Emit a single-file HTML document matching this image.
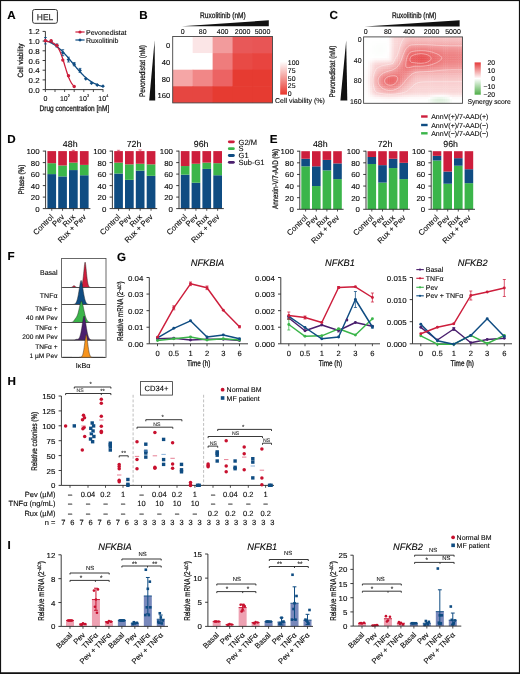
<!DOCTYPE html>
<html><head><meta charset="utf-8"><style>
html,body{margin:0;padding:0;background:#fff;}
svg{display:block;will-change:transform;}
text{font-family:"Liberation Sans", sans-serif;text-rendering:geometricPrecision;}
</style></head><body>
<svg width="520" height="674" viewBox="0 0 520 674" font-family='"Liberation Sans", sans-serif'>
<rect width="520" height="674" fill="#fff"/>
<rect x="0.5" y="0.5" width="519" height="672.6" fill="none" stroke="#111" stroke-width="1.2"/>
<rect x="0" y="672.5" width="520" height="1.5" fill="#111"/>
<text font-size="11.6" font-weight="bold" fill="#000" stroke="#000" stroke-width="0.15" x="7.20" y="19.20">A</text>
<rect x="32.6" y="9.5" width="24.8" height="13.8" rx="2" fill="none" stroke="#333" stroke-width="1.0"/>
<text font-size="8.4" text-anchor="middle" fill="#333" stroke="#333" stroke-width="0.25" x="45.00" y="19.50">HEL</text>
<line x1="45.40" y1="31.40" x2="45.40" y2="89.60" stroke="#262626" stroke-width="0.9"/>
<line x1="42.60" y1="89.60" x2="45.40" y2="89.60" stroke="#262626" stroke-width="0.9"/>
<text font-size="7.2" text-anchor="end" stroke="#262626" stroke-width="0.12" transform="translate(39.60 92.62) scale(1.100 1)">0.0</text>
<line x1="42.60" y1="79.90" x2="45.40" y2="79.90" stroke="#262626" stroke-width="0.9"/>
<text font-size="7.2" text-anchor="end" stroke="#262626" stroke-width="0.12" transform="translate(39.60 82.92) scale(1.100 1)">0.2</text>
<line x1="42.60" y1="70.20" x2="45.40" y2="70.20" stroke="#262626" stroke-width="0.9"/>
<text font-size="7.2" text-anchor="end" stroke="#262626" stroke-width="0.12" transform="translate(39.60 73.22) scale(1.100 1)">0.4</text>
<line x1="42.60" y1="60.50" x2="45.40" y2="60.50" stroke="#262626" stroke-width="0.9"/>
<text font-size="7.2" text-anchor="end" stroke="#262626" stroke-width="0.12" transform="translate(39.60 63.52) scale(1.100 1)">0.6</text>
<line x1="42.60" y1="50.80" x2="45.40" y2="50.80" stroke="#262626" stroke-width="0.9"/>
<text font-size="7.2" text-anchor="end" stroke="#262626" stroke-width="0.12" transform="translate(39.60 53.82) scale(1.100 1)">0.8</text>
<line x1="42.60" y1="41.10" x2="45.40" y2="41.10" stroke="#262626" stroke-width="0.9"/>
<text font-size="7.2" text-anchor="end" stroke="#262626" stroke-width="0.12" transform="translate(39.60 44.12) scale(1.100 1)">1.0</text>
<line x1="42.60" y1="31.40" x2="45.40" y2="31.40" stroke="#262626" stroke-width="0.9"/>
<text font-size="7.2" text-anchor="end" stroke="#262626" stroke-width="0.12" transform="translate(39.60 34.42) scale(1.100 1)">1.2</text>
<line x1="45.40" y1="89.60" x2="103.30" y2="89.60" stroke="#262626" stroke-width="0.9"/>
<line x1="45.40" y1="89.60" x2="45.40" y2="92.00" stroke="#262626" stroke-width="0.8"/>
<line x1="55.00" y1="89.60" x2="55.00" y2="92.00" stroke="#262626" stroke-width="0.8"/>
<line x1="64.60" y1="89.60" x2="64.60" y2="92.00" stroke="#262626" stroke-width="0.8"/>
<line x1="74.20" y1="89.60" x2="74.20" y2="92.00" stroke="#262626" stroke-width="0.8"/>
<line x1="83.80" y1="89.60" x2="83.80" y2="92.00" stroke="#262626" stroke-width="0.8"/>
<line x1="93.40" y1="89.60" x2="93.40" y2="92.00" stroke="#262626" stroke-width="0.8"/>
<line x1="103.00" y1="89.60" x2="103.00" y2="92.00" stroke="#262626" stroke-width="0.8"/>
<text font-size="7" text-anchor="middle" stroke="#262626" stroke-width="0.12" x="45.40" y="100.60">0</text>
<text font-size="7" text-anchor="middle" stroke="#262626" stroke-width="0.12" x="63.80" y="100.60">10</text>
<text font-size="3.8" stroke="#262626" stroke-width="0.12" x="67.80" y="97.00">2</text>
<text font-size="7" text-anchor="middle" stroke="#262626" stroke-width="0.12" x="83.00" y="100.60">10</text>
<text font-size="3.8" stroke="#262626" stroke-width="0.12" x="87.00" y="97.00">3</text>
<text font-size="7" text-anchor="middle" stroke="#262626" stroke-width="0.12" x="102.20" y="100.60">10</text>
<text font-size="3.8" stroke="#262626" stroke-width="0.12" x="106.20" y="97.00">4</text>
<text font-size="8.1" stroke="#262626" stroke-width="0.26" transform="translate(39.50 110.60) scale(0.807 1)">Drug concentration [nM]</text>
<text font-size="7.6" text-anchor="middle" stroke="#262626" stroke-width="0.26" transform="translate(23.00 60.40) rotate(-90) scale(0.847 1)">Cell viability</text>
<polyline points="45.40,40.40 45.98,40.61 46.55,40.82 47.13,41.04 47.70,41.27 48.28,41.51 48.86,41.76 49.43,42.02 50.01,42.30 50.58,42.58 51.16,42.88 51.74,43.19 52.31,43.51 52.89,43.84 53.46,44.19 54.04,44.55 54.62,44.93 55.19,45.32 55.77,45.72 56.34,46.14 56.92,46.57 57.50,47.01 58.07,47.47 58.65,47.95 59.22,48.44 59.80,48.94 60.38,49.46 60.95,49.99 61.53,50.53 62.10,51.09 62.68,51.67 63.26,52.25 63.83,52.85 64.41,53.46 64.98,54.09 65.56,54.72 66.14,55.37 66.71,56.02 67.29,56.69 67.86,57.36 68.44,58.04 69.02,58.73 69.59,59.42 70.17,60.12 70.74,60.82 71.32,61.52 71.90,62.23 72.47,62.94 73.05,63.65 73.62,64.35 74.20,65.06 74.78,65.76 75.35,66.46 75.93,67.15 76.50,67.84 77.08,68.52 77.66,69.20 78.23,69.86 78.81,70.52 79.38,71.17 79.96,71.80 80.54,72.43 81.11,73.04 81.69,73.64 82.26,74.23 82.84,74.81 83.42,75.37 83.99,75.92 84.57,76.45 85.14,76.97 85.72,77.48 86.30,77.97 86.87,78.45 87.45,78.91 88.02,79.36 88.60,79.79 89.18,80.21 89.75,80.61 90.33,81.00 90.90,81.38 91.48,81.74 92.06,82.09 92.63,82.43 93.21,82.75 93.78,83.07 94.36,83.37 94.94,83.65 95.51,83.93 96.09,84.19 96.66,84.45 97.24,84.69 97.82,84.92 98.39,85.14 98.97,85.36 99.54,85.56 100.12,85.75 100.70,85.94 101.27,86.12 101.85,86.29 102.42,86.45 103.00,86.60" fill="none" stroke="#0f4c82" stroke-width="1.3" stroke-linejoin="round"/>
<polyline points="45.40,41.34 45.78,41.36 46.17,41.39 46.55,41.43 46.94,41.46 47.32,41.50 47.70,41.54 48.09,41.59 48.47,41.65 48.86,41.71 49.24,41.78 49.62,41.85 50.01,41.93 50.39,42.02 50.78,42.12 51.16,42.23 51.54,42.36 51.93,42.49 52.31,42.64 52.70,42.81 53.08,42.99 53.46,43.19 53.85,43.41 54.23,43.65 54.62,43.92 55.00,44.22 55.38,44.54 55.77,44.89 56.15,45.28 56.54,45.70 56.92,46.15 57.30,46.65 57.69,47.19 58.07,47.78 58.46,48.41 58.84,49.09 59.22,49.81 59.61,50.59 59.99,51.42 60.38,52.31 60.76,53.24 61.14,54.23 61.53,55.26 61.91,56.34 62.30,57.46 62.68,58.63 63.06,59.82 63.45,61.05 63.83,62.30 64.22,63.56 64.60,64.84 64.98,66.12 65.37,67.39 65.75,68.65 66.14,69.90 66.52,71.12 66.90,72.31 67.29,73.46 67.67,74.58 68.06,75.65 68.44,76.67 68.82,77.65 69.21,78.57 69.59,79.45 69.98,80.27 70.36,81.04 70.74,81.75 71.13,82.42 71.51,83.04 71.90,83.62 72.28,84.15 72.66,84.64 73.05,85.09 73.43,85.50 73.82,85.88 74.20,86.23" fill="none" stroke="#cd1e3c" stroke-width="1.3" stroke-linejoin="round"/>
<line x1="45.40" y1="37.50" x2="45.40" y2="43.90" stroke="#0f4c82" stroke-width="0.8"/>
<line x1="44.00" y1="37.50" x2="46.80" y2="37.50" stroke="#0f4c82" stroke-width="0.8"/>
<line x1="44.00" y1="43.90" x2="46.80" y2="43.90" stroke="#0f4c82" stroke-width="0.8"/>
<polygon points="45.40,38.80 47.30,40.70 45.40,42.60 43.50,40.70" fill="#0f4c82"/>
<polygon points="51.10,39.30 53.00,41.20 51.10,43.10 49.20,41.20" fill="#0f4c82"/>
<line x1="56.90" y1="44.00" x2="56.90" y2="47.00" stroke="#0f4c82" stroke-width="0.8"/>
<line x1="55.50" y1="44.00" x2="58.30" y2="44.00" stroke="#0f4c82" stroke-width="0.8"/>
<line x1="55.50" y1="47.00" x2="58.30" y2="47.00" stroke="#0f4c82" stroke-width="0.8"/>
<polygon points="56.90,43.60 58.80,45.50 56.90,47.40 55.00,45.50" fill="#0f4c82"/>
<line x1="62.80" y1="49.70" x2="62.80" y2="55.70" stroke="#0f4c82" stroke-width="0.8"/>
<line x1="61.40" y1="49.70" x2="64.20" y2="49.70" stroke="#0f4c82" stroke-width="0.8"/>
<line x1="61.40" y1="55.70" x2="64.20" y2="55.70" stroke="#0f4c82" stroke-width="0.8"/>
<polygon points="62.80,50.80 64.70,52.70 62.80,54.60 60.90,52.70" fill="#0f4c82"/>
<line x1="68.50" y1="57.20" x2="68.50" y2="62.00" stroke="#0f4c82" stroke-width="0.8"/>
<line x1="67.10" y1="57.20" x2="69.90" y2="57.20" stroke="#0f4c82" stroke-width="0.8"/>
<line x1="67.10" y1="62.00" x2="69.90" y2="62.00" stroke="#0f4c82" stroke-width="0.8"/>
<polygon points="68.50,57.70 70.40,59.60 68.50,61.50 66.60,59.60" fill="#0f4c82"/>
<line x1="74.20" y1="62.60" x2="74.20" y2="65.80" stroke="#0f4c82" stroke-width="0.8"/>
<line x1="72.80" y1="62.60" x2="75.60" y2="62.60" stroke="#0f4c82" stroke-width="0.8"/>
<line x1="72.80" y1="65.80" x2="75.60" y2="65.80" stroke="#0f4c82" stroke-width="0.8"/>
<polygon points="74.20,62.30 76.10,64.20 74.20,66.10 72.30,64.20" fill="#0f4c82"/>
<line x1="80.00" y1="68.40" x2="80.00" y2="72.40" stroke="#0f4c82" stroke-width="0.8"/>
<line x1="78.60" y1="68.40" x2="81.40" y2="68.40" stroke="#0f4c82" stroke-width="0.8"/>
<line x1="78.60" y1="72.40" x2="81.40" y2="72.40" stroke="#0f4c82" stroke-width="0.8"/>
<polygon points="80.00,68.50 81.90,70.40 80.00,72.30 78.10,70.40" fill="#0f4c82"/>
<polygon points="85.80,76.90 87.70,78.80 85.80,80.70 83.90,78.80" fill="#0f4c82"/>
<polygon points="91.50,81.30 93.40,83.20 91.50,85.10 89.60,83.20" fill="#0f4c82"/>
<polygon points="97.20,83.10 99.10,85.00 97.20,86.90 95.30,85.00" fill="#0f4c82"/>
<polygon points="103.00,84.30 104.90,86.20 103.00,88.10 101.10,86.20" fill="#0f4c82"/>
<circle cx="45.40" cy="40.70" r="1.7" fill="#cd1e3c"/>
<circle cx="51.10" cy="40.80" r="1.7" fill="#cd1e3c"/>
<circle cx="56.90" cy="45.50" r="1.7" fill="#cd1e3c"/>
<circle cx="62.80" cy="60.10" r="1.7" fill="#cd1e3c"/>
<circle cx="68.50" cy="75.80" r="1.7" fill="#cd1e3c"/>
<circle cx="74.20" cy="86.50" r="1.7" fill="#cd1e3c"/>
<line x1="75.40" y1="32.00" x2="84.60" y2="32.00" stroke="#cd1e3c" stroke-width="1.2"/>
<circle cx="80.00" cy="32.00" r="1.6" fill="#cd1e3c"/>
<text font-size="7" stroke="#262626" stroke-width="0.12" x="86.00" y="34.50">Pevonedistat</text>
<line x1="75.40" y1="40.00" x2="84.60" y2="40.00" stroke="#0f4c82" stroke-width="1.2"/>
<polygon points="80.00,38.20 81.80,40.00 80.00,41.80 78.20,40.00" fill="#0f4c82"/>
<text font-size="7" stroke="#262626" stroke-width="0.12" x="86.00" y="42.50">Ruxolitinib</text>
<text font-size="11.6" font-weight="bold" fill="#000" stroke="#000" stroke-width="0.15" x="139.30" y="18.90">B</text>
<rect x="172.70" y="36.50" width="20.56" height="17.20" fill="#ffffff"/>
<rect x="192.66" y="36.50" width="20.56" height="17.20" fill="#fbe5e6"/>
<rect x="212.62" y="36.50" width="20.56" height="17.20" fill="#f29b9c"/>
<rect x="232.58" y="36.50" width="20.56" height="17.20" fill="#e85858"/>
<rect x="252.54" y="36.50" width="19.96" height="17.20" fill="#e85555"/>
<rect x="172.70" y="53.10" width="20.56" height="17.20" fill="#ffffff"/>
<rect x="192.66" y="53.10" width="20.56" height="17.20" fill="#ffffff"/>
<rect x="212.62" y="53.10" width="20.56" height="17.20" fill="#ef7c7c"/>
<rect x="232.58" y="53.10" width="20.56" height="17.20" fill="#e84a45"/>
<rect x="252.54" y="53.10" width="19.96" height="17.20" fill="#e8443f"/>
<rect x="172.70" y="69.70" width="20.56" height="17.20" fill="#f5a6a6"/>
<rect x="192.66" y="69.70" width="20.56" height="17.20" fill="#f18787"/>
<rect x="212.62" y="69.70" width="20.56" height="17.20" fill="#ec6363"/>
<rect x="232.58" y="69.70" width="20.56" height="17.20" fill="#e63b31"/>
<rect x="252.54" y="69.70" width="19.96" height="17.20" fill="#e63b31"/>
<rect x="172.70" y="86.30" width="20.56" height="16.60" fill="#e64641"/>
<rect x="192.66" y="86.30" width="20.56" height="16.60" fill="#e64641"/>
<rect x="212.62" y="86.30" width="20.56" height="16.60" fill="#e63b31"/>
<rect x="232.58" y="86.30" width="20.56" height="16.60" fill="#e63b31"/>
<rect x="252.54" y="86.30" width="19.96" height="16.60" fill="#e63b31"/>
<rect x="172.70" y="36.50" width="99.80" height="66.40" fill="none" stroke="#444" stroke-width="0.9"/>
<text font-size="7" text-anchor="middle" stroke="#262626" stroke-width="0.12" x="182.68" y="34.40">0</text>
<text font-size="7" text-anchor="middle" stroke="#262626" stroke-width="0.12" x="202.64" y="34.40">80</text>
<text font-size="7" text-anchor="middle" stroke="#262626" stroke-width="0.12" x="222.60" y="34.40">400</text>
<text font-size="7" text-anchor="middle" stroke="#262626" stroke-width="0.12" x="242.56" y="34.40">2000</text>
<text font-size="7" text-anchor="middle" stroke="#262626" stroke-width="0.12" x="262.52" y="34.40">5000</text>
<text font-size="7.2" text-anchor="end" stroke="#262626" stroke-width="0.12" transform="translate(170.20 48.30) scale(1.060 1)">0</text>
<text font-size="7.2" text-anchor="end" stroke="#262626" stroke-width="0.12" transform="translate(170.20 64.90) scale(1.060 1)">40</text>
<text font-size="7.2" text-anchor="end" stroke="#262626" stroke-width="0.12" transform="translate(170.20 81.50) scale(1.060 1)">80</text>
<text font-size="7.2" text-anchor="end" stroke="#262626" stroke-width="0.12" transform="translate(170.20 98.10) scale(1.060 1)">160</text>
<polygon points="182.00,26.20 268.80,20.30 268.80,26.20" fill="#111"/>
<text font-size="8.1" text-anchor="middle" stroke="#262626" stroke-width="0.26" transform="translate(222.90 17.60) scale(0.814 1)">Ruxolitinib (nM)</text>
<polygon points="154.60,40.40 155.20,100.40 149.20,100.40" fill="#111"/>
<text font-size="8.1" text-anchor="middle" stroke="#262626" stroke-width="0.26" transform="translate(144.90 71.00) rotate(-90) scale(0.791 1)">Pevonedistat (nM)</text>
<defs><linearGradient id="gB" x1="0" y1="0" x2="0" y2="1"><stop offset="0" stop-color="#ffffff"/><stop offset="1" stop-color="#e8372d"/></linearGradient><linearGradient id="gC" x1="0" y1="0" x2="0" y2="1"><stop offset="0" stop-color="#e53a3a"/><stop offset="0.5" stop-color="#ffffff"/><stop offset="1" stop-color="#4fae48"/></linearGradient></defs>
<rect x="280.20" y="61.50" width="6.80" height="33.10" fill="url(#gB)"/>
<text font-size="6.9" stroke="#262626" stroke-width="0.12" x="287.80" y="65.40">100</text>
<text font-size="6.9" stroke="#262626" stroke-width="0.12" x="287.80" y="73.05">75</text>
<text font-size="6.9" stroke="#262626" stroke-width="0.12" x="287.80" y="80.70">50</text>
<text font-size="6.9" stroke="#262626" stroke-width="0.12" x="287.80" y="88.35">25</text>
<text font-size="6.9" stroke="#262626" stroke-width="0.12" x="287.80" y="96.00">0</text>
<text font-size="7" stroke="#262626" stroke-width="0.12" x="275.00" y="103.30">Cell viability (%)</text>
<text font-size="11.6" font-weight="bold" fill="#000" stroke="#000" stroke-width="0.15" x="329.60" y="19.00">C</text>
<defs><clipPath id="clipC"><rect x="363.60" y="36.90" width="98.90" height="66.40"/></clipPath><filter id="blC" x="-50%" y="-50%" width="200%" height="200%"><feGaussianBlur stdDeviation="3.2"/></filter><filter id="blC2" x="-50%" y="-50%" width="200%" height="200%"><feGaussianBlur stdDeviation="2.2"/></filter></defs>
<g clip-path="url(#clipC)">
<rect x="363.60" y="36.90" width="98.90" height="66.40" fill="#ffffff"/>
<rect x="387.25" y="36.90" width="2.55" height="2.54" fill="#fffdfd"/>
<rect x="389.40" y="36.90" width="2.55" height="2.54" fill="#fdf2f2"/>
<rect x="391.55" y="36.90" width="2.55" height="2.54" fill="#fbe4e4"/>
<rect x="393.70" y="36.90" width="2.55" height="2.54" fill="#fad9da"/>
<rect x="395.85" y="36.90" width="2.55" height="2.54" fill="#fad7d7"/>
<rect x="398.00" y="36.90" width="2.55" height="2.54" fill="#f9d5d6"/>
<rect x="400.15" y="36.90" width="2.55" height="2.54" fill="#f9d2d3"/>
<rect x="402.30" y="36.90" width="2.55" height="2.54" fill="#f8cfcf"/>
<rect x="404.45" y="36.90" width="2.55" height="2.54" fill="#f8cbcb"/>
<rect x="406.60" y="36.90" width="2.55" height="2.54" fill="#f7c7c8"/>
<rect x="408.75" y="36.90" width="2.55" height="2.54" fill="#f7c5c5"/>
<rect x="410.90" y="36.90" width="2.55" height="2.54" fill="#f7c3c4"/>
<rect x="413.05" y="36.90" width="2.55" height="2.54" fill="#f7c3c4"/>
<rect x="415.20" y="36.90" width="2.55" height="2.54" fill="#f7c3c4"/>
<rect x="417.35" y="36.90" width="2.55" height="2.54" fill="#f7c3c4"/>
<rect x="419.50" y="36.90" width="2.55" height="2.54" fill="#f7c3c4"/>
<rect x="421.65" y="36.90" width="2.55" height="2.54" fill="#f7c3c4"/>
<rect x="423.80" y="36.90" width="2.55" height="2.54" fill="#f7c3c4"/>
<rect x="425.95" y="36.90" width="2.55" height="2.54" fill="#f7c3c4"/>
<rect x="428.10" y="36.90" width="2.55" height="2.54" fill="#f7c3c4"/>
<rect x="430.25" y="36.90" width="2.55" height="2.54" fill="#f7c4c4"/>
<rect x="432.40" y="36.90" width="2.55" height="2.54" fill="#f7c4c4"/>
<rect x="434.55" y="36.90" width="2.55" height="2.54" fill="#f7c4c4"/>
<rect x="436.70" y="36.90" width="2.55" height="2.54" fill="#f7c4c4"/>
<rect x="438.85" y="36.90" width="2.55" height="2.54" fill="#f7c4c4"/>
<rect x="441.00" y="36.90" width="2.55" height="2.54" fill="#f7c4c4"/>
<rect x="443.15" y="36.90" width="2.55" height="2.54" fill="#f7c4c4"/>
<rect x="445.30" y="36.90" width="2.55" height="2.54" fill="#f7c4c4"/>
<rect x="447.45" y="36.90" width="2.55" height="2.54" fill="#f7c4c4"/>
<rect x="449.60" y="36.90" width="2.55" height="2.54" fill="#f7c4c4"/>
<rect x="451.75" y="36.90" width="2.55" height="2.54" fill="#f7c4c4"/>
<rect x="453.90" y="36.90" width="2.55" height="2.54" fill="#f7c4c4"/>
<rect x="456.05" y="36.90" width="2.55" height="2.54" fill="#f7c4c4"/>
<rect x="458.20" y="36.90" width="2.55" height="2.54" fill="#f7c4c4"/>
<rect x="460.35" y="36.90" width="2.55" height="2.54" fill="#f7c4c4"/>
<rect x="378.65" y="39.04" width="2.55" height="2.54" fill="#fefffe"/>
<rect x="387.25" y="39.04" width="2.55" height="2.54" fill="#fffdfd"/>
<rect x="389.40" y="39.04" width="2.55" height="2.54" fill="#fdf2f2"/>
<rect x="391.55" y="39.04" width="2.55" height="2.54" fill="#fbe4e4"/>
<rect x="393.70" y="39.04" width="2.55" height="2.54" fill="#fad9da"/>
<rect x="395.85" y="39.04" width="2.55" height="2.54" fill="#fad7d7"/>
<rect x="398.00" y="39.04" width="2.55" height="2.54" fill="#f9d4d5"/>
<rect x="400.15" y="39.04" width="2.55" height="2.54" fill="#f9d0d1"/>
<rect x="402.30" y="39.04" width="2.55" height="2.54" fill="#f8cbcc"/>
<rect x="404.45" y="39.04" width="2.55" height="2.54" fill="#f7c6c6"/>
<rect x="406.60" y="39.04" width="2.55" height="2.54" fill="#f7c1c2"/>
<rect x="408.75" y="39.04" width="2.55" height="2.54" fill="#f6bebe"/>
<rect x="410.90" y="39.04" width="2.55" height="2.54" fill="#f6bcbd"/>
<rect x="413.05" y="39.04" width="2.55" height="2.54" fill="#f6bcbd"/>
<rect x="415.20" y="39.04" width="2.55" height="2.54" fill="#f6bcbd"/>
<rect x="417.35" y="39.04" width="2.55" height="2.54" fill="#f6bcbc"/>
<rect x="419.50" y="39.04" width="2.55" height="2.54" fill="#f6bcbc"/>
<rect x="421.65" y="39.04" width="2.55" height="2.54" fill="#f6bcbc"/>
<rect x="423.80" y="39.04" width="2.55" height="2.54" fill="#f6bcbc"/>
<rect x="425.95" y="39.04" width="2.55" height="2.54" fill="#f6bcbd"/>
<rect x="428.10" y="39.04" width="2.55" height="2.54" fill="#f6bcbd"/>
<rect x="430.25" y="39.04" width="2.55" height="2.54" fill="#f6bcbd"/>
<rect x="432.40" y="39.04" width="2.55" height="2.54" fill="#f6bcbd"/>
<rect x="434.55" y="39.04" width="2.55" height="2.54" fill="#f6bcbd"/>
<rect x="436.70" y="39.04" width="2.55" height="2.54" fill="#f6bdbd"/>
<rect x="438.85" y="39.04" width="2.55" height="2.54" fill="#f6bdbd"/>
<rect x="441.00" y="39.04" width="2.55" height="2.54" fill="#f6bdbd"/>
<rect x="443.15" y="39.04" width="2.55" height="2.54" fill="#f6bdbe"/>
<rect x="445.30" y="39.04" width="2.55" height="2.54" fill="#f6bdbe"/>
<rect x="447.45" y="39.04" width="2.55" height="2.54" fill="#f6bdbe"/>
<rect x="449.60" y="39.04" width="2.55" height="2.54" fill="#f6bdbe"/>
<rect x="451.75" y="39.04" width="2.55" height="2.54" fill="#f6bdbe"/>
<rect x="453.90" y="39.04" width="2.55" height="2.54" fill="#f6bdbe"/>
<rect x="456.05" y="39.04" width="2.55" height="2.54" fill="#f6bdbe"/>
<rect x="458.20" y="39.04" width="2.55" height="2.54" fill="#f6bdbe"/>
<rect x="460.35" y="39.04" width="2.55" height="2.54" fill="#f6bdbe"/>
<rect x="372.20" y="41.18" width="2.55" height="2.54" fill="#fefffe"/>
<rect x="374.35" y="41.18" width="2.55" height="2.54" fill="#fefffe"/>
<rect x="376.50" y="41.18" width="2.55" height="2.54" fill="#fefffe"/>
<rect x="378.65" y="41.18" width="2.55" height="2.54" fill="#fefffe"/>
<rect x="380.80" y="41.18" width="2.55" height="2.54" fill="#fefffe"/>
<rect x="382.95" y="41.18" width="2.55" height="2.54" fill="#fefffe"/>
<rect x="385.10" y="41.18" width="2.55" height="2.54" fill="#fefffe"/>
<rect x="387.25" y="41.18" width="2.55" height="2.54" fill="#fffdfd"/>
<rect x="389.40" y="41.18" width="2.55" height="2.54" fill="#fdf2f2"/>
<rect x="391.55" y="41.18" width="2.55" height="2.54" fill="#fbe4e4"/>
<rect x="393.70" y="41.18" width="2.55" height="2.54" fill="#fad9d9"/>
<rect x="395.85" y="41.18" width="2.55" height="2.54" fill="#fad7d7"/>
<rect x="398.00" y="41.18" width="2.55" height="2.54" fill="#f9d3d4"/>
<rect x="400.15" y="41.18" width="2.55" height="2.54" fill="#f8cecf"/>
<rect x="402.30" y="41.18" width="2.55" height="2.54" fill="#f7c7c8"/>
<rect x="404.45" y="41.18" width="2.55" height="2.54" fill="#f6c0c1"/>
<rect x="406.60" y="41.18" width="2.55" height="2.54" fill="#f6baba"/>
<rect x="408.75" y="41.18" width="2.55" height="2.54" fill="#f5b5b6"/>
<rect x="410.90" y="41.18" width="2.55" height="2.54" fill="#f5b3b4"/>
<rect x="413.05" y="41.18" width="2.55" height="2.54" fill="#f5b3b3"/>
<rect x="415.20" y="41.18" width="2.55" height="2.54" fill="#f5b2b3"/>
<rect x="417.35" y="41.18" width="2.55" height="2.54" fill="#f5b2b3"/>
<rect x="419.50" y="41.18" width="2.55" height="2.54" fill="#f5b2b3"/>
<rect x="421.65" y="41.18" width="2.55" height="2.54" fill="#f5b2b3"/>
<rect x="423.80" y="41.18" width="2.55" height="2.54" fill="#f5b2b3"/>
<rect x="425.95" y="41.18" width="2.55" height="2.54" fill="#f5b3b3"/>
<rect x="428.10" y="41.18" width="2.55" height="2.54" fill="#f5b3b4"/>
<rect x="430.25" y="41.18" width="2.55" height="2.54" fill="#f5b3b4"/>
<rect x="432.40" y="41.18" width="2.55" height="2.54" fill="#f5b3b4"/>
<rect x="434.55" y="41.18" width="2.55" height="2.54" fill="#f5b4b5"/>
<rect x="436.70" y="41.18" width="2.55" height="2.54" fill="#f5b4b5"/>
<rect x="438.85" y="41.18" width="2.55" height="2.54" fill="#f5b4b5"/>
<rect x="441.00" y="41.18" width="2.55" height="2.54" fill="#f5b4b5"/>
<rect x="443.15" y="41.18" width="2.55" height="2.54" fill="#f5b5b5"/>
<rect x="445.30" y="41.18" width="2.55" height="2.54" fill="#f5b5b5"/>
<rect x="447.45" y="41.18" width="2.55" height="2.54" fill="#f5b5b6"/>
<rect x="449.60" y="41.18" width="2.55" height="2.54" fill="#f5b5b6"/>
<rect x="451.75" y="41.18" width="2.55" height="2.54" fill="#f5b5b6"/>
<rect x="453.90" y="41.18" width="2.55" height="2.54" fill="#f5b5b6"/>
<rect x="456.05" y="41.18" width="2.55" height="2.54" fill="#f5b5b6"/>
<rect x="458.20" y="41.18" width="2.55" height="2.54" fill="#f5b5b6"/>
<rect x="460.35" y="41.18" width="2.55" height="2.54" fill="#f5b5b6"/>
<rect x="370.05" y="43.33" width="2.55" height="2.54" fill="#fefffe"/>
<rect x="372.20" y="43.33" width="2.55" height="2.54" fill="#fefffe"/>
<rect x="374.35" y="43.33" width="2.55" height="2.54" fill="#fefefe"/>
<rect x="376.50" y="43.33" width="2.55" height="2.54" fill="#fdfefd"/>
<rect x="378.65" y="43.33" width="2.55" height="2.54" fill="#fdfefd"/>
<rect x="380.80" y="43.33" width="2.55" height="2.54" fill="#fdfefd"/>
<rect x="382.95" y="43.33" width="2.55" height="2.54" fill="#fdfefd"/>
<rect x="385.10" y="43.33" width="2.55" height="2.54" fill="#fefefe"/>
<rect x="387.25" y="43.33" width="2.55" height="2.54" fill="#fffdfd"/>
<rect x="389.40" y="43.33" width="2.55" height="2.54" fill="#fdf2f2"/>
<rect x="391.55" y="43.33" width="2.55" height="2.54" fill="#fbe4e4"/>
<rect x="393.70" y="43.33" width="2.55" height="2.54" fill="#fad9d9"/>
<rect x="395.85" y="43.33" width="2.55" height="2.54" fill="#f9d6d7"/>
<rect x="398.00" y="43.33" width="2.55" height="2.54" fill="#f9d2d3"/>
<rect x="400.15" y="43.33" width="2.55" height="2.54" fill="#f8cbcc"/>
<rect x="402.30" y="43.33" width="2.55" height="2.54" fill="#f7c2c3"/>
<rect x="404.45" y="43.33" width="2.55" height="2.54" fill="#f6b9ba"/>
<rect x="406.60" y="43.33" width="2.55" height="2.54" fill="#f4b1b2"/>
<rect x="408.75" y="43.33" width="2.55" height="2.54" fill="#f4abac"/>
<rect x="410.90" y="43.33" width="2.55" height="2.54" fill="#f3a8a9"/>
<rect x="413.05" y="43.33" width="2.55" height="2.54" fill="#f3a7a8"/>
<rect x="415.20" y="43.33" width="2.55" height="2.54" fill="#f3a7a8"/>
<rect x="417.35" y="43.33" width="2.55" height="2.54" fill="#f3a7a7"/>
<rect x="419.50" y="43.33" width="2.55" height="2.54" fill="#f3a6a7"/>
<rect x="421.65" y="43.33" width="2.55" height="2.54" fill="#f3a6a7"/>
<rect x="423.80" y="43.33" width="2.55" height="2.54" fill="#f3a7a8"/>
<rect x="425.95" y="43.33" width="2.55" height="2.54" fill="#f3a7a8"/>
<rect x="428.10" y="43.33" width="2.55" height="2.54" fill="#f3a8a9"/>
<rect x="430.25" y="43.33" width="2.55" height="2.54" fill="#f3a8a9"/>
<rect x="432.40" y="43.33" width="2.55" height="2.54" fill="#f3a9aa"/>
<rect x="434.55" y="43.33" width="2.55" height="2.54" fill="#f3aaaa"/>
<rect x="436.70" y="43.33" width="2.55" height="2.54" fill="#f3aaab"/>
<rect x="438.85" y="43.33" width="2.55" height="2.54" fill="#f4abab"/>
<rect x="441.00" y="43.33" width="2.55" height="2.54" fill="#f4abac"/>
<rect x="443.15" y="43.33" width="2.55" height="2.54" fill="#f4abac"/>
<rect x="445.30" y="43.33" width="2.55" height="2.54" fill="#f4abac"/>
<rect x="447.45" y="43.33" width="2.55" height="2.54" fill="#f4acac"/>
<rect x="449.60" y="43.33" width="2.55" height="2.54" fill="#f4acad"/>
<rect x="451.75" y="43.33" width="2.55" height="2.54" fill="#f4acad"/>
<rect x="453.90" y="43.33" width="2.55" height="2.54" fill="#f4acad"/>
<rect x="456.05" y="43.33" width="2.55" height="2.54" fill="#f4acad"/>
<rect x="458.20" y="43.33" width="2.55" height="2.54" fill="#f4acad"/>
<rect x="460.35" y="43.33" width="2.55" height="2.54" fill="#f4acad"/>
<rect x="367.90" y="45.47" width="2.55" height="2.54" fill="#fefffe"/>
<rect x="370.05" y="45.47" width="2.55" height="2.54" fill="#fefffe"/>
<rect x="372.20" y="45.47" width="2.55" height="2.54" fill="#fdfefd"/>
<rect x="374.35" y="45.47" width="2.55" height="2.54" fill="#fdfefd"/>
<rect x="376.50" y="45.47" width="2.55" height="2.54" fill="#fcfefc"/>
<rect x="378.65" y="45.47" width="2.55" height="2.54" fill="#fcfefc"/>
<rect x="380.80" y="45.47" width="2.55" height="2.54" fill="#fcfefc"/>
<rect x="382.95" y="45.47" width="2.55" height="2.54" fill="#fdfefd"/>
<rect x="385.10" y="45.47" width="2.55" height="2.54" fill="#fdfefd"/>
<rect x="387.25" y="45.47" width="2.55" height="2.54" fill="#fffefe"/>
<rect x="389.40" y="45.47" width="2.55" height="2.54" fill="#fdf2f2"/>
<rect x="391.55" y="45.47" width="2.55" height="2.54" fill="#fbe4e4"/>
<rect x="393.70" y="45.47" width="2.55" height="2.54" fill="#fad9d9"/>
<rect x="395.85" y="45.47" width="2.55" height="2.54" fill="#f9d6d6"/>
<rect x="398.00" y="45.47" width="2.55" height="2.54" fill="#f9d1d1"/>
<rect x="400.15" y="45.47" width="2.55" height="2.54" fill="#f8c8c8"/>
<rect x="402.30" y="45.47" width="2.55" height="2.54" fill="#f6bdbe"/>
<rect x="404.45" y="45.47" width="2.55" height="2.54" fill="#f4b1b2"/>
<rect x="406.60" y="45.47" width="2.55" height="2.54" fill="#f3a7a8"/>
<rect x="408.75" y="45.47" width="2.55" height="2.54" fill="#f29fa0"/>
<rect x="410.90" y="45.47" width="2.55" height="2.54" fill="#f19b9c"/>
<rect x="413.05" y="45.47" width="2.55" height="2.54" fill="#f19a9b"/>
<rect x="415.20" y="45.47" width="2.55" height="2.54" fill="#f1999a"/>
<rect x="417.35" y="45.47" width="2.55" height="2.54" fill="#f1999a"/>
<rect x="419.50" y="45.47" width="2.55" height="2.54" fill="#f19899"/>
<rect x="421.65" y="45.47" width="2.55" height="2.54" fill="#f1999a"/>
<rect x="423.80" y="45.47" width="2.55" height="2.54" fill="#f1999a"/>
<rect x="425.95" y="45.47" width="2.55" height="2.54" fill="#f19a9b"/>
<rect x="428.10" y="45.47" width="2.55" height="2.54" fill="#f19b9c"/>
<rect x="430.25" y="45.47" width="2.55" height="2.54" fill="#f29c9d"/>
<rect x="432.40" y="45.47" width="2.55" height="2.54" fill="#f29d9e"/>
<rect x="434.55" y="45.47" width="2.55" height="2.54" fill="#f29e9f"/>
<rect x="436.70" y="45.47" width="2.55" height="2.54" fill="#f29fa0"/>
<rect x="438.85" y="45.47" width="2.55" height="2.54" fill="#f2a0a1"/>
<rect x="441.00" y="45.47" width="2.55" height="2.54" fill="#f2a1a2"/>
<rect x="443.15" y="45.47" width="2.55" height="2.54" fill="#f2a1a2"/>
<rect x="445.30" y="45.47" width="2.55" height="2.54" fill="#f2a2a2"/>
<rect x="447.45" y="45.47" width="2.55" height="2.54" fill="#f2a2a3"/>
<rect x="449.60" y="45.47" width="2.55" height="2.54" fill="#f2a2a3"/>
<rect x="451.75" y="45.47" width="2.55" height="2.54" fill="#f2a2a3"/>
<rect x="453.90" y="45.47" width="2.55" height="2.54" fill="#f2a2a3"/>
<rect x="456.05" y="45.47" width="2.55" height="2.54" fill="#f2a2a3"/>
<rect x="458.20" y="45.47" width="2.55" height="2.54" fill="#f2a2a3"/>
<rect x="460.35" y="45.47" width="2.55" height="2.54" fill="#f2a2a3"/>
<rect x="367.90" y="47.61" width="2.55" height="2.54" fill="#fefffe"/>
<rect x="370.05" y="47.61" width="2.55" height="2.54" fill="#fefefe"/>
<rect x="372.20" y="47.61" width="2.55" height="2.54" fill="#fdfefd"/>
<rect x="374.35" y="47.61" width="2.55" height="2.54" fill="#fcfefc"/>
<rect x="376.50" y="47.61" width="2.55" height="2.54" fill="#fcfefc"/>
<rect x="378.65" y="47.61" width="2.55" height="2.54" fill="#fcfdfb"/>
<rect x="380.80" y="47.61" width="2.55" height="2.54" fill="#fcfdfc"/>
<rect x="382.95" y="47.61" width="2.55" height="2.54" fill="#fcfefc"/>
<rect x="385.10" y="47.61" width="2.55" height="2.54" fill="#fdfefd"/>
<rect x="387.25" y="47.61" width="2.55" height="2.54" fill="#fffefe"/>
<rect x="389.40" y="47.61" width="2.55" height="2.54" fill="#fdf2f2"/>
<rect x="391.55" y="47.61" width="2.55" height="2.54" fill="#fbe3e4"/>
<rect x="393.70" y="47.61" width="2.55" height="2.54" fill="#fad8d9"/>
<rect x="395.85" y="47.61" width="2.55" height="2.54" fill="#f9d5d5"/>
<rect x="398.00" y="47.61" width="2.55" height="2.54" fill="#f8cfcf"/>
<rect x="400.15" y="47.61" width="2.55" height="2.54" fill="#f7c4c4"/>
<rect x="402.30" y="47.61" width="2.55" height="2.54" fill="#f5b7b7"/>
<rect x="404.45" y="47.61" width="2.55" height="2.54" fill="#f3a9aa"/>
<rect x="406.60" y="47.61" width="2.55" height="2.54" fill="#f29c9d"/>
<rect x="408.75" y="47.61" width="2.55" height="2.54" fill="#f09293"/>
<rect x="410.90" y="47.61" width="2.55" height="2.54" fill="#f08d8e"/>
<rect x="413.05" y="47.61" width="2.55" height="2.54" fill="#ef8b8d"/>
<rect x="415.20" y="47.61" width="2.55" height="2.54" fill="#ef8a8b"/>
<rect x="417.35" y="47.61" width="2.55" height="2.54" fill="#ef898a"/>
<rect x="419.50" y="47.61" width="2.55" height="2.54" fill="#ef898a"/>
<rect x="421.65" y="47.61" width="2.55" height="2.54" fill="#ef898a"/>
<rect x="423.80" y="47.61" width="2.55" height="2.54" fill="#ef8a8b"/>
<rect x="425.95" y="47.61" width="2.55" height="2.54" fill="#ef8b8c"/>
<rect x="428.10" y="47.61" width="2.55" height="2.54" fill="#ef8c8e"/>
<rect x="430.25" y="47.61" width="2.55" height="2.54" fill="#f08e8f"/>
<rect x="432.40" y="47.61" width="2.55" height="2.54" fill="#f09091"/>
<rect x="434.55" y="47.61" width="2.55" height="2.54" fill="#f09293"/>
<rect x="436.70" y="47.61" width="2.55" height="2.54" fill="#f09495"/>
<rect x="438.85" y="47.61" width="2.55" height="2.54" fill="#f19596"/>
<rect x="441.00" y="47.61" width="2.55" height="2.54" fill="#f19697"/>
<rect x="443.15" y="47.61" width="2.55" height="2.54" fill="#f19798"/>
<rect x="445.30" y="47.61" width="2.55" height="2.54" fill="#f19899"/>
<rect x="447.45" y="47.61" width="2.55" height="2.54" fill="#f19899"/>
<rect x="449.60" y="47.61" width="2.55" height="2.54" fill="#f19899"/>
<rect x="451.75" y="47.61" width="2.55" height="2.54" fill="#f1989a"/>
<rect x="453.90" y="47.61" width="2.55" height="2.54" fill="#f1999a"/>
<rect x="456.05" y="47.61" width="2.55" height="2.54" fill="#f1999a"/>
<rect x="458.20" y="47.61" width="2.55" height="2.54" fill="#f1999a"/>
<rect x="460.35" y="47.61" width="2.55" height="2.54" fill="#f1999a"/>
<rect x="367.90" y="49.75" width="2.55" height="2.54" fill="#fefffe"/>
<rect x="370.05" y="49.75" width="2.55" height="2.54" fill="#fefefe"/>
<rect x="372.20" y="49.75" width="2.55" height="2.54" fill="#fdfefd"/>
<rect x="374.35" y="49.75" width="2.55" height="2.54" fill="#fcfefc"/>
<rect x="376.50" y="49.75" width="2.55" height="2.54" fill="#fcfefc"/>
<rect x="378.65" y="49.75" width="2.55" height="2.54" fill="#fcfdfb"/>
<rect x="380.80" y="49.75" width="2.55" height="2.54" fill="#fcfdfc"/>
<rect x="382.95" y="49.75" width="2.55" height="2.54" fill="#fcfefc"/>
<rect x="385.10" y="49.75" width="2.55" height="2.54" fill="#fdfefd"/>
<rect x="387.25" y="49.75" width="2.55" height="2.54" fill="#fffefe"/>
<rect x="389.40" y="49.75" width="2.55" height="2.54" fill="#fdf2f2"/>
<rect x="391.55" y="49.75" width="2.55" height="2.54" fill="#fbe3e3"/>
<rect x="393.70" y="49.75" width="2.55" height="2.54" fill="#fad7d8"/>
<rect x="395.85" y="49.75" width="2.55" height="2.54" fill="#f9d4d4"/>
<rect x="398.00" y="49.75" width="2.55" height="2.54" fill="#f8cccc"/>
<rect x="400.15" y="49.75" width="2.55" height="2.54" fill="#f6bfc0"/>
<rect x="402.30" y="49.75" width="2.55" height="2.54" fill="#f4b0b1"/>
<rect x="404.45" y="49.75" width="2.55" height="2.54" fill="#f2a0a1"/>
<rect x="406.60" y="49.75" width="2.55" height="2.54" fill="#f09092"/>
<rect x="408.75" y="49.75" width="2.55" height="2.54" fill="#ee8586"/>
<rect x="410.90" y="49.75" width="2.55" height="2.54" fill="#ee7e80"/>
<rect x="413.05" y="49.75" width="2.55" height="2.54" fill="#ed7c7d"/>
<rect x="415.20" y="49.75" width="2.55" height="2.54" fill="#ed7a7b"/>
<rect x="417.35" y="49.75" width="2.55" height="2.54" fill="#ed797a"/>
<rect x="419.50" y="49.75" width="2.55" height="2.54" fill="#ed7879"/>
<rect x="421.65" y="49.75" width="2.55" height="2.54" fill="#ed787a"/>
<rect x="423.80" y="49.75" width="2.55" height="2.54" fill="#ed797b"/>
<rect x="425.95" y="49.75" width="2.55" height="2.54" fill="#ed7b7d"/>
<rect x="428.10" y="49.75" width="2.55" height="2.54" fill="#ed7e7f"/>
<rect x="430.25" y="49.75" width="2.55" height="2.54" fill="#ee8082"/>
<rect x="432.40" y="49.75" width="2.55" height="2.54" fill="#ee8385"/>
<rect x="434.55" y="49.75" width="2.55" height="2.54" fill="#ef8687"/>
<rect x="436.70" y="49.75" width="2.55" height="2.54" fill="#ef888a"/>
<rect x="438.85" y="49.75" width="2.55" height="2.54" fill="#ef8b8c"/>
<rect x="441.00" y="49.75" width="2.55" height="2.54" fill="#ef8c8d"/>
<rect x="443.15" y="49.75" width="2.55" height="2.54" fill="#f08d8f"/>
<rect x="445.30" y="49.75" width="2.55" height="2.54" fill="#f08e8f"/>
<rect x="447.45" y="49.75" width="2.55" height="2.54" fill="#f08f90"/>
<rect x="449.60" y="49.75" width="2.55" height="2.54" fill="#f08f91"/>
<rect x="451.75" y="49.75" width="2.55" height="2.54" fill="#f09091"/>
<rect x="453.90" y="49.75" width="2.55" height="2.54" fill="#f09091"/>
<rect x="456.05" y="49.75" width="2.55" height="2.54" fill="#f09091"/>
<rect x="458.20" y="49.75" width="2.55" height="2.54" fill="#f09091"/>
<rect x="460.35" y="49.75" width="2.55" height="2.54" fill="#f09091"/>
<rect x="367.90" y="51.89" width="2.55" height="2.54" fill="#fefffe"/>
<rect x="370.05" y="51.89" width="2.55" height="2.54" fill="#fefffe"/>
<rect x="372.20" y="51.89" width="2.55" height="2.54" fill="#fdfefd"/>
<rect x="374.35" y="51.89" width="2.55" height="2.54" fill="#fdfefd"/>
<rect x="376.50" y="51.89" width="2.55" height="2.54" fill="#fcfefc"/>
<rect x="378.65" y="51.89" width="2.55" height="2.54" fill="#fcfefc"/>
<rect x="380.80" y="51.89" width="2.55" height="2.54" fill="#fcfefc"/>
<rect x="382.95" y="51.89" width="2.55" height="2.54" fill="#fdfefd"/>
<rect x="385.10" y="51.89" width="2.55" height="2.54" fill="#fefefe"/>
<rect x="387.25" y="51.89" width="2.55" height="2.54" fill="#fffdfd"/>
<rect x="389.40" y="51.89" width="2.55" height="2.54" fill="#fdf1f1"/>
<rect x="391.55" y="51.89" width="2.55" height="2.54" fill="#fbe2e2"/>
<rect x="393.70" y="51.89" width="2.55" height="2.54" fill="#f9d6d7"/>
<rect x="395.85" y="51.89" width="2.55" height="2.54" fill="#f9d2d2"/>
<rect x="398.00" y="51.89" width="2.55" height="2.54" fill="#f8c9c9"/>
<rect x="400.15" y="51.89" width="2.55" height="2.54" fill="#f6babb"/>
<rect x="402.30" y="51.89" width="2.55" height="2.54" fill="#f3a9aa"/>
<rect x="404.45" y="51.89" width="2.55" height="2.54" fill="#f19798"/>
<rect x="406.60" y="51.89" width="2.55" height="2.54" fill="#ef8587"/>
<rect x="408.75" y="51.89" width="2.55" height="2.54" fill="#ed7879"/>
<rect x="410.90" y="51.89" width="2.55" height="2.54" fill="#ec7172"/>
<rect x="413.05" y="51.89" width="2.55" height="2.54" fill="#eb6d6f"/>
<rect x="415.20" y="51.89" width="2.55" height="2.54" fill="#eb6b6c"/>
<rect x="417.35" y="51.89" width="2.55" height="2.54" fill="#eb696a"/>
<rect x="419.50" y="51.89" width="2.55" height="2.54" fill="#eb6869"/>
<rect x="421.65" y="51.89" width="2.55" height="2.54" fill="#eb686a"/>
<rect x="423.80" y="51.89" width="2.55" height="2.54" fill="#eb6a6b"/>
<rect x="425.95" y="51.89" width="2.55" height="2.54" fill="#eb6d6e"/>
<rect x="428.10" y="51.89" width="2.55" height="2.54" fill="#ec7071"/>
<rect x="430.25" y="51.89" width="2.55" height="2.54" fill="#ec7475"/>
<rect x="432.40" y="51.89" width="2.55" height="2.54" fill="#ed7879"/>
<rect x="434.55" y="51.89" width="2.55" height="2.54" fill="#ed7b7d"/>
<rect x="436.70" y="51.89" width="2.55" height="2.54" fill="#ee7f80"/>
<rect x="438.85" y="51.89" width="2.55" height="2.54" fill="#ee8183"/>
<rect x="441.00" y="51.89" width="2.55" height="2.54" fill="#ee8485"/>
<rect x="443.15" y="51.89" width="2.55" height="2.54" fill="#ee8587"/>
<rect x="445.30" y="51.89" width="2.55" height="2.54" fill="#ef8788"/>
<rect x="447.45" y="51.89" width="2.55" height="2.54" fill="#ef8789"/>
<rect x="449.60" y="51.89" width="2.55" height="2.54" fill="#ef8889"/>
<rect x="451.75" y="51.89" width="2.55" height="2.54" fill="#ef888a"/>
<rect x="453.90" y="51.89" width="2.55" height="2.54" fill="#ef898a"/>
<rect x="456.05" y="51.89" width="2.55" height="2.54" fill="#ef898a"/>
<rect x="458.20" y="51.89" width="2.55" height="2.54" fill="#ef898a"/>
<rect x="460.35" y="51.89" width="2.55" height="2.54" fill="#ef898a"/>
<rect x="370.05" y="54.04" width="2.55" height="2.54" fill="#fefffe"/>
<rect x="372.20" y="54.04" width="2.55" height="2.54" fill="#fefffe"/>
<rect x="374.35" y="54.04" width="2.55" height="2.54" fill="#fdfefd"/>
<rect x="376.50" y="54.04" width="2.55" height="2.54" fill="#fdfefd"/>
<rect x="378.65" y="54.04" width="2.55" height="2.54" fill="#fdfefd"/>
<rect x="380.80" y="54.04" width="2.55" height="2.54" fill="#fdfefd"/>
<rect x="382.95" y="54.04" width="2.55" height="2.54" fill="#fefefe"/>
<rect x="385.10" y="54.04" width="2.55" height="2.54" fill="#fefffe"/>
<rect x="387.25" y="54.04" width="2.55" height="2.54" fill="#fffcfc"/>
<rect x="389.40" y="54.04" width="2.55" height="2.54" fill="#fdf0f0"/>
<rect x="391.55" y="54.04" width="2.55" height="2.54" fill="#fbe1e1"/>
<rect x="393.70" y="54.04" width="2.55" height="2.54" fill="#f9d4d5"/>
<rect x="395.85" y="54.04" width="2.55" height="2.54" fill="#f8cfcf"/>
<rect x="398.00" y="54.04" width="2.55" height="2.54" fill="#f7c5c5"/>
<rect x="400.15" y="54.04" width="2.55" height="2.54" fill="#f5b5b6"/>
<rect x="402.30" y="54.04" width="2.55" height="2.54" fill="#f2a2a3"/>
<rect x="404.45" y="54.04" width="2.55" height="2.54" fill="#f08e8f"/>
<rect x="406.60" y="54.04" width="2.55" height="2.54" fill="#ed7c7d"/>
<rect x="408.75" y="54.04" width="2.55" height="2.54" fill="#eb6d6f"/>
<rect x="410.90" y="54.04" width="2.55" height="2.54" fill="#ea6567"/>
<rect x="413.05" y="54.04" width="2.55" height="2.54" fill="#ea6263"/>
<rect x="415.20" y="54.04" width="2.55" height="2.54" fill="#e95e60"/>
<rect x="417.35" y="54.04" width="2.55" height="2.54" fill="#e95c5e"/>
<rect x="419.50" y="54.04" width="2.55" height="2.54" fill="#e95b5d"/>
<rect x="421.65" y="54.04" width="2.55" height="2.54" fill="#e95c5d"/>
<rect x="423.80" y="54.04" width="2.55" height="2.54" fill="#e95d5f"/>
<rect x="425.95" y="54.04" width="2.55" height="2.54" fill="#ea6162"/>
<rect x="428.10" y="54.04" width="2.55" height="2.54" fill="#ea6566"/>
<rect x="430.25" y="54.04" width="2.55" height="2.54" fill="#eb6a6b"/>
<rect x="432.40" y="54.04" width="2.55" height="2.54" fill="#eb6e70"/>
<rect x="434.55" y="54.04" width="2.55" height="2.54" fill="#ec7374"/>
<rect x="436.70" y="54.04" width="2.55" height="2.54" fill="#ed7779"/>
<rect x="438.85" y="54.04" width="2.55" height="2.54" fill="#ed7b7c"/>
<rect x="441.00" y="54.04" width="2.55" height="2.54" fill="#ed7d7f"/>
<rect x="443.15" y="54.04" width="2.55" height="2.54" fill="#ee8081"/>
<rect x="445.30" y="54.04" width="2.55" height="2.54" fill="#ee8182"/>
<rect x="447.45" y="54.04" width="2.55" height="2.54" fill="#ee8283"/>
<rect x="449.60" y="54.04" width="2.55" height="2.54" fill="#ee8384"/>
<rect x="451.75" y="54.04" width="2.55" height="2.54" fill="#ee8385"/>
<rect x="453.90" y="54.04" width="2.55" height="2.54" fill="#ee8485"/>
<rect x="456.05" y="54.04" width="2.55" height="2.54" fill="#ee8485"/>
<rect x="458.20" y="54.04" width="2.55" height="2.54" fill="#ee8485"/>
<rect x="460.35" y="54.04" width="2.55" height="2.54" fill="#ee8485"/>
<rect x="374.35" y="56.18" width="2.55" height="2.54" fill="#fefffe"/>
<rect x="376.50" y="56.18" width="2.55" height="2.54" fill="#fefffe"/>
<rect x="378.65" y="56.18" width="2.55" height="2.54" fill="#fefffe"/>
<rect x="380.80" y="56.18" width="2.55" height="2.54" fill="#fefffe"/>
<rect x="385.10" y="56.18" width="2.55" height="2.54" fill="#fffefe"/>
<rect x="387.25" y="56.18" width="2.55" height="2.54" fill="#fefbfb"/>
<rect x="389.40" y="56.18" width="2.55" height="2.54" fill="#fdefef"/>
<rect x="391.55" y="56.18" width="2.55" height="2.54" fill="#fbdfdf"/>
<rect x="393.70" y="56.18" width="2.55" height="2.54" fill="#f9d1d2"/>
<rect x="395.85" y="56.18" width="2.55" height="2.54" fill="#f8cbcc"/>
<rect x="398.00" y="56.18" width="2.55" height="2.54" fill="#f6c0c0"/>
<rect x="400.15" y="56.18" width="2.55" height="2.54" fill="#f4afb0"/>
<rect x="402.30" y="56.18" width="2.55" height="2.54" fill="#f19b9c"/>
<rect x="404.45" y="56.18" width="2.55" height="2.54" fill="#ef8788"/>
<rect x="406.60" y="56.18" width="2.55" height="2.54" fill="#ec7576"/>
<rect x="408.75" y="56.18" width="2.55" height="2.54" fill="#ea6668"/>
<rect x="410.90" y="56.18" width="2.55" height="2.54" fill="#e95e60"/>
<rect x="413.05" y="56.18" width="2.55" height="2.54" fill="#e95a5c"/>
<rect x="415.20" y="56.18" width="2.55" height="2.54" fill="#e85759"/>
<rect x="417.35" y="56.18" width="2.55" height="2.54" fill="#e85456"/>
<rect x="419.50" y="56.18" width="2.55" height="2.54" fill="#e85355"/>
<rect x="421.65" y="56.18" width="2.55" height="2.54" fill="#e85456"/>
<rect x="423.80" y="56.18" width="2.55" height="2.54" fill="#e85658"/>
<rect x="425.95" y="56.18" width="2.55" height="2.54" fill="#e95a5c"/>
<rect x="428.10" y="56.18" width="2.55" height="2.54" fill="#e95f60"/>
<rect x="430.25" y="56.18" width="2.55" height="2.54" fill="#ea6465"/>
<rect x="432.40" y="56.18" width="2.55" height="2.54" fill="#eb696b"/>
<rect x="434.55" y="56.18" width="2.55" height="2.54" fill="#eb6f70"/>
<rect x="436.70" y="56.18" width="2.55" height="2.54" fill="#ec7375"/>
<rect x="438.85" y="56.18" width="2.55" height="2.54" fill="#ed7779"/>
<rect x="441.00" y="56.18" width="2.55" height="2.54" fill="#ed7a7c"/>
<rect x="443.15" y="56.18" width="2.55" height="2.54" fill="#ed7d7e"/>
<rect x="445.30" y="56.18" width="2.55" height="2.54" fill="#ee7e80"/>
<rect x="447.45" y="56.18" width="2.55" height="2.54" fill="#ee8081"/>
<rect x="449.60" y="56.18" width="2.55" height="2.54" fill="#ee8182"/>
<rect x="451.75" y="56.18" width="2.55" height="2.54" fill="#ee8182"/>
<rect x="453.90" y="56.18" width="2.55" height="2.54" fill="#ee8183"/>
<rect x="456.05" y="56.18" width="2.55" height="2.54" fill="#ee8283"/>
<rect x="458.20" y="56.18" width="2.55" height="2.54" fill="#ee8283"/>
<rect x="460.35" y="56.18" width="2.55" height="2.54" fill="#ee8283"/>
<rect x="367.90" y="58.32" width="2.55" height="2.54" fill="#fffefe"/>
<rect x="370.05" y="58.32" width="2.55" height="2.54" fill="#fffcfc"/>
<rect x="372.20" y="58.32" width="2.55" height="2.54" fill="#fefafa"/>
<rect x="374.35" y="58.32" width="2.55" height="2.54" fill="#fef8f8"/>
<rect x="376.50" y="58.32" width="2.55" height="2.54" fill="#fef8f8"/>
<rect x="378.65" y="58.32" width="2.55" height="2.54" fill="#fef8f8"/>
<rect x="380.80" y="58.32" width="2.55" height="2.54" fill="#fef7f7"/>
<rect x="382.95" y="58.32" width="2.55" height="2.54" fill="#fef7f7"/>
<rect x="385.10" y="58.32" width="2.55" height="2.54" fill="#fef6f6"/>
<rect x="387.25" y="58.32" width="2.55" height="2.54" fill="#fef5f5"/>
<rect x="389.40" y="58.32" width="2.55" height="2.54" fill="#fdeded"/>
<rect x="391.55" y="58.32" width="2.55" height="2.54" fill="#fadcdc"/>
<rect x="393.70" y="58.32" width="2.55" height="2.54" fill="#f8cdce"/>
<rect x="395.85" y="58.32" width="2.55" height="2.54" fill="#f7c6c6"/>
<rect x="398.00" y="58.32" width="2.55" height="2.54" fill="#f6b9ba"/>
<rect x="400.15" y="58.32" width="2.55" height="2.54" fill="#f3a8a9"/>
<rect x="402.30" y="58.32" width="2.55" height="2.54" fill="#f19596"/>
<rect x="404.45" y="58.32" width="2.55" height="2.54" fill="#ee8183"/>
<rect x="406.60" y="58.32" width="2.55" height="2.54" fill="#ec7072"/>
<rect x="408.75" y="58.32" width="2.55" height="2.54" fill="#ea6365"/>
<rect x="410.90" y="58.32" width="2.55" height="2.54" fill="#e95c5e"/>
<rect x="413.05" y="58.32" width="2.55" height="2.54" fill="#e8595b"/>
<rect x="415.20" y="58.32" width="2.55" height="2.54" fill="#e85658"/>
<rect x="417.35" y="58.32" width="2.55" height="2.54" fill="#e85455"/>
<rect x="419.50" y="58.32" width="2.55" height="2.54" fill="#e85354"/>
<rect x="421.65" y="58.32" width="2.55" height="2.54" fill="#e85355"/>
<rect x="423.80" y="58.32" width="2.55" height="2.54" fill="#e85657"/>
<rect x="425.95" y="58.32" width="2.55" height="2.54" fill="#e9595b"/>
<rect x="428.10" y="58.32" width="2.55" height="2.54" fill="#e95e60"/>
<rect x="430.25" y="58.32" width="2.55" height="2.54" fill="#ea6465"/>
<rect x="432.40" y="58.32" width="2.55" height="2.54" fill="#eb696b"/>
<rect x="434.55" y="58.32" width="2.55" height="2.54" fill="#eb6f70"/>
<rect x="436.70" y="58.32" width="2.55" height="2.54" fill="#ec7475"/>
<rect x="438.85" y="58.32" width="2.55" height="2.54" fill="#ed7879"/>
<rect x="441.00" y="58.32" width="2.55" height="2.54" fill="#ed7b7c"/>
<rect x="443.15" y="58.32" width="2.55" height="2.54" fill="#ed7d7f"/>
<rect x="445.30" y="58.32" width="2.55" height="2.54" fill="#ee7f80"/>
<rect x="447.45" y="58.32" width="2.55" height="2.54" fill="#ee8082"/>
<rect x="449.60" y="58.32" width="2.55" height="2.54" fill="#ee8182"/>
<rect x="451.75" y="58.32" width="2.55" height="2.54" fill="#ee8283"/>
<rect x="453.90" y="58.32" width="2.55" height="2.54" fill="#ee8283"/>
<rect x="456.05" y="58.32" width="2.55" height="2.54" fill="#ee8283"/>
<rect x="458.20" y="58.32" width="2.55" height="2.54" fill="#ee8284"/>
<rect x="460.35" y="58.32" width="2.55" height="2.54" fill="#ee8284"/>
<rect x="367.90" y="60.46" width="2.55" height="2.54" fill="#fefbfb"/>
<rect x="370.05" y="60.46" width="2.55" height="2.54" fill="#fef6f6"/>
<rect x="372.20" y="60.46" width="2.55" height="2.54" fill="#fdf0f0"/>
<rect x="374.35" y="60.46" width="2.55" height="2.54" fill="#fcebeb"/>
<rect x="376.50" y="60.46" width="2.55" height="2.54" fill="#fceaea"/>
<rect x="378.65" y="60.46" width="2.55" height="2.54" fill="#fce9e9"/>
<rect x="380.80" y="60.46" width="2.55" height="2.54" fill="#fce8e9"/>
<rect x="382.95" y="60.46" width="2.55" height="2.54" fill="#fce8e8"/>
<rect x="385.10" y="60.46" width="2.55" height="2.54" fill="#fce7e7"/>
<rect x="387.25" y="60.46" width="2.55" height="2.54" fill="#fbe5e5"/>
<rect x="389.40" y="60.46" width="2.55" height="2.54" fill="#fbe2e3"/>
<rect x="391.55" y="60.46" width="2.55" height="2.54" fill="#fad8d8"/>
<rect x="393.70" y="60.46" width="2.55" height="2.54" fill="#f7c8c8"/>
<rect x="395.85" y="60.46" width="2.55" height="2.54" fill="#f6bfbf"/>
<rect x="398.00" y="60.46" width="2.55" height="2.54" fill="#f4b2b2"/>
<rect x="400.15" y="60.46" width="2.55" height="2.54" fill="#f2a0a1"/>
<rect x="402.30" y="60.46" width="2.55" height="2.54" fill="#f08e8f"/>
<rect x="404.45" y="60.46" width="2.55" height="2.54" fill="#ed7d7f"/>
<rect x="406.60" y="60.46" width="2.55" height="2.54" fill="#eb6f71"/>
<rect x="408.75" y="60.46" width="2.55" height="2.54" fill="#ea6566"/>
<rect x="410.90" y="60.46" width="2.55" height="2.54" fill="#e96061"/>
<rect x="413.05" y="60.46" width="2.55" height="2.54" fill="#e95e60"/>
<rect x="415.20" y="60.46" width="2.55" height="2.54" fill="#e95c5d"/>
<rect x="417.35" y="60.46" width="2.55" height="2.54" fill="#e95a5c"/>
<rect x="419.50" y="60.46" width="2.55" height="2.54" fill="#e8595b"/>
<rect x="421.65" y="60.46" width="2.55" height="2.54" fill="#e95a5b"/>
<rect x="423.80" y="60.46" width="2.55" height="2.54" fill="#e95c5e"/>
<rect x="425.95" y="60.46" width="2.55" height="2.54" fill="#e96061"/>
<rect x="428.10" y="60.46" width="2.55" height="2.54" fill="#ea6466"/>
<rect x="430.25" y="60.46" width="2.55" height="2.54" fill="#eb696b"/>
<rect x="432.40" y="60.46" width="2.55" height="2.54" fill="#eb6f70"/>
<rect x="434.55" y="60.46" width="2.55" height="2.54" fill="#ec7475"/>
<rect x="436.70" y="60.46" width="2.55" height="2.54" fill="#ed7879"/>
<rect x="438.85" y="60.46" width="2.55" height="2.54" fill="#ed7c7d"/>
<rect x="441.00" y="60.46" width="2.55" height="2.54" fill="#ee7f80"/>
<rect x="443.15" y="60.46" width="2.55" height="2.54" fill="#ee8182"/>
<rect x="445.30" y="60.46" width="2.55" height="2.54" fill="#ee8384"/>
<rect x="447.45" y="60.46" width="2.55" height="2.54" fill="#ee8485"/>
<rect x="449.60" y="60.46" width="2.55" height="2.54" fill="#ee8586"/>
<rect x="451.75" y="60.46" width="2.55" height="2.54" fill="#ee8587"/>
<rect x="453.90" y="60.46" width="2.55" height="2.54" fill="#ef8687"/>
<rect x="456.05" y="60.46" width="2.55" height="2.54" fill="#ef8687"/>
<rect x="458.20" y="60.46" width="2.55" height="2.54" fill="#ef8687"/>
<rect x="460.35" y="60.46" width="2.55" height="2.54" fill="#ef8687"/>
<rect x="365.75" y="62.60" width="2.55" height="2.54" fill="#fffefe"/>
<rect x="367.90" y="62.60" width="2.55" height="2.54" fill="#fef8f8"/>
<rect x="370.05" y="62.60" width="2.55" height="2.54" fill="#fdefef"/>
<rect x="372.20" y="62.60" width="2.55" height="2.54" fill="#fbe5e5"/>
<rect x="374.35" y="62.60" width="2.55" height="2.54" fill="#faddde"/>
<rect x="376.50" y="62.60" width="2.55" height="2.54" fill="#fadbdb"/>
<rect x="378.65" y="62.60" width="2.55" height="2.54" fill="#fadada"/>
<rect x="380.80" y="62.60" width="2.55" height="2.54" fill="#fad8d9"/>
<rect x="382.95" y="62.60" width="2.55" height="2.54" fill="#fad7d8"/>
<rect x="385.10" y="62.60" width="2.55" height="2.54" fill="#f9d6d6"/>
<rect x="387.25" y="62.60" width="2.55" height="2.54" fill="#f9d3d4"/>
<rect x="389.40" y="62.60" width="2.55" height="2.54" fill="#f9d0d1"/>
<rect x="391.55" y="62.60" width="2.55" height="2.54" fill="#f8cbcc"/>
<rect x="393.70" y="62.60" width="2.55" height="2.54" fill="#f6c0c1"/>
<rect x="395.85" y="62.60" width="2.55" height="2.54" fill="#f5b6b7"/>
<rect x="398.00" y="62.60" width="2.55" height="2.54" fill="#f3a9a9"/>
<rect x="400.15" y="62.60" width="2.55" height="2.54" fill="#f19899"/>
<rect x="402.30" y="62.60" width="2.55" height="2.54" fill="#ef888a"/>
<rect x="404.45" y="62.60" width="2.55" height="2.54" fill="#ed7b7c"/>
<rect x="406.60" y="62.60" width="2.55" height="2.54" fill="#ec7172"/>
<rect x="408.75" y="62.60" width="2.55" height="2.54" fill="#eb6a6c"/>
<rect x="410.90" y="62.60" width="2.55" height="2.54" fill="#eb6869"/>
<rect x="413.05" y="62.60" width="2.55" height="2.54" fill="#eb686a"/>
<rect x="415.20" y="62.60" width="2.55" height="2.54" fill="#ea6769"/>
<rect x="417.35" y="62.60" width="2.55" height="2.54" fill="#ea6668"/>
<rect x="419.50" y="62.60" width="2.55" height="2.54" fill="#ea6667"/>
<rect x="421.65" y="62.60" width="2.55" height="2.54" fill="#ea6668"/>
<rect x="423.80" y="62.60" width="2.55" height="2.54" fill="#eb686a"/>
<rect x="425.95" y="62.60" width="2.55" height="2.54" fill="#eb6b6d"/>
<rect x="428.10" y="62.60" width="2.55" height="2.54" fill="#eb6f71"/>
<rect x="430.25" y="62.60" width="2.55" height="2.54" fill="#ec7375"/>
<rect x="432.40" y="62.60" width="2.55" height="2.54" fill="#ed7879"/>
<rect x="434.55" y="62.60" width="2.55" height="2.54" fill="#ed7c7e"/>
<rect x="436.70" y="62.60" width="2.55" height="2.54" fill="#ee8081"/>
<rect x="438.85" y="62.60" width="2.55" height="2.54" fill="#ee8385"/>
<rect x="441.00" y="62.60" width="2.55" height="2.54" fill="#ef8687"/>
<rect x="443.15" y="62.60" width="2.55" height="2.54" fill="#ef8889"/>
<rect x="445.30" y="62.60" width="2.55" height="2.54" fill="#ef898b"/>
<rect x="447.45" y="62.60" width="2.55" height="2.54" fill="#ef8a8c"/>
<rect x="449.60" y="62.60" width="2.55" height="2.54" fill="#ef8b8c"/>
<rect x="451.75" y="62.60" width="2.55" height="2.54" fill="#ef8c8d"/>
<rect x="453.90" y="62.60" width="2.55" height="2.54" fill="#ef8c8d"/>
<rect x="456.05" y="62.60" width="2.55" height="2.54" fill="#ef8c8d"/>
<rect x="458.20" y="62.60" width="2.55" height="2.54" fill="#ef8c8d"/>
<rect x="460.35" y="62.60" width="2.55" height="2.54" fill="#ef8c8d"/>
<rect x="365.75" y="64.75" width="2.55" height="2.54" fill="#fffefe"/>
<rect x="367.90" y="64.75" width="2.55" height="2.54" fill="#fef7f7"/>
<rect x="370.05" y="64.75" width="2.55" height="2.54" fill="#fcebeb"/>
<rect x="372.20" y="64.75" width="2.55" height="2.54" fill="#fbdfdf"/>
<rect x="374.35" y="64.75" width="2.55" height="2.54" fill="#f9d5d6"/>
<rect x="376.50" y="64.75" width="2.55" height="2.54" fill="#f9d1d2"/>
<rect x="378.65" y="64.75" width="2.55" height="2.54" fill="#f9cfd0"/>
<rect x="380.80" y="64.75" width="2.55" height="2.54" fill="#f8cdce"/>
<rect x="382.95" y="64.75" width="2.55" height="2.54" fill="#f8cbcc"/>
<rect x="385.10" y="64.75" width="2.55" height="2.54" fill="#f8c9c9"/>
<rect x="387.25" y="64.75" width="2.55" height="2.54" fill="#f7c6c6"/>
<rect x="389.40" y="64.75" width="2.55" height="2.54" fill="#f7c2c3"/>
<rect x="391.55" y="64.75" width="2.55" height="2.54" fill="#f6bcbd"/>
<rect x="393.70" y="64.75" width="2.55" height="2.54" fill="#f5b5b6"/>
<rect x="395.85" y="64.75" width="2.55" height="2.54" fill="#f4acad"/>
<rect x="398.00" y="64.75" width="2.55" height="2.54" fill="#f29fa0"/>
<rect x="400.15" y="64.75" width="2.55" height="2.54" fill="#f09091"/>
<rect x="402.30" y="64.75" width="2.55" height="2.54" fill="#ee8485"/>
<rect x="404.45" y="64.75" width="2.55" height="2.54" fill="#ed7a7c"/>
<rect x="406.60" y="64.75" width="2.55" height="2.54" fill="#ec7576"/>
<rect x="408.75" y="64.75" width="2.55" height="2.54" fill="#ec7274"/>
<rect x="410.90" y="64.75" width="2.55" height="2.54" fill="#ec7375"/>
<rect x="413.05" y="64.75" width="2.55" height="2.54" fill="#ec7677"/>
<rect x="415.20" y="64.75" width="2.55" height="2.54" fill="#ec7678"/>
<rect x="417.35" y="64.75" width="2.55" height="2.54" fill="#ec7677"/>
<rect x="419.50" y="64.75" width="2.55" height="2.54" fill="#ec7677"/>
<rect x="421.65" y="64.75" width="2.55" height="2.54" fill="#ec7778"/>
<rect x="423.80" y="64.75" width="2.55" height="2.54" fill="#ed7879"/>
<rect x="425.95" y="64.75" width="2.55" height="2.54" fill="#ed7a7c"/>
<rect x="428.10" y="64.75" width="2.55" height="2.54" fill="#ed7e7f"/>
<rect x="430.25" y="64.75" width="2.55" height="2.54" fill="#ee8182"/>
<rect x="432.40" y="64.75" width="2.55" height="2.54" fill="#ee8486"/>
<rect x="434.55" y="64.75" width="2.55" height="2.54" fill="#ef8889"/>
<rect x="436.70" y="64.75" width="2.55" height="2.54" fill="#ef8b8c"/>
<rect x="438.85" y="64.75" width="2.55" height="2.54" fill="#f08d8e"/>
<rect x="441.00" y="64.75" width="2.55" height="2.54" fill="#f08f90"/>
<rect x="443.15" y="64.75" width="2.55" height="2.54" fill="#f09192"/>
<rect x="445.30" y="64.75" width="2.55" height="2.54" fill="#f09293"/>
<rect x="447.45" y="64.75" width="2.55" height="2.54" fill="#f09394"/>
<rect x="449.60" y="64.75" width="2.55" height="2.54" fill="#f09394"/>
<rect x="451.75" y="64.75" width="2.55" height="2.54" fill="#f09495"/>
<rect x="453.90" y="64.75" width="2.55" height="2.54" fill="#f09495"/>
<rect x="456.05" y="64.75" width="2.55" height="2.54" fill="#f09495"/>
<rect x="458.20" y="64.75" width="2.55" height="2.54" fill="#f09495"/>
<rect x="460.35" y="64.75" width="2.55" height="2.54" fill="#f09495"/>
<rect x="363.60" y="66.89" width="2.55" height="2.54" fill="#fffefe"/>
<rect x="365.75" y="66.89" width="2.55" height="2.54" fill="#fffdfd"/>
<rect x="367.90" y="66.89" width="2.55" height="2.54" fill="#fef6f6"/>
<rect x="370.05" y="66.89" width="2.55" height="2.54" fill="#fceaea"/>
<rect x="372.20" y="66.89" width="2.55" height="2.54" fill="#fadddd"/>
<rect x="374.35" y="66.89" width="2.55" height="2.54" fill="#f9d2d2"/>
<rect x="376.50" y="66.89" width="2.55" height="2.54" fill="#f8cdcd"/>
<rect x="378.65" y="66.89" width="2.55" height="2.54" fill="#f8caca"/>
<rect x="380.80" y="66.89" width="2.55" height="2.54" fill="#f7c6c7"/>
<rect x="382.95" y="66.89" width="2.55" height="2.54" fill="#f7c3c3"/>
<rect x="385.10" y="66.89" width="2.55" height="2.54" fill="#f6bfc0"/>
<rect x="387.25" y="66.89" width="2.55" height="2.54" fill="#f6bcbc"/>
<rect x="389.40" y="66.89" width="2.55" height="2.54" fill="#f5b7b8"/>
<rect x="391.55" y="66.89" width="2.55" height="2.54" fill="#f4b1b2"/>
<rect x="393.70" y="66.89" width="2.55" height="2.54" fill="#f3aaaa"/>
<rect x="395.85" y="66.89" width="2.55" height="2.54" fill="#f2a1a2"/>
<rect x="398.00" y="66.89" width="2.55" height="2.54" fill="#f19596"/>
<rect x="400.15" y="66.89" width="2.55" height="2.54" fill="#ef898a"/>
<rect x="402.30" y="66.89" width="2.55" height="2.54" fill="#ee8082"/>
<rect x="404.45" y="66.89" width="2.55" height="2.54" fill="#ed7c7d"/>
<rect x="406.60" y="66.89" width="2.55" height="2.54" fill="#ed7b7c"/>
<rect x="408.75" y="66.89" width="2.55" height="2.54" fill="#ed7d7e"/>
<rect x="410.90" y="66.89" width="2.55" height="2.54" fill="#ee8182"/>
<rect x="413.05" y="66.89" width="2.55" height="2.54" fill="#ee8586"/>
<rect x="415.20" y="66.89" width="2.55" height="2.54" fill="#ef8788"/>
<rect x="417.35" y="66.89" width="2.55" height="2.54" fill="#ef8789"/>
<rect x="419.50" y="66.89" width="2.55" height="2.54" fill="#ef8889"/>
<rect x="421.65" y="66.89" width="2.55" height="2.54" fill="#ef8889"/>
<rect x="423.80" y="66.89" width="2.55" height="2.54" fill="#ef898b"/>
<rect x="425.95" y="66.89" width="2.55" height="2.54" fill="#ef8b8c"/>
<rect x="428.10" y="66.89" width="2.55" height="2.54" fill="#f08d8e"/>
<rect x="430.25" y="66.89" width="2.55" height="2.54" fill="#f09091"/>
<rect x="432.40" y="66.89" width="2.55" height="2.54" fill="#f09293"/>
<rect x="434.55" y="66.89" width="2.55" height="2.54" fill="#f19596"/>
<rect x="436.70" y="66.89" width="2.55" height="2.54" fill="#f19798"/>
<rect x="438.85" y="66.89" width="2.55" height="2.54" fill="#f1989a"/>
<rect x="441.00" y="66.89" width="2.55" height="2.54" fill="#f19a9b"/>
<rect x="443.15" y="66.89" width="2.55" height="2.54" fill="#f19b9c"/>
<rect x="445.30" y="66.89" width="2.55" height="2.54" fill="#f29c9d"/>
<rect x="447.45" y="66.89" width="2.55" height="2.54" fill="#f29c9d"/>
<rect x="449.60" y="66.89" width="2.55" height="2.54" fill="#f29d9e"/>
<rect x="451.75" y="66.89" width="2.55" height="2.54" fill="#f29d9e"/>
<rect x="453.90" y="66.89" width="2.55" height="2.54" fill="#f29d9e"/>
<rect x="456.05" y="66.89" width="2.55" height="2.54" fill="#f29d9e"/>
<rect x="458.20" y="66.89" width="2.55" height="2.54" fill="#f29d9e"/>
<rect x="460.35" y="66.89" width="2.55" height="2.54" fill="#f29d9e"/>
<rect x="363.60" y="69.03" width="2.55" height="2.54" fill="#fffefe"/>
<rect x="365.75" y="69.03" width="2.55" height="2.54" fill="#fffcfc"/>
<rect x="367.90" y="69.03" width="2.55" height="2.54" fill="#fef5f5"/>
<rect x="370.05" y="69.03" width="2.55" height="2.54" fill="#fce8e8"/>
<rect x="372.20" y="69.03" width="2.55" height="2.54" fill="#fadada"/>
<rect x="374.35" y="69.03" width="2.55" height="2.54" fill="#f8cece"/>
<rect x="376.50" y="69.03" width="2.55" height="2.54" fill="#f7c7c8"/>
<rect x="378.65" y="69.03" width="2.55" height="2.54" fill="#f7c2c3"/>
<rect x="380.80" y="69.03" width="2.55" height="2.54" fill="#f6bdbd"/>
<rect x="382.95" y="69.03" width="2.55" height="2.54" fill="#f5b7b8"/>
<rect x="385.10" y="69.03" width="2.55" height="2.54" fill="#f5b2b3"/>
<rect x="387.25" y="69.03" width="2.55" height="2.54" fill="#f4aeaf"/>
<rect x="389.40" y="69.03" width="2.55" height="2.54" fill="#f3a9aa"/>
<rect x="391.55" y="69.03" width="2.55" height="2.54" fill="#f3a3a4"/>
<rect x="393.70" y="69.03" width="2.55" height="2.54" fill="#f29d9e"/>
<rect x="395.85" y="69.03" width="2.55" height="2.54" fill="#f19697"/>
<rect x="398.00" y="69.03" width="2.55" height="2.54" fill="#ef8c8e"/>
<rect x="400.15" y="69.03" width="2.55" height="2.54" fill="#ee8485"/>
<rect x="402.30" y="69.03" width="2.55" height="2.54" fill="#ee8081"/>
<rect x="404.45" y="69.03" width="2.55" height="2.54" fill="#ee7f81"/>
<rect x="406.60" y="69.03" width="2.55" height="2.54" fill="#ee8384"/>
<rect x="408.75" y="69.03" width="2.55" height="2.54" fill="#ef8889"/>
<rect x="410.90" y="69.03" width="2.55" height="2.54" fill="#f08e8f"/>
<rect x="413.05" y="69.03" width="2.55" height="2.54" fill="#f09495"/>
<rect x="415.20" y="69.03" width="2.55" height="2.54" fill="#f19798"/>
<rect x="417.35" y="69.03" width="2.55" height="2.54" fill="#f19899"/>
<rect x="419.50" y="69.03" width="2.55" height="2.54" fill="#f1999a"/>
<rect x="421.65" y="69.03" width="2.55" height="2.54" fill="#f1999a"/>
<rect x="423.80" y="69.03" width="2.55" height="2.54" fill="#f19a9b"/>
<rect x="425.95" y="69.03" width="2.55" height="2.54" fill="#f19b9c"/>
<rect x="428.10" y="69.03" width="2.55" height="2.54" fill="#f29d9e"/>
<rect x="430.25" y="69.03" width="2.55" height="2.54" fill="#f29e9f"/>
<rect x="432.40" y="69.03" width="2.55" height="2.54" fill="#f2a0a1"/>
<rect x="434.55" y="69.03" width="2.55" height="2.54" fill="#f2a1a2"/>
<rect x="436.70" y="69.03" width="2.55" height="2.54" fill="#f2a3a4"/>
<rect x="438.85" y="69.03" width="2.55" height="2.54" fill="#f3a4a5"/>
<rect x="441.00" y="69.03" width="2.55" height="2.54" fill="#f3a5a6"/>
<rect x="443.15" y="69.03" width="2.55" height="2.54" fill="#f3a5a6"/>
<rect x="445.30" y="69.03" width="2.55" height="2.54" fill="#f3a6a7"/>
<rect x="447.45" y="69.03" width="2.55" height="2.54" fill="#f3a6a7"/>
<rect x="449.60" y="69.03" width="2.55" height="2.54" fill="#f3a7a7"/>
<rect x="451.75" y="69.03" width="2.55" height="2.54" fill="#f3a7a8"/>
<rect x="453.90" y="69.03" width="2.55" height="2.54" fill="#f3a7a8"/>
<rect x="456.05" y="69.03" width="2.55" height="2.54" fill="#f3a7a8"/>
<rect x="458.20" y="69.03" width="2.55" height="2.54" fill="#f3a7a8"/>
<rect x="460.35" y="69.03" width="2.55" height="2.54" fill="#f3a7a8"/>
<rect x="363.60" y="71.17" width="2.55" height="2.54" fill="#fffdfd"/>
<rect x="365.75" y="71.17" width="2.55" height="2.54" fill="#fffcfc"/>
<rect x="367.90" y="71.17" width="2.55" height="2.54" fill="#fdf3f3"/>
<rect x="370.05" y="71.17" width="2.55" height="2.54" fill="#fce5e6"/>
<rect x="372.20" y="71.17" width="2.55" height="2.54" fill="#f9d6d6"/>
<rect x="374.35" y="71.17" width="2.55" height="2.54" fill="#f8c8c9"/>
<rect x="376.50" y="71.17" width="2.55" height="2.54" fill="#f6c0c0"/>
<rect x="378.65" y="71.17" width="2.55" height="2.54" fill="#f5b8b9"/>
<rect x="380.80" y="71.17" width="2.55" height="2.54" fill="#f4b1b1"/>
<rect x="382.95" y="71.17" width="2.55" height="2.54" fill="#f3a9aa"/>
<rect x="385.10" y="71.17" width="2.55" height="2.54" fill="#f2a3a4"/>
<rect x="387.25" y="71.17" width="2.55" height="2.54" fill="#f29d9e"/>
<rect x="389.40" y="71.17" width="2.55" height="2.54" fill="#f19899"/>
<rect x="391.55" y="71.17" width="2.55" height="2.54" fill="#f09495"/>
<rect x="393.70" y="71.17" width="2.55" height="2.54" fill="#f08f90"/>
<rect x="395.85" y="71.17" width="2.55" height="2.54" fill="#ef8b8c"/>
<rect x="398.00" y="71.17" width="2.55" height="2.54" fill="#ee8587"/>
<rect x="400.15" y="71.17" width="2.55" height="2.54" fill="#ee8183"/>
<rect x="402.30" y="71.17" width="2.55" height="2.54" fill="#ee8182"/>
<rect x="404.45" y="71.17" width="2.55" height="2.54" fill="#ee8586"/>
<rect x="406.60" y="71.17" width="2.55" height="2.54" fill="#ef8b8d"/>
<rect x="408.75" y="71.17" width="2.55" height="2.54" fill="#f09394"/>
<rect x="410.90" y="71.17" width="2.55" height="2.54" fill="#f19b9c"/>
<rect x="413.05" y="71.17" width="2.55" height="2.54" fill="#f2a1a2"/>
<rect x="415.20" y="71.17" width="2.55" height="2.54" fill="#f3a5a6"/>
<rect x="417.35" y="71.17" width="2.55" height="2.54" fill="#f3a7a8"/>
<rect x="419.50" y="71.17" width="2.55" height="2.54" fill="#f3a8a9"/>
<rect x="421.65" y="71.17" width="2.55" height="2.54" fill="#f3a8a9"/>
<rect x="423.80" y="71.17" width="2.55" height="2.54" fill="#f3a9aa"/>
<rect x="425.95" y="71.17" width="2.55" height="2.54" fill="#f3a9aa"/>
<rect x="428.10" y="71.17" width="2.55" height="2.54" fill="#f4aaab"/>
<rect x="430.25" y="71.17" width="2.55" height="2.54" fill="#f4abac"/>
<rect x="432.40" y="71.17" width="2.55" height="2.54" fill="#f4acad"/>
<rect x="434.55" y="71.17" width="2.55" height="2.54" fill="#f4adae"/>
<rect x="436.70" y="71.17" width="2.55" height="2.54" fill="#f4aeaf"/>
<rect x="438.85" y="71.17" width="2.55" height="2.54" fill="#f4aeaf"/>
<rect x="441.00" y="71.17" width="2.55" height="2.54" fill="#f4afb0"/>
<rect x="443.15" y="71.17" width="2.55" height="2.54" fill="#f4afb0"/>
<rect x="445.30" y="71.17" width="2.55" height="2.54" fill="#f4b0b1"/>
<rect x="447.45" y="71.17" width="2.55" height="2.54" fill="#f4b0b1"/>
<rect x="449.60" y="71.17" width="2.55" height="2.54" fill="#f4b0b1"/>
<rect x="451.75" y="71.17" width="2.55" height="2.54" fill="#f4b0b1"/>
<rect x="453.90" y="71.17" width="2.55" height="2.54" fill="#f4b0b1"/>
<rect x="456.05" y="71.17" width="2.55" height="2.54" fill="#f4b0b1"/>
<rect x="458.20" y="71.17" width="2.55" height="2.54" fill="#f4b0b1"/>
<rect x="460.35" y="71.17" width="2.55" height="2.54" fill="#f4b0b1"/>
<rect x="363.60" y="73.31" width="2.55" height="2.54" fill="#fffdfd"/>
<rect x="365.75" y="73.31" width="2.55" height="2.54" fill="#fefbfb"/>
<rect x="367.90" y="73.31" width="2.55" height="2.54" fill="#fdf1f2"/>
<rect x="370.05" y="73.31" width="2.55" height="2.54" fill="#fbe3e3"/>
<rect x="372.20" y="73.31" width="2.55" height="2.54" fill="#f9d2d3"/>
<rect x="374.35" y="73.31" width="2.55" height="2.54" fill="#f7c3c3"/>
<rect x="376.50" y="73.31" width="2.55" height="2.54" fill="#f5b8b8"/>
<rect x="378.65" y="73.31" width="2.55" height="2.54" fill="#f4aeaf"/>
<rect x="380.80" y="73.31" width="2.55" height="2.54" fill="#f3a4a5"/>
<rect x="382.95" y="73.31" width="2.55" height="2.54" fill="#f19a9b"/>
<rect x="385.10" y="73.31" width="2.55" height="2.54" fill="#f09293"/>
<rect x="387.25" y="73.31" width="2.55" height="2.54" fill="#ef8b8c"/>
<rect x="389.40" y="73.31" width="2.55" height="2.54" fill="#ef8788"/>
<rect x="391.55" y="73.31" width="2.55" height="2.54" fill="#ee8485"/>
<rect x="393.70" y="73.31" width="2.55" height="2.54" fill="#ee8283"/>
<rect x="395.85" y="73.31" width="2.55" height="2.54" fill="#ee8182"/>
<rect x="398.00" y="73.31" width="2.55" height="2.54" fill="#ee8082"/>
<rect x="400.15" y="73.31" width="2.55" height="2.54" fill="#ee8183"/>
<rect x="402.30" y="73.31" width="2.55" height="2.54" fill="#ee8587"/>
<rect x="404.45" y="73.31" width="2.55" height="2.54" fill="#ef8c8d"/>
<rect x="406.60" y="73.31" width="2.55" height="2.54" fill="#f19596"/>
<rect x="408.75" y="73.31" width="2.55" height="2.54" fill="#f29e9f"/>
<rect x="410.90" y="73.31" width="2.55" height="2.54" fill="#f3a7a7"/>
<rect x="413.05" y="73.31" width="2.55" height="2.54" fill="#f4adae"/>
<rect x="415.20" y="73.31" width="2.55" height="2.54" fill="#f4b1b2"/>
<rect x="417.35" y="73.31" width="2.55" height="2.54" fill="#f5b3b4"/>
<rect x="419.50" y="73.31" width="2.55" height="2.54" fill="#f5b4b5"/>
<rect x="421.65" y="73.31" width="2.55" height="2.54" fill="#f5b4b5"/>
<rect x="423.80" y="73.31" width="2.55" height="2.54" fill="#f5b5b6"/>
<rect x="425.95" y="73.31" width="2.55" height="2.54" fill="#f5b5b6"/>
<rect x="428.10" y="73.31" width="2.55" height="2.54" fill="#f5b6b6"/>
<rect x="430.25" y="73.31" width="2.55" height="2.54" fill="#f5b6b7"/>
<rect x="432.40" y="73.31" width="2.55" height="2.54" fill="#f5b7b7"/>
<rect x="434.55" y="73.31" width="2.55" height="2.54" fill="#f5b7b8"/>
<rect x="436.70" y="73.31" width="2.55" height="2.54" fill="#f5b8b8"/>
<rect x="438.85" y="73.31" width="2.55" height="2.54" fill="#f5b8b9"/>
<rect x="441.00" y="73.31" width="2.55" height="2.54" fill="#f5b8b9"/>
<rect x="443.15" y="73.31" width="2.55" height="2.54" fill="#f5b8b9"/>
<rect x="445.30" y="73.31" width="2.55" height="2.54" fill="#f5b9b9"/>
<rect x="447.45" y="73.31" width="2.55" height="2.54" fill="#f5b9b9"/>
<rect x="449.60" y="73.31" width="2.55" height="2.54" fill="#f5b9ba"/>
<rect x="451.75" y="73.31" width="2.55" height="2.54" fill="#f5b9ba"/>
<rect x="453.90" y="73.31" width="2.55" height="2.54" fill="#f5b9ba"/>
<rect x="456.05" y="73.31" width="2.55" height="2.54" fill="#f5b9ba"/>
<rect x="458.20" y="73.31" width="2.55" height="2.54" fill="#f5b9ba"/>
<rect x="460.35" y="73.31" width="2.55" height="2.54" fill="#f5b9ba"/>
<rect x="363.60" y="75.45" width="2.55" height="2.54" fill="#fffcfc"/>
<rect x="365.75" y="75.45" width="2.55" height="2.54" fill="#fefafa"/>
<rect x="367.90" y="75.45" width="2.55" height="2.54" fill="#fdf0f0"/>
<rect x="370.05" y="75.45" width="2.55" height="2.54" fill="#fbe0e1"/>
<rect x="372.20" y="75.45" width="2.55" height="2.54" fill="#f8cecf"/>
<rect x="374.35" y="75.45" width="2.55" height="2.54" fill="#f6bdbe"/>
<rect x="376.50" y="75.45" width="2.55" height="2.54" fill="#f4b0b1"/>
<rect x="378.65" y="75.45" width="2.55" height="2.54" fill="#f3a4a5"/>
<rect x="380.80" y="75.45" width="2.55" height="2.54" fill="#f19899"/>
<rect x="382.95" y="75.45" width="2.55" height="2.54" fill="#ef8c8d"/>
<rect x="385.10" y="75.45" width="2.55" height="2.54" fill="#ee8283"/>
<rect x="387.25" y="75.45" width="2.55" height="2.54" fill="#ed7b7c"/>
<rect x="389.40" y="75.45" width="2.55" height="2.54" fill="#ec7778"/>
<rect x="391.55" y="75.45" width="2.55" height="2.54" fill="#ec7577"/>
<rect x="393.70" y="75.45" width="2.55" height="2.54" fill="#ed7778"/>
<rect x="395.85" y="75.45" width="2.55" height="2.54" fill="#ed7a7b"/>
<rect x="398.00" y="75.45" width="2.55" height="2.54" fill="#ee7e7f"/>
<rect x="400.15" y="75.45" width="2.55" height="2.54" fill="#ee8485"/>
<rect x="402.30" y="75.45" width="2.55" height="2.54" fill="#ef8b8c"/>
<rect x="404.45" y="75.45" width="2.55" height="2.54" fill="#f19596"/>
<rect x="406.60" y="75.45" width="2.55" height="2.54" fill="#f29fa0"/>
<rect x="408.75" y="75.45" width="2.55" height="2.54" fill="#f3a8a9"/>
<rect x="410.90" y="75.45" width="2.55" height="2.54" fill="#f4b1b1"/>
<rect x="413.05" y="75.45" width="2.55" height="2.54" fill="#f5b7b8"/>
<rect x="415.20" y="75.45" width="2.55" height="2.54" fill="#f6bbbb"/>
<rect x="417.35" y="75.45" width="2.55" height="2.54" fill="#f6bdbd"/>
<rect x="419.50" y="75.45" width="2.55" height="2.54" fill="#f6bebe"/>
<rect x="421.65" y="75.45" width="2.55" height="2.54" fill="#f6bebf"/>
<rect x="423.80" y="75.45" width="2.55" height="2.54" fill="#f6bebf"/>
<rect x="425.95" y="75.45" width="2.55" height="2.54" fill="#f6bfbf"/>
<rect x="428.10" y="75.45" width="2.55" height="2.54" fill="#f6bfc0"/>
<rect x="430.25" y="75.45" width="2.55" height="2.54" fill="#f6bfc0"/>
<rect x="432.40" y="75.45" width="2.55" height="2.54" fill="#f6bfc0"/>
<rect x="434.55" y="75.45" width="2.55" height="2.54" fill="#f6c0c0"/>
<rect x="436.70" y="75.45" width="2.55" height="2.54" fill="#f6c0c0"/>
<rect x="438.85" y="75.45" width="2.55" height="2.54" fill="#f6c0c1"/>
<rect x="441.00" y="75.45" width="2.55" height="2.54" fill="#f6c0c1"/>
<rect x="443.15" y="75.45" width="2.55" height="2.54" fill="#f6c0c1"/>
<rect x="445.30" y="75.45" width="2.55" height="2.54" fill="#f6c0c1"/>
<rect x="447.45" y="75.45" width="2.55" height="2.54" fill="#f7c0c1"/>
<rect x="449.60" y="75.45" width="2.55" height="2.54" fill="#f7c0c1"/>
<rect x="451.75" y="75.45" width="2.55" height="2.54" fill="#f7c0c1"/>
<rect x="453.90" y="75.45" width="2.55" height="2.54" fill="#f7c0c1"/>
<rect x="456.05" y="75.45" width="2.55" height="2.54" fill="#f7c0c1"/>
<rect x="458.20" y="75.45" width="2.55" height="2.54" fill="#f7c0c1"/>
<rect x="460.35" y="75.45" width="2.55" height="2.54" fill="#f7c0c1"/>
<rect x="363.60" y="77.60" width="2.55" height="2.54" fill="#fffcfc"/>
<rect x="365.75" y="77.60" width="2.55" height="2.54" fill="#fef9f9"/>
<rect x="367.90" y="77.60" width="2.55" height="2.54" fill="#fdefef"/>
<rect x="370.05" y="77.60" width="2.55" height="2.54" fill="#fbdfdf"/>
<rect x="372.20" y="77.60" width="2.55" height="2.54" fill="#f8cccc"/>
<rect x="374.35" y="77.60" width="2.55" height="2.54" fill="#f6b9ba"/>
<rect x="376.50" y="77.60" width="2.55" height="2.54" fill="#f4abac"/>
<rect x="378.65" y="77.60" width="2.55" height="2.54" fill="#f29d9e"/>
<rect x="380.80" y="77.60" width="2.55" height="2.54" fill="#f08f90"/>
<rect x="382.95" y="77.60" width="2.55" height="2.54" fill="#ee8183"/>
<rect x="385.10" y="77.60" width="2.55" height="2.54" fill="#ec7678"/>
<rect x="387.25" y="77.60" width="2.55" height="2.54" fill="#eb6f70"/>
<rect x="389.40" y="77.60" width="2.55" height="2.54" fill="#eb6b6d"/>
<rect x="391.55" y="77.60" width="2.55" height="2.54" fill="#eb6c6d"/>
<rect x="393.70" y="77.60" width="2.55" height="2.54" fill="#ec7071"/>
<rect x="395.85" y="77.60" width="2.55" height="2.54" fill="#ed7778"/>
<rect x="398.00" y="77.60" width="2.55" height="2.54" fill="#ee7f80"/>
<rect x="400.15" y="77.60" width="2.55" height="2.54" fill="#ef8889"/>
<rect x="402.30" y="77.60" width="2.55" height="2.54" fill="#f09294"/>
<rect x="404.45" y="77.60" width="2.55" height="2.54" fill="#f29d9e"/>
<rect x="406.60" y="77.60" width="2.55" height="2.54" fill="#f3a8a9"/>
<rect x="408.75" y="77.60" width="2.55" height="2.54" fill="#f4b1b2"/>
<rect x="410.90" y="77.60" width="2.55" height="2.54" fill="#f6b9ba"/>
<rect x="413.05" y="77.60" width="2.55" height="2.54" fill="#f6bfbf"/>
<rect x="415.20" y="77.60" width="2.55" height="2.54" fill="#f7c2c3"/>
<rect x="417.35" y="77.60" width="2.55" height="2.54" fill="#f7c4c5"/>
<rect x="419.50" y="77.60" width="2.55" height="2.54" fill="#f7c5c6"/>
<rect x="421.65" y="77.60" width="2.55" height="2.54" fill="#f7c5c6"/>
<rect x="423.80" y="77.60" width="2.55" height="2.54" fill="#f7c6c6"/>
<rect x="425.95" y="77.60" width="2.55" height="2.54" fill="#f7c6c6"/>
<rect x="428.10" y="77.60" width="2.55" height="2.54" fill="#f7c6c7"/>
<rect x="430.25" y="77.60" width="2.55" height="2.54" fill="#f7c6c7"/>
<rect x="432.40" y="77.60" width="2.55" height="2.54" fill="#f7c6c7"/>
<rect x="434.55" y="77.60" width="2.55" height="2.54" fill="#f7c6c7"/>
<rect x="436.70" y="77.60" width="2.55" height="2.54" fill="#f7c6c7"/>
<rect x="438.85" y="77.60" width="2.55" height="2.54" fill="#f7c6c7"/>
<rect x="441.00" y="77.60" width="2.55" height="2.54" fill="#f7c7c7"/>
<rect x="443.15" y="77.60" width="2.55" height="2.54" fill="#f7c7c7"/>
<rect x="445.30" y="77.60" width="2.55" height="2.54" fill="#f7c7c7"/>
<rect x="447.45" y="77.60" width="2.55" height="2.54" fill="#f7c7c7"/>
<rect x="449.60" y="77.60" width="2.55" height="2.54" fill="#f7c7c7"/>
<rect x="451.75" y="77.60" width="2.55" height="2.54" fill="#f7c7c7"/>
<rect x="453.90" y="77.60" width="2.55" height="2.54" fill="#f7c7c7"/>
<rect x="456.05" y="77.60" width="2.55" height="2.54" fill="#f7c7c7"/>
<rect x="458.20" y="77.60" width="2.55" height="2.54" fill="#f7c7c7"/>
<rect x="460.35" y="77.60" width="2.55" height="2.54" fill="#f7c7c7"/>
<rect x="363.60" y="79.74" width="2.55" height="2.54" fill="#fffcfc"/>
<rect x="365.75" y="79.74" width="2.55" height="2.54" fill="#fef9f9"/>
<rect x="367.90" y="79.74" width="2.55" height="2.54" fill="#fdeeef"/>
<rect x="370.05" y="79.74" width="2.55" height="2.54" fill="#fbdede"/>
<rect x="372.20" y="79.74" width="2.55" height="2.54" fill="#f8cbcb"/>
<rect x="374.35" y="79.74" width="2.55" height="2.54" fill="#f5b8b8"/>
<rect x="376.50" y="79.74" width="2.55" height="2.54" fill="#f3a9aa"/>
<rect x="378.65" y="79.74" width="2.55" height="2.54" fill="#f19a9b"/>
<rect x="380.80" y="79.74" width="2.55" height="2.54" fill="#ef8b8c"/>
<rect x="382.95" y="79.74" width="2.55" height="2.54" fill="#ed7d7f"/>
<rect x="385.10" y="79.74" width="2.55" height="2.54" fill="#ec7273"/>
<rect x="387.25" y="79.74" width="2.55" height="2.54" fill="#eb6a6c"/>
<rect x="389.40" y="79.74" width="2.55" height="2.54" fill="#ea6869"/>
<rect x="391.55" y="79.74" width="2.55" height="2.54" fill="#eb696b"/>
<rect x="393.70" y="79.74" width="2.55" height="2.54" fill="#ec6f71"/>
<rect x="395.85" y="79.74" width="2.55" height="2.54" fill="#ed797a"/>
<rect x="398.00" y="79.74" width="2.55" height="2.54" fill="#ee8385"/>
<rect x="400.15" y="79.74" width="2.55" height="2.54" fill="#f08f90"/>
<rect x="402.30" y="79.74" width="2.55" height="2.54" fill="#f19b9c"/>
<rect x="404.45" y="79.74" width="2.55" height="2.54" fill="#f3a6a7"/>
<rect x="406.60" y="79.74" width="2.55" height="2.54" fill="#f4b1b1"/>
<rect x="408.75" y="79.74" width="2.55" height="2.54" fill="#f6b9ba"/>
<rect x="410.90" y="79.74" width="2.55" height="2.54" fill="#f6c0c1"/>
<rect x="413.05" y="79.74" width="2.55" height="2.54" fill="#f7c5c6"/>
<rect x="415.20" y="79.74" width="2.55" height="2.54" fill="#f8c8c9"/>
<rect x="417.35" y="79.74" width="2.55" height="2.54" fill="#f8caca"/>
<rect x="419.50" y="79.74" width="2.55" height="2.54" fill="#f8cbcb"/>
<rect x="421.65" y="79.74" width="2.55" height="2.54" fill="#f8cbcb"/>
<rect x="423.80" y="79.74" width="2.55" height="2.54" fill="#f8cbcc"/>
<rect x="425.95" y="79.74" width="2.55" height="2.54" fill="#f8cbcc"/>
<rect x="428.10" y="79.74" width="2.55" height="2.54" fill="#f8cbcc"/>
<rect x="430.25" y="79.74" width="2.55" height="2.54" fill="#f8cbcc"/>
<rect x="432.40" y="79.74" width="2.55" height="2.54" fill="#f8cbcc"/>
<rect x="434.55" y="79.74" width="2.55" height="2.54" fill="#f8cbcc"/>
<rect x="436.70" y="79.74" width="2.55" height="2.54" fill="#f8cccc"/>
<rect x="438.85" y="79.74" width="2.55" height="2.54" fill="#f8cccc"/>
<rect x="441.00" y="79.74" width="2.55" height="2.54" fill="#f8cccc"/>
<rect x="443.15" y="79.74" width="2.55" height="2.54" fill="#f8cccc"/>
<rect x="445.30" y="79.74" width="2.55" height="2.54" fill="#f8cccc"/>
<rect x="447.45" y="79.74" width="2.55" height="2.54" fill="#f8cccc"/>
<rect x="449.60" y="79.74" width="2.55" height="2.54" fill="#f8cccc"/>
<rect x="451.75" y="79.74" width="2.55" height="2.54" fill="#f8cccc"/>
<rect x="453.90" y="79.74" width="2.55" height="2.54" fill="#f8cccc"/>
<rect x="456.05" y="79.74" width="2.55" height="2.54" fill="#f8cccc"/>
<rect x="458.20" y="79.74" width="2.55" height="2.54" fill="#f8cccc"/>
<rect x="460.35" y="79.74" width="2.55" height="2.54" fill="#f8cccc"/>
<rect x="363.60" y="81.88" width="2.55" height="2.54" fill="#fffcfc"/>
<rect x="365.75" y="81.88" width="2.55" height="2.54" fill="#fef9f9"/>
<rect x="367.90" y="81.88" width="2.55" height="2.54" fill="#fdefef"/>
<rect x="370.05" y="81.88" width="2.55" height="2.54" fill="#fbdedf"/>
<rect x="372.20" y="81.88" width="2.55" height="2.54" fill="#f8cbcc"/>
<rect x="374.35" y="81.88" width="2.55" height="2.54" fill="#f5b9ba"/>
<rect x="376.50" y="81.88" width="2.55" height="2.54" fill="#f3aaab"/>
<rect x="378.65" y="81.88" width="2.55" height="2.54" fill="#f29c9d"/>
<rect x="380.80" y="81.88" width="2.55" height="2.54" fill="#f08e8f"/>
<rect x="382.95" y="81.88" width="2.55" height="2.54" fill="#ee8082"/>
<rect x="385.10" y="81.88" width="2.55" height="2.54" fill="#ec7577"/>
<rect x="387.25" y="81.88" width="2.55" height="2.54" fill="#eb6e70"/>
<rect x="389.40" y="81.88" width="2.55" height="2.54" fill="#eb6c6e"/>
<rect x="391.55" y="81.88" width="2.55" height="2.54" fill="#eb6f70"/>
<rect x="393.70" y="81.88" width="2.55" height="2.54" fill="#ec7677"/>
<rect x="395.85" y="81.88" width="2.55" height="2.54" fill="#ee8081"/>
<rect x="398.00" y="81.88" width="2.55" height="2.54" fill="#ef8b8d"/>
<rect x="400.15" y="81.88" width="2.55" height="2.54" fill="#f19899"/>
<rect x="402.30" y="81.88" width="2.55" height="2.54" fill="#f3a4a5"/>
<rect x="404.45" y="81.88" width="2.55" height="2.54" fill="#f4afb0"/>
<rect x="406.60" y="81.88" width="2.55" height="2.54" fill="#f5b8b9"/>
<rect x="408.75" y="81.88" width="2.55" height="2.54" fill="#f6c0c0"/>
<rect x="410.90" y="81.88" width="2.55" height="2.54" fill="#f7c6c6"/>
<rect x="413.05" y="81.88" width="2.55" height="2.54" fill="#f8caca"/>
<rect x="415.20" y="81.88" width="2.55" height="2.54" fill="#f8cccd"/>
<rect x="417.35" y="81.88" width="2.55" height="2.54" fill="#f8cece"/>
<rect x="419.50" y="81.88" width="2.55" height="2.54" fill="#f8cfcf"/>
<rect x="421.65" y="81.88" width="2.55" height="2.54" fill="#f8cfcf"/>
<rect x="423.80" y="81.88" width="2.55" height="2.54" fill="#f9cfd0"/>
<rect x="425.95" y="81.88" width="2.55" height="2.54" fill="#f9cfd0"/>
<rect x="428.10" y="81.88" width="2.55" height="2.54" fill="#f9cfd0"/>
<rect x="430.25" y="81.88" width="2.55" height="2.54" fill="#f9cfd0"/>
<rect x="432.40" y="81.88" width="2.55" height="2.54" fill="#f9cfd0"/>
<rect x="434.55" y="81.88" width="2.55" height="2.54" fill="#f9cfd0"/>
<rect x="436.70" y="81.88" width="2.55" height="2.54" fill="#f9cfd0"/>
<rect x="438.85" y="81.88" width="2.55" height="2.54" fill="#f9cfd0"/>
<rect x="441.00" y="81.88" width="2.55" height="2.54" fill="#f9cfd0"/>
<rect x="443.15" y="81.88" width="2.55" height="2.54" fill="#f9cfd0"/>
<rect x="445.30" y="81.88" width="2.55" height="2.54" fill="#f9cfd0"/>
<rect x="447.45" y="81.88" width="2.55" height="2.54" fill="#f9cfd0"/>
<rect x="449.60" y="81.88" width="2.55" height="2.54" fill="#f9cfd0"/>
<rect x="451.75" y="81.88" width="2.55" height="2.54" fill="#f9cfd0"/>
<rect x="453.90" y="81.88" width="2.55" height="2.54" fill="#f9cfd0"/>
<rect x="456.05" y="81.88" width="2.55" height="2.54" fill="#f9cfd0"/>
<rect x="458.20" y="81.88" width="2.55" height="2.54" fill="#f9cfd0"/>
<rect x="460.35" y="81.88" width="2.55" height="2.54" fill="#f9cfd0"/>
<rect x="363.60" y="84.02" width="2.55" height="2.54" fill="#fffcfc"/>
<rect x="365.75" y="84.02" width="2.55" height="2.54" fill="#fefafa"/>
<rect x="367.90" y="84.02" width="2.55" height="2.54" fill="#fdf0f0"/>
<rect x="370.05" y="84.02" width="2.55" height="2.54" fill="#fbe0e0"/>
<rect x="372.20" y="84.02" width="2.55" height="2.54" fill="#f8cece"/>
<rect x="374.35" y="84.02" width="2.55" height="2.54" fill="#f6bcbd"/>
<rect x="376.50" y="84.02" width="2.55" height="2.54" fill="#f4afb0"/>
<rect x="378.65" y="84.02" width="2.55" height="2.54" fill="#f2a3a4"/>
<rect x="380.80" y="84.02" width="2.55" height="2.54" fill="#f19697"/>
<rect x="382.95" y="84.02" width="2.55" height="2.54" fill="#ef8a8b"/>
<rect x="385.10" y="84.02" width="2.55" height="2.54" fill="#ee8081"/>
<rect x="387.25" y="84.02" width="2.55" height="2.54" fill="#ed7a7b"/>
<rect x="389.40" y="84.02" width="2.55" height="2.54" fill="#ed787a"/>
<rect x="391.55" y="84.02" width="2.55" height="2.54" fill="#ed7b7c"/>
<rect x="393.70" y="84.02" width="2.55" height="2.54" fill="#ee8283"/>
<rect x="395.85" y="84.02" width="2.55" height="2.54" fill="#ef8b8d"/>
<rect x="398.00" y="84.02" width="2.55" height="2.54" fill="#f19798"/>
<rect x="400.15" y="84.02" width="2.55" height="2.54" fill="#f2a2a3"/>
<rect x="402.30" y="84.02" width="2.55" height="2.54" fill="#f4adae"/>
<rect x="404.45" y="84.02" width="2.55" height="2.54" fill="#f5b7b8"/>
<rect x="406.60" y="84.02" width="2.55" height="2.54" fill="#f6bfc0"/>
<rect x="408.75" y="84.02" width="2.55" height="2.54" fill="#f7c6c6"/>
<rect x="410.90" y="84.02" width="2.55" height="2.54" fill="#f8cacb"/>
<rect x="413.05" y="84.02" width="2.55" height="2.54" fill="#f8cece"/>
<rect x="415.20" y="84.02" width="2.55" height="2.54" fill="#f9d0d0"/>
<rect x="417.35" y="84.02" width="2.55" height="2.54" fill="#f9d1d1"/>
<rect x="419.50" y="84.02" width="2.55" height="2.54" fill="#f9d1d2"/>
<rect x="421.65" y="84.02" width="2.55" height="2.54" fill="#f9d2d2"/>
<rect x="423.80" y="84.02" width="2.55" height="2.54" fill="#f9d2d2"/>
<rect x="425.95" y="84.02" width="2.55" height="2.54" fill="#f9d2d2"/>
<rect x="428.10" y="84.02" width="2.55" height="2.54" fill="#f9d2d2"/>
<rect x="430.25" y="84.02" width="2.55" height="2.54" fill="#f9d2d2"/>
<rect x="432.40" y="84.02" width="2.55" height="2.54" fill="#f9d2d3"/>
<rect x="434.55" y="84.02" width="2.55" height="2.54" fill="#f9d2d3"/>
<rect x="436.70" y="84.02" width="2.55" height="2.54" fill="#f9d2d3"/>
<rect x="438.85" y="84.02" width="2.55" height="2.54" fill="#f9d2d3"/>
<rect x="441.00" y="84.02" width="2.55" height="2.54" fill="#f9d2d3"/>
<rect x="443.15" y="84.02" width="2.55" height="2.54" fill="#f9d2d3"/>
<rect x="445.30" y="84.02" width="2.55" height="2.54" fill="#f9d2d3"/>
<rect x="447.45" y="84.02" width="2.55" height="2.54" fill="#f9d2d3"/>
<rect x="449.60" y="84.02" width="2.55" height="2.54" fill="#f9d2d3"/>
<rect x="451.75" y="84.02" width="2.55" height="2.54" fill="#f9d2d3"/>
<rect x="453.90" y="84.02" width="2.55" height="2.54" fill="#f9d2d3"/>
<rect x="456.05" y="84.02" width="2.55" height="2.54" fill="#f9d2d3"/>
<rect x="458.20" y="84.02" width="2.55" height="2.54" fill="#f9d2d3"/>
<rect x="460.35" y="84.02" width="2.55" height="2.54" fill="#f9d2d3"/>
<rect x="363.60" y="86.16" width="2.55" height="2.54" fill="#fffdfd"/>
<rect x="365.75" y="86.16" width="2.55" height="2.54" fill="#fefafa"/>
<rect x="367.90" y="86.16" width="2.55" height="2.54" fill="#fdf1f1"/>
<rect x="370.05" y="86.16" width="2.55" height="2.54" fill="#fbe2e3"/>
<rect x="372.20" y="86.16" width="2.55" height="2.54" fill="#f9d1d2"/>
<rect x="374.35" y="86.16" width="2.55" height="2.54" fill="#f7c2c2"/>
<rect x="376.50" y="86.16" width="2.55" height="2.54" fill="#f5b6b7"/>
<rect x="378.65" y="86.16" width="2.55" height="2.54" fill="#f4acad"/>
<rect x="380.80" y="86.16" width="2.55" height="2.54" fill="#f2a1a2"/>
<rect x="382.95" y="86.16" width="2.55" height="2.54" fill="#f19899"/>
<rect x="385.10" y="86.16" width="2.55" height="2.54" fill="#f09091"/>
<rect x="387.25" y="86.16" width="2.55" height="2.54" fill="#ef8b8c"/>
<rect x="389.40" y="86.16" width="2.55" height="2.54" fill="#ef898b"/>
<rect x="391.55" y="86.16" width="2.55" height="2.54" fill="#ef8c8d"/>
<rect x="393.70" y="86.16" width="2.55" height="2.54" fill="#f09293"/>
<rect x="395.85" y="86.16" width="2.55" height="2.54" fill="#f19a9b"/>
<rect x="398.00" y="86.16" width="2.55" height="2.54" fill="#f3a4a5"/>
<rect x="400.15" y="86.16" width="2.55" height="2.54" fill="#f4adae"/>
<rect x="402.30" y="86.16" width="2.55" height="2.54" fill="#f5b7b7"/>
<rect x="404.45" y="86.16" width="2.55" height="2.54" fill="#f6bfbf"/>
<rect x="406.60" y="86.16" width="2.55" height="2.54" fill="#f7c5c6"/>
<rect x="408.75" y="86.16" width="2.55" height="2.54" fill="#f8cacb"/>
<rect x="410.90" y="86.16" width="2.55" height="2.54" fill="#f8cecf"/>
<rect x="413.05" y="86.16" width="2.55" height="2.54" fill="#f9d1d1"/>
<rect x="415.20" y="86.16" width="2.55" height="2.54" fill="#f9d2d3"/>
<rect x="417.35" y="86.16" width="2.55" height="2.54" fill="#f9d3d3"/>
<rect x="419.50" y="86.16" width="2.55" height="2.54" fill="#f9d3d4"/>
<rect x="421.65" y="86.16" width="2.55" height="2.54" fill="#f9d4d4"/>
<rect x="423.80" y="86.16" width="2.55" height="2.54" fill="#f9d4d4"/>
<rect x="425.95" y="86.16" width="2.55" height="2.54" fill="#f9d4d4"/>
<rect x="428.10" y="86.16" width="2.55" height="2.54" fill="#f9d4d4"/>
<rect x="430.25" y="86.16" width="2.55" height="2.54" fill="#f9d4d4"/>
<rect x="432.40" y="86.16" width="2.55" height="2.54" fill="#f9d4d4"/>
<rect x="434.55" y="86.16" width="2.55" height="2.54" fill="#f9d4d4"/>
<rect x="436.70" y="86.16" width="2.55" height="2.54" fill="#f9d4d4"/>
<rect x="438.85" y="86.16" width="2.55" height="2.54" fill="#f9d4d4"/>
<rect x="441.00" y="86.16" width="2.55" height="2.54" fill="#f9d4d4"/>
<rect x="443.15" y="86.16" width="2.55" height="2.54" fill="#f9d4d4"/>
<rect x="445.30" y="86.16" width="2.55" height="2.54" fill="#f9d4d4"/>
<rect x="447.45" y="86.16" width="2.55" height="2.54" fill="#f9d4d4"/>
<rect x="449.60" y="86.16" width="2.55" height="2.54" fill="#f9d4d4"/>
<rect x="451.75" y="86.16" width="2.55" height="2.54" fill="#f9d4d4"/>
<rect x="453.90" y="86.16" width="2.55" height="2.54" fill="#f9d4d4"/>
<rect x="456.05" y="86.16" width="2.55" height="2.54" fill="#f9d4d4"/>
<rect x="458.20" y="86.16" width="2.55" height="2.54" fill="#f9d4d4"/>
<rect x="460.35" y="86.16" width="2.55" height="2.54" fill="#f9d4d4"/>
<rect x="363.60" y="88.31" width="2.55" height="2.54" fill="#fffdfd"/>
<rect x="365.75" y="88.31" width="2.55" height="2.54" fill="#fffbfb"/>
<rect x="367.90" y="88.31" width="2.55" height="2.54" fill="#fdf3f3"/>
<rect x="370.05" y="88.31" width="2.55" height="2.54" fill="#fbe5e5"/>
<rect x="372.20" y="88.31" width="2.55" height="2.54" fill="#f9d5d6"/>
<rect x="374.35" y="88.31" width="2.55" height="2.54" fill="#f7c7c8"/>
<rect x="376.50" y="88.31" width="2.55" height="2.54" fill="#f6bebf"/>
<rect x="378.65" y="88.31" width="2.55" height="2.54" fill="#f5b7b7"/>
<rect x="380.80" y="88.31" width="2.55" height="2.54" fill="#f4afaf"/>
<rect x="382.95" y="88.31" width="2.55" height="2.54" fill="#f3a7a8"/>
<rect x="385.10" y="88.31" width="2.55" height="2.54" fill="#f2a1a2"/>
<rect x="387.25" y="88.31" width="2.55" height="2.54" fill="#f29d9e"/>
<rect x="389.40" y="88.31" width="2.55" height="2.54" fill="#f29c9d"/>
<rect x="391.55" y="88.31" width="2.55" height="2.54" fill="#f29e9f"/>
<rect x="393.70" y="88.31" width="2.55" height="2.54" fill="#f3a3a4"/>
<rect x="395.85" y="88.31" width="2.55" height="2.54" fill="#f3a9aa"/>
<rect x="398.00" y="88.31" width="2.55" height="2.54" fill="#f4b1b2"/>
<rect x="400.15" y="88.31" width="2.55" height="2.54" fill="#f5b8b9"/>
<rect x="402.30" y="88.31" width="2.55" height="2.54" fill="#f6c0c0"/>
<rect x="404.45" y="88.31" width="2.55" height="2.54" fill="#f7c6c6"/>
<rect x="406.60" y="88.31" width="2.55" height="2.54" fill="#f8cbcb"/>
<rect x="408.75" y="88.31" width="2.55" height="2.54" fill="#f8cecf"/>
<rect x="410.90" y="88.31" width="2.55" height="2.54" fill="#f9d1d1"/>
<rect x="413.05" y="88.31" width="2.55" height="2.54" fill="#f9d3d3"/>
<rect x="415.20" y="88.31" width="2.55" height="2.54" fill="#f9d4d4"/>
<rect x="417.35" y="88.31" width="2.55" height="2.54" fill="#f9d5d5"/>
<rect x="419.50" y="88.31" width="2.55" height="2.54" fill="#f9d5d5"/>
<rect x="421.65" y="88.31" width="2.55" height="2.54" fill="#f9d5d5"/>
<rect x="423.80" y="88.31" width="2.55" height="2.54" fill="#f9d5d6"/>
<rect x="425.95" y="88.31" width="2.55" height="2.54" fill="#f9d5d6"/>
<rect x="428.10" y="88.31" width="2.55" height="2.54" fill="#f9d5d6"/>
<rect x="430.25" y="88.31" width="2.55" height="2.54" fill="#f9d5d6"/>
<rect x="432.40" y="88.31" width="2.55" height="2.54" fill="#f9d5d6"/>
<rect x="434.55" y="88.31" width="2.55" height="2.54" fill="#f9d5d6"/>
<rect x="436.70" y="88.31" width="2.55" height="2.54" fill="#f9d5d6"/>
<rect x="438.85" y="88.31" width="2.55" height="2.54" fill="#f9d5d6"/>
<rect x="441.00" y="88.31" width="2.55" height="2.54" fill="#f9d5d6"/>
<rect x="443.15" y="88.31" width="2.55" height="2.54" fill="#f9d5d6"/>
<rect x="445.30" y="88.31" width="2.55" height="2.54" fill="#f9d5d6"/>
<rect x="447.45" y="88.31" width="2.55" height="2.54" fill="#f9d5d6"/>
<rect x="449.60" y="88.31" width="2.55" height="2.54" fill="#f9d5d6"/>
<rect x="451.75" y="88.31" width="2.55" height="2.54" fill="#f9d5d6"/>
<rect x="453.90" y="88.31" width="2.55" height="2.54" fill="#f9d5d6"/>
<rect x="456.05" y="88.31" width="2.55" height="2.54" fill="#f9d5d6"/>
<rect x="458.20" y="88.31" width="2.55" height="2.54" fill="#f9d5d6"/>
<rect x="460.35" y="88.31" width="2.55" height="2.54" fill="#f9d5d6"/>
<rect x="363.60" y="90.45" width="2.55" height="2.54" fill="#fffefe"/>
<rect x="365.75" y="90.45" width="2.55" height="2.54" fill="#fffcfc"/>
<rect x="367.90" y="90.45" width="2.55" height="2.54" fill="#fef4f4"/>
<rect x="370.05" y="90.45" width="2.55" height="2.54" fill="#fce8e8"/>
<rect x="372.20" y="90.45" width="2.55" height="2.54" fill="#fad9da"/>
<rect x="374.35" y="90.45" width="2.55" height="2.54" fill="#f8cdce"/>
<rect x="376.50" y="90.45" width="2.55" height="2.54" fill="#f7c6c7"/>
<rect x="378.65" y="90.45" width="2.55" height="2.54" fill="#f7c1c1"/>
<rect x="380.80" y="90.45" width="2.55" height="2.54" fill="#f6bbbc"/>
<rect x="382.95" y="90.45" width="2.55" height="2.54" fill="#f5b6b7"/>
<rect x="385.10" y="90.45" width="2.55" height="2.54" fill="#f5b2b3"/>
<rect x="387.25" y="90.45" width="2.55" height="2.54" fill="#f4afb0"/>
<rect x="389.40" y="90.45" width="2.55" height="2.54" fill="#f4afaf"/>
<rect x="391.55" y="90.45" width="2.55" height="2.54" fill="#f4b0b1"/>
<rect x="393.70" y="90.45" width="2.55" height="2.54" fill="#f5b3b4"/>
<rect x="395.85" y="90.45" width="2.55" height="2.54" fill="#f5b8b9"/>
<rect x="398.00" y="90.45" width="2.55" height="2.54" fill="#f6bdbe"/>
<rect x="400.15" y="90.45" width="2.55" height="2.54" fill="#f7c2c3"/>
<rect x="402.30" y="90.45" width="2.55" height="2.54" fill="#f7c7c8"/>
<rect x="404.45" y="90.45" width="2.55" height="2.54" fill="#f8cccc"/>
<rect x="406.60" y="90.45" width="2.55" height="2.54" fill="#f9cfd0"/>
<rect x="408.75" y="90.45" width="2.55" height="2.54" fill="#f9d2d2"/>
<rect x="410.90" y="90.45" width="2.55" height="2.54" fill="#f9d3d4"/>
<rect x="413.05" y="90.45" width="2.55" height="2.54" fill="#f9d5d5"/>
<rect x="415.20" y="90.45" width="2.55" height="2.54" fill="#f9d5d6"/>
<rect x="417.35" y="90.45" width="2.55" height="2.54" fill="#f9d6d6"/>
<rect x="419.50" y="90.45" width="2.55" height="2.54" fill="#f9d6d7"/>
<rect x="421.65" y="90.45" width="2.55" height="2.54" fill="#f9d6d7"/>
<rect x="423.80" y="90.45" width="2.55" height="2.54" fill="#f9d6d7"/>
<rect x="425.95" y="90.45" width="2.55" height="2.54" fill="#f9d6d7"/>
<rect x="428.10" y="90.45" width="2.55" height="2.54" fill="#fad7d7"/>
<rect x="430.25" y="90.45" width="2.55" height="2.54" fill="#fad7d8"/>
<rect x="432.40" y="90.45" width="2.55" height="2.54" fill="#fad7d8"/>
<rect x="434.55" y="90.45" width="2.55" height="2.54" fill="#fad8d8"/>
<rect x="436.70" y="90.45" width="2.55" height="2.54" fill="#fad8d8"/>
<rect x="438.85" y="90.45" width="2.55" height="2.54" fill="#fad8d8"/>
<rect x="441.00" y="90.45" width="2.55" height="2.54" fill="#fad8d8"/>
<rect x="443.15" y="90.45" width="2.55" height="2.54" fill="#fad8d8"/>
<rect x="445.30" y="90.45" width="2.55" height="2.54" fill="#fad7d8"/>
<rect x="447.45" y="90.45" width="2.55" height="2.54" fill="#fad7d8"/>
<rect x="449.60" y="90.45" width="2.55" height="2.54" fill="#fad7d7"/>
<rect x="451.75" y="90.45" width="2.55" height="2.54" fill="#f9d6d7"/>
<rect x="453.90" y="90.45" width="2.55" height="2.54" fill="#f9d6d7"/>
<rect x="456.05" y="90.45" width="2.55" height="2.54" fill="#f9d6d7"/>
<rect x="458.20" y="90.45" width="2.55" height="2.54" fill="#f9d6d7"/>
<rect x="460.35" y="90.45" width="2.55" height="2.54" fill="#f9d6d7"/>
<rect x="363.60" y="92.59" width="2.55" height="2.54" fill="#fffefe"/>
<rect x="365.75" y="92.59" width="2.55" height="2.54" fill="#fffdfd"/>
<rect x="367.90" y="92.59" width="2.55" height="2.54" fill="#fef7f7"/>
<rect x="370.05" y="92.59" width="2.55" height="2.54" fill="#fdeded"/>
<rect x="372.20" y="92.59" width="2.55" height="2.54" fill="#fbe2e3"/>
<rect x="374.35" y="92.59" width="2.55" height="2.54" fill="#fad9da"/>
<rect x="376.50" y="92.59" width="2.55" height="2.54" fill="#f9d4d5"/>
<rect x="378.65" y="92.59" width="2.55" height="2.54" fill="#f9d1d1"/>
<rect x="380.80" y="92.59" width="2.55" height="2.54" fill="#f8cdce"/>
<rect x="382.95" y="92.59" width="2.55" height="2.54" fill="#f8cacb"/>
<rect x="385.10" y="92.59" width="2.55" height="2.54" fill="#f7c7c8"/>
<rect x="387.25" y="92.59" width="2.55" height="2.54" fill="#f7c6c6"/>
<rect x="389.40" y="92.59" width="2.55" height="2.54" fill="#f7c5c6"/>
<rect x="391.55" y="92.59" width="2.55" height="2.54" fill="#f7c6c7"/>
<rect x="393.70" y="92.59" width="2.55" height="2.54" fill="#f8c8c9"/>
<rect x="395.85" y="92.59" width="2.55" height="2.54" fill="#f8cbcc"/>
<rect x="398.00" y="92.59" width="2.55" height="2.54" fill="#f8cfcf"/>
<rect x="400.15" y="92.59" width="2.55" height="2.54" fill="#f9d2d3"/>
<rect x="402.30" y="92.59" width="2.55" height="2.54" fill="#f9d5d6"/>
<rect x="404.45" y="92.59" width="2.55" height="2.54" fill="#fad8d8"/>
<rect x="406.60" y="92.59" width="2.55" height="2.54" fill="#fadadb"/>
<rect x="408.75" y="92.59" width="2.55" height="2.54" fill="#fadcdc"/>
<rect x="410.90" y="92.59" width="2.55" height="2.54" fill="#fadddd"/>
<rect x="413.05" y="92.59" width="2.55" height="2.54" fill="#fbdede"/>
<rect x="415.20" y="92.59" width="2.55" height="2.54" fill="#fbdedf"/>
<rect x="417.35" y="92.59" width="2.55" height="2.54" fill="#fbdfdf"/>
<rect x="419.50" y="92.59" width="2.55" height="2.54" fill="#fbdfdf"/>
<rect x="421.65" y="92.59" width="2.55" height="2.54" fill="#fbdfdf"/>
<rect x="423.80" y="92.59" width="2.55" height="2.54" fill="#fbdfdf"/>
<rect x="425.95" y="92.59" width="2.55" height="2.54" fill="#fbdfdf"/>
<rect x="428.10" y="92.59" width="2.55" height="2.54" fill="#fbe0e0"/>
<rect x="430.25" y="92.59" width="2.55" height="2.54" fill="#fbe2e2"/>
<rect x="432.40" y="92.59" width="2.55" height="2.54" fill="#fbe3e3"/>
<rect x="434.55" y="92.59" width="2.55" height="2.54" fill="#fbe3e4"/>
<rect x="436.70" y="92.59" width="2.55" height="2.54" fill="#fbe4e4"/>
<rect x="438.85" y="92.59" width="2.55" height="2.54" fill="#fbe4e4"/>
<rect x="441.00" y="92.59" width="2.55" height="2.54" fill="#fbe4e4"/>
<rect x="443.15" y="92.59" width="2.55" height="2.54" fill="#fbe3e4"/>
<rect x="445.30" y="92.59" width="2.55" height="2.54" fill="#fbe3e3"/>
<rect x="447.45" y="92.59" width="2.55" height="2.54" fill="#fbe2e2"/>
<rect x="449.60" y="92.59" width="2.55" height="2.54" fill="#fbe0e0"/>
<rect x="451.75" y="92.59" width="2.55" height="2.54" fill="#fbdfdf"/>
<rect x="453.90" y="92.59" width="2.55" height="2.54" fill="#fbdfdf"/>
<rect x="456.05" y="92.59" width="2.55" height="2.54" fill="#fbdfdf"/>
<rect x="458.20" y="92.59" width="2.55" height="2.54" fill="#fbdfdf"/>
<rect x="460.35" y="92.59" width="2.55" height="2.54" fill="#fbdfdf"/>
<rect x="365.75" y="94.73" width="2.55" height="2.54" fill="#fffefe"/>
<rect x="367.90" y="94.73" width="2.55" height="2.54" fill="#fefafa"/>
<rect x="370.05" y="94.73" width="2.55" height="2.54" fill="#fef5f5"/>
<rect x="372.20" y="94.73" width="2.55" height="2.54" fill="#fdefef"/>
<rect x="374.35" y="94.73" width="2.55" height="2.54" fill="#fce9ea"/>
<rect x="376.50" y="94.73" width="2.55" height="2.54" fill="#fce6e7"/>
<rect x="378.65" y="94.73" width="2.55" height="2.54" fill="#fbe4e5"/>
<rect x="380.80" y="94.73" width="2.55" height="2.54" fill="#fbe2e3"/>
<rect x="382.95" y="94.73" width="2.55" height="2.54" fill="#fbe0e1"/>
<rect x="385.10" y="94.73" width="2.55" height="2.54" fill="#fbdfdf"/>
<rect x="387.25" y="94.73" width="2.55" height="2.54" fill="#fadede"/>
<rect x="389.40" y="94.73" width="2.55" height="2.54" fill="#fadede"/>
<rect x="391.55" y="94.73" width="2.55" height="2.54" fill="#fbdede"/>
<rect x="393.70" y="94.73" width="2.55" height="2.54" fill="#fbdfe0"/>
<rect x="395.85" y="94.73" width="2.55" height="2.54" fill="#fbe1e1"/>
<rect x="398.00" y="94.73" width="2.55" height="2.54" fill="#fbe3e3"/>
<rect x="400.15" y="94.73" width="2.55" height="2.54" fill="#fbe5e5"/>
<rect x="402.30" y="94.73" width="2.55" height="2.54" fill="#fce7e7"/>
<rect x="404.45" y="94.73" width="2.55" height="2.54" fill="#fce9e9"/>
<rect x="406.60" y="94.73" width="2.55" height="2.54" fill="#fceaea"/>
<rect x="408.75" y="94.73" width="2.55" height="2.54" fill="#fcebeb"/>
<rect x="410.90" y="94.73" width="2.55" height="2.54" fill="#fcecec"/>
<rect x="413.05" y="94.73" width="2.55" height="2.54" fill="#fcecec"/>
<rect x="415.20" y="94.73" width="2.55" height="2.54" fill="#fceced"/>
<rect x="417.35" y="94.73" width="2.55" height="2.54" fill="#fceded"/>
<rect x="419.50" y="94.73" width="2.55" height="2.54" fill="#fdeded"/>
<rect x="421.65" y="94.73" width="2.55" height="2.54" fill="#fdeded"/>
<rect x="423.80" y="94.73" width="2.55" height="2.54" fill="#fdeded"/>
<rect x="425.95" y="94.73" width="2.55" height="2.54" fill="#fdeded"/>
<rect x="428.10" y="94.73" width="2.55" height="2.54" fill="#fdf0f0"/>
<rect x="430.25" y="94.73" width="2.55" height="2.54" fill="#fef4f4"/>
<rect x="432.40" y="94.73" width="2.55" height="2.54" fill="#fef7f7"/>
<rect x="434.55" y="94.73" width="2.55" height="2.54" fill="#fef9f9"/>
<rect x="436.70" y="94.73" width="2.55" height="2.54" fill="#fefafa"/>
<rect x="438.85" y="94.73" width="2.55" height="2.54" fill="#fefbfb"/>
<rect x="441.00" y="94.73" width="2.55" height="2.54" fill="#fefafa"/>
<rect x="443.15" y="94.73" width="2.55" height="2.54" fill="#fef9f9"/>
<rect x="445.30" y="94.73" width="2.55" height="2.54" fill="#fef7f7"/>
<rect x="447.45" y="94.73" width="2.55" height="2.54" fill="#fef5f5"/>
<rect x="449.60" y="94.73" width="2.55" height="2.54" fill="#fdeff0"/>
<rect x="451.75" y="94.73" width="2.55" height="2.54" fill="#fdeded"/>
<rect x="453.90" y="94.73" width="2.55" height="2.54" fill="#fdeded"/>
<rect x="456.05" y="94.73" width="2.55" height="2.54" fill="#fdeded"/>
<rect x="458.20" y="94.73" width="2.55" height="2.54" fill="#fdeded"/>
<rect x="460.35" y="94.73" width="2.55" height="2.54" fill="#fdeded"/>
<rect x="365.75" y="96.87" width="2.55" height="2.54" fill="#fffefe"/>
<rect x="367.90" y="96.87" width="2.55" height="2.54" fill="#fffdfd"/>
<rect x="370.05" y="96.87" width="2.55" height="2.54" fill="#fffbfb"/>
<rect x="372.20" y="96.87" width="2.55" height="2.54" fill="#fef9f9"/>
<rect x="374.35" y="96.87" width="2.55" height="2.54" fill="#fef7f7"/>
<rect x="376.50" y="96.87" width="2.55" height="2.54" fill="#fef6f6"/>
<rect x="378.65" y="96.87" width="2.55" height="2.54" fill="#fef5f5"/>
<rect x="380.80" y="96.87" width="2.55" height="2.54" fill="#fdf4f4"/>
<rect x="382.95" y="96.87" width="2.55" height="2.54" fill="#fdf3f3"/>
<rect x="385.10" y="96.87" width="2.55" height="2.54" fill="#fdf2f2"/>
<rect x="387.25" y="96.87" width="2.55" height="2.54" fill="#fdf1f1"/>
<rect x="389.40" y="96.87" width="2.55" height="2.54" fill="#fdf1f1"/>
<rect x="391.55" y="96.87" width="2.55" height="2.54" fill="#fdf2f2"/>
<rect x="393.70" y="96.87" width="2.55" height="2.54" fill="#fdf2f2"/>
<rect x="395.85" y="96.87" width="2.55" height="2.54" fill="#fdf3f3"/>
<rect x="398.00" y="96.87" width="2.55" height="2.54" fill="#fef4f4"/>
<rect x="400.15" y="96.87" width="2.55" height="2.54" fill="#fef5f6"/>
<rect x="402.30" y="96.87" width="2.55" height="2.54" fill="#fef6f7"/>
<rect x="404.45" y="96.87" width="2.55" height="2.54" fill="#fef7f7"/>
<rect x="406.60" y="96.87" width="2.55" height="2.54" fill="#fef8f8"/>
<rect x="408.75" y="96.87" width="2.55" height="2.54" fill="#fef9f9"/>
<rect x="410.90" y="96.87" width="2.55" height="2.54" fill="#fef9f9"/>
<rect x="413.05" y="96.87" width="2.55" height="2.54" fill="#fef9f9"/>
<rect x="415.20" y="96.87" width="2.55" height="2.54" fill="#fef9f9"/>
<rect x="417.35" y="96.87" width="2.55" height="2.54" fill="#fef9f9"/>
<rect x="419.50" y="96.87" width="2.55" height="2.54" fill="#fef9fa"/>
<rect x="421.65" y="96.87" width="2.55" height="2.54" fill="#fefafa"/>
<rect x="423.80" y="96.87" width="2.55" height="2.54" fill="#fefafa"/>
<rect x="425.95" y="96.87" width="2.55" height="2.54" fill="#fefafa"/>
<rect x="430.25" y="96.87" width="2.55" height="2.54" fill="#f7fbf7"/>
<rect x="432.40" y="96.87" width="2.55" height="2.54" fill="#f3f9f2"/>
<rect x="434.55" y="96.87" width="2.55" height="2.54" fill="#eff8ef"/>
<rect x="436.70" y="96.87" width="2.55" height="2.54" fill="#edf7ec"/>
<rect x="438.85" y="96.87" width="2.55" height="2.54" fill="#ecf6eb"/>
<rect x="441.00" y="96.87" width="2.55" height="2.54" fill="#edf7ec"/>
<rect x="443.15" y="96.87" width="2.55" height="2.54" fill="#eff8ef"/>
<rect x="445.30" y="96.87" width="2.55" height="2.54" fill="#f2f9f2"/>
<rect x="447.45" y="96.87" width="2.55" height="2.54" fill="#f7fbf6"/>
<rect x="449.60" y="96.87" width="2.55" height="2.54" fill="#fffefe"/>
<rect x="451.75" y="96.87" width="2.55" height="2.54" fill="#fefafa"/>
<rect x="453.90" y="96.87" width="2.55" height="2.54" fill="#fefafa"/>
<rect x="456.05" y="96.87" width="2.55" height="2.54" fill="#fefafa"/>
<rect x="458.20" y="96.87" width="2.55" height="2.54" fill="#fefafa"/>
<rect x="460.35" y="96.87" width="2.55" height="2.54" fill="#fefafa"/>
<rect x="370.05" y="99.02" width="2.55" height="2.54" fill="#fffefe"/>
<rect x="372.20" y="99.02" width="2.55" height="2.54" fill="#fffefe"/>
<rect x="374.35" y="99.02" width="2.55" height="2.54" fill="#fffefe"/>
<rect x="376.50" y="99.02" width="2.55" height="2.54" fill="#fffdfd"/>
<rect x="378.65" y="99.02" width="2.55" height="2.54" fill="#fffdfd"/>
<rect x="380.80" y="99.02" width="2.55" height="2.54" fill="#fffcfc"/>
<rect x="382.95" y="99.02" width="2.55" height="2.54" fill="#fffbfc"/>
<rect x="385.10" y="99.02" width="2.55" height="2.54" fill="#fefbfb"/>
<rect x="387.25" y="99.02" width="2.55" height="2.54" fill="#fefbfb"/>
<rect x="389.40" y="99.02" width="2.55" height="2.54" fill="#fefbfb"/>
<rect x="391.55" y="99.02" width="2.55" height="2.54" fill="#fefbfb"/>
<rect x="393.70" y="99.02" width="2.55" height="2.54" fill="#fefbfb"/>
<rect x="395.85" y="99.02" width="2.55" height="2.54" fill="#fffcfc"/>
<rect x="398.00" y="99.02" width="2.55" height="2.54" fill="#fffcfc"/>
<rect x="400.15" y="99.02" width="2.55" height="2.54" fill="#fffdfd"/>
<rect x="402.30" y="99.02" width="2.55" height="2.54" fill="#fffdfd"/>
<rect x="404.45" y="99.02" width="2.55" height="2.54" fill="#fffefe"/>
<rect x="406.60" y="99.02" width="2.55" height="2.54" fill="#fffefe"/>
<rect x="408.75" y="99.02" width="2.55" height="2.54" fill="#fffefe"/>
<rect x="425.95" y="99.02" width="2.55" height="2.54" fill="#fefffe"/>
<rect x="428.10" y="99.02" width="2.55" height="2.54" fill="#f8fcf8"/>
<rect x="430.25" y="99.02" width="2.55" height="2.54" fill="#eef7ee"/>
<rect x="432.40" y="99.02" width="2.55" height="2.54" fill="#e9f5e8"/>
<rect x="434.55" y="99.02" width="2.55" height="2.54" fill="#e4f3e3"/>
<rect x="436.70" y="99.02" width="2.55" height="2.54" fill="#e1f1e0"/>
<rect x="438.85" y="99.02" width="2.55" height="2.54" fill="#e0f1df"/>
<rect x="441.00" y="99.02" width="2.55" height="2.54" fill="#e1f1e0"/>
<rect x="443.15" y="99.02" width="2.55" height="2.54" fill="#e4f2e3"/>
<rect x="445.30" y="99.02" width="2.55" height="2.54" fill="#e8f5e8"/>
<rect x="447.45" y="99.02" width="2.55" height="2.54" fill="#eef7ed"/>
<rect x="449.60" y="99.02" width="2.55" height="2.54" fill="#f9fcf9"/>
<rect x="374.35" y="101.16" width="2.55" height="2.54" fill="#fffefe"/>
<rect x="376.50" y="101.16" width="2.55" height="2.54" fill="#fffefe"/>
<rect x="378.65" y="101.16" width="2.55" height="2.54" fill="#fffefe"/>
<rect x="380.80" y="101.16" width="2.55" height="2.54" fill="#fffefe"/>
<rect x="382.95" y="101.16" width="2.55" height="2.54" fill="#fffdfd"/>
<rect x="385.10" y="101.16" width="2.55" height="2.54" fill="#fffdfd"/>
<rect x="387.25" y="101.16" width="2.55" height="2.54" fill="#fffdfd"/>
<rect x="389.40" y="101.16" width="2.55" height="2.54" fill="#fffdfd"/>
<rect x="391.55" y="101.16" width="2.55" height="2.54" fill="#fffdfd"/>
<rect x="393.70" y="101.16" width="2.55" height="2.54" fill="#fffdfd"/>
<rect x="395.85" y="101.16" width="2.55" height="2.54" fill="#fffdfd"/>
<rect x="398.00" y="101.16" width="2.55" height="2.54" fill="#fffefe"/>
<rect x="400.15" y="101.16" width="2.55" height="2.54" fill="#fffefe"/>
<rect x="402.30" y="101.16" width="2.55" height="2.54" fill="#fffefe"/>
<rect x="404.45" y="101.16" width="2.55" height="2.54" fill="#fffefe"/>
<rect x="425.95" y="101.16" width="2.55" height="2.54" fill="#fefffe"/>
<rect x="428.10" y="101.16" width="2.55" height="2.54" fill="#f9fcf9"/>
<rect x="430.25" y="101.16" width="2.55" height="2.54" fill="#f0f8f0"/>
<rect x="432.40" y="101.16" width="2.55" height="2.54" fill="#ebf6ea"/>
<rect x="434.55" y="101.16" width="2.55" height="2.54" fill="#e7f4e6"/>
<rect x="436.70" y="101.16" width="2.55" height="2.54" fill="#e4f3e3"/>
<rect x="438.85" y="101.16" width="2.55" height="2.54" fill="#e3f2e2"/>
<rect x="441.00" y="101.16" width="2.55" height="2.54" fill="#e4f3e3"/>
<rect x="443.15" y="101.16" width="2.55" height="2.54" fill="#e7f4e6"/>
<rect x="445.30" y="101.16" width="2.55" height="2.54" fill="#ebf6ea"/>
<rect x="447.45" y="101.16" width="2.55" height="2.54" fill="#f0f8ef"/>
<rect x="449.60" y="101.16" width="2.55" height="2.54" fill="#fafdfa"/>
<path d="M462.5,81.7 L461.5,81.7 L460.5,81.7 L459.5,81.7 L458.5,81.7 L457.5,81.7 L456.5,81.7 L455.6,81.7 L454.6,81.7 L453.6,81.7 L452.6,81.7 L451.6,81.7 L450.6,81.7 L449.6,81.7 L448.6,81.7 L447.6,81.7 L446.6,81.7 L445.6,81.7 L444.6,81.7 L443.6,81.7 L442.7,81.7 L441.7,81.7 L440.7,81.7 L439.7,81.7 L438.7,81.7 L437.7,81.7 L436.7,81.7 L435.7,81.7 L434.7,81.7 L433.7,81.7 L432.7,81.7 L431.7,81.7 L430.7,81.8 L429.8,81.8 L428.8,81.8 L427.8,81.8 L426.8,81.8 L425.8,81.8 L424.8,81.9 L423.8,81.9 L423.0,81.9 L422.1,82.0 L421.2,82.1 L420.2,82.2 L419.5,82.4 L418.5,82.6 L417.8,82.8 L417.2,83.0 L416.5,83.3 L415.9,83.7 L415.2,84.1 L414.5,84.5 L414.0,84.9 L413.5,85.3 L412.9,85.9 L412.5,86.3 L411.9,86.8 L411.4,87.3 L410.9,87.8 L410.4,88.3 L409.9,88.7 L409.3,89.3 L408.9,89.6 L408.3,90.2 L407.8,90.6 L407.3,91.0 L406.6,91.4 L405.9,91.7 L405.3,92.0 L404.3,92.3 L403.6,92.5 L403.0,92.7 L402.0,92.9 L401.3,93.1 L400.3,93.3 L399.7,93.4 L398.7,93.6 L398.0,93.7 L397.0,93.8 L396.2,94.0 L395.4,94.1 L394.4,94.2 L393.4,94.2 L392.5,94.3 L391.7,94.3 L390.7,94.4 L389.7,94.4 L388.7,94.3 L387.7,94.3 L387.1,94.3 L386.1,94.2 L385.1,94.1 L384.1,94.0 L383.4,93.9 L382.5,93.7 L381.7,93.6 L380.8,93.5 L380.0,93.3 L379.1,93.1 L378.5,93.0 L377.5,92.7 L376.8,92.5 L376.2,92.2 L375.5,91.6 L375.2,91.2 L374.8,90.4 L374.5,89.6 L374.3,89.0 L374.1,88.3 L373.9,87.4 L373.6,86.6 L373.5,85.9 L373.3,84.9 L373.2,84.1 L373.1,83.3 L373.0,82.3 L373.0,81.3 L373.0,80.3 L373.0,79.3 L373.1,78.3 L373.2,77.6 L373.4,76.6 L373.5,75.9 L373.8,74.9 L373.9,74.3 L374.2,73.4 L374.5,72.6 L374.7,71.9 L375.0,71.3 L375.3,70.6 L375.6,69.9 L376.0,69.3 L376.5,68.6 L376.9,68.3 L377.5,67.9 L378.2,67.5 L378.8,67.1 L379.5,66.8 L380.1,66.5 L380.8,66.2 L381.6,65.9 L382.5,65.7 L383.1,65.5 L384.1,65.3 L384.8,65.2 L385.8,65.0 L386.4,64.9 L387.4,64.7 L388.1,64.6 L389.1,64.4 L389.7,64.2 L390.7,64.0 L391.4,63.8 L392.2,63.6 L393.0,63.3 L393.4,62.9 L393.7,62.1 L394.0,61.3 L394.3,60.6 L394.6,59.9 L394.8,59.3 L395.2,58.6 L395.5,57.9 L396.0,57.3 L396.4,56.9 L396.8,56.3 L397.2,55.6 L397.5,54.9 L397.7,54.3 L398.0,53.5 L398.3,52.6 L398.5,51.9 L398.7,51.2 L399.0,50.2 L399.1,49.6 L399.3,48.9 L399.6,47.9 L399.8,47.2 L400.0,46.5 L400.3,45.6 L400.5,44.9 L400.7,44.2 L401.0,43.5 L401.3,42.7 L401.6,41.9 L402.0,41.2 L402.3,40.6 L402.6,40.0 L403.0,39.5 L403.3,38.9 L403.8,38.2 L404.3,37.7 L404.7,37.2" fill="none" stroke="#fff" stroke-opacity="0.65" stroke-width="0.65"/>
<path d="M462.5,69.8 L461.5,69.8 L460.5,69.8 L459.5,69.8 L458.5,69.8 L457.5,69.8 L456.5,69.8 L455.6,69.8 L454.6,69.8 L453.6,69.8 L452.6,69.8 L451.6,69.8 L450.6,69.9 L449.6,69.9 L448.6,69.9 L447.9,69.9 L447.0,70.0 L446.0,70.0 L445.0,70.1 L444.0,70.1 L443.0,70.2 L442.0,70.2 L441.3,70.3 L440.3,70.4 L439.3,70.5 L438.4,70.6 L437.7,70.6 L436.7,70.7 L435.7,70.8 L434.7,70.9 L434.1,71.0 L433.1,71.1 L432.1,71.2 L431.3,71.3 L430.4,71.3 L429.4,71.4 L428.4,71.5 L427.4,71.6 L426.8,71.6 L425.8,71.7 L424.8,71.7 L423.8,71.8 L422.8,71.8 L421.8,71.9 L420.8,71.9 L419.9,71.9 L419.2,72.0 L418.2,72.1 L417.2,72.2 L416.5,72.3 L415.5,72.5 L414.9,72.7 L414.1,72.9 L413.4,73.3 L412.8,73.6 L412.2,74.0 L411.6,74.5 L411.0,74.9 L410.6,75.3 L409.9,75.8 L409.4,76.3 L408.9,76.8 L408.4,77.3 L407.9,77.8 L407.5,78.3 L406.9,78.9 L406.6,79.3 L406.1,79.9 L405.6,80.5 L405.3,81.0 L404.8,81.6 L404.3,82.2 L404.0,82.6 L403.4,83.3 L403.0,83.9 L402.6,84.3 L402.0,84.9 L401.6,85.3 L401.0,85.9 L400.6,86.3 L400.0,86.8 L399.4,87.3 L398.9,87.6 L398.3,88.0 L397.7,88.4 L397.0,88.8 L396.3,89.1 L395.7,89.4 L395.0,89.6 L394.0,89.9 L393.4,90.1 L392.4,90.3 L391.7,90.3 L390.7,90.4 L389.7,90.4 L388.7,90.4 L388.0,90.3 L387.1,90.1 L386.3,90.0 L385.4,89.7 L384.8,89.5 L384.1,89.2 L383.4,88.9 L382.8,88.5 L382.1,88.1 L381.5,87.6 L381.1,87.3 L380.5,86.7 L380.1,86.3 L379.6,85.6 L379.2,84.9 L378.8,84.3 L378.5,83.6 L378.3,82.9 L378.2,82.1 L378.1,81.3 L378.1,80.3 L378.2,79.6 L378.5,78.6 L378.7,77.9 L379.0,77.3 L379.4,76.6 L379.8,76.1 L380.2,75.6 L380.8,75.0 L381.2,74.6 L381.8,74.1 L382.5,73.7 L383.1,73.3 L383.7,72.9 L384.4,72.6 L385.1,72.3 L385.8,72.0 L386.4,71.8 L387.1,71.6 L388.1,71.3 L388.7,71.1 L389.4,70.9 L390.4,70.6 L391.1,70.4 L391.7,70.2 L392.4,69.9 L393.1,69.6 L393.7,69.3 L394.4,68.9 L395.0,68.5 L395.7,68.1 L396.3,67.6 L396.7,67.3 L397.3,66.7 L397.7,66.3 L398.2,65.6 L398.7,65.0 L399.0,64.5 L399.3,63.9 L399.7,63.3 L400.1,62.6 L400.4,61.9 L400.7,61.3 L401.0,60.6 L401.3,59.9 L401.6,59.1 L401.9,58.3 L402.2,57.6 L402.4,56.9 L402.6,56.2 L402.9,55.3 L403.2,54.6 L403.4,53.9 L403.7,53.2 L404.0,52.5 L404.3,51.8 L404.6,51.1 L404.9,50.5 L405.3,49.9 L405.7,49.2 L406.1,48.6 L406.6,48.0 L406.9,47.6 L407.6,46.9 L408.0,46.6 L408.6,46.1 L409.2,45.7 L409.9,45.4 L410.6,45.1 L411.4,44.9 L412.2,44.8 L413.2,44.8 L414.2,44.7 L415.2,44.7 L416.2,44.6 L417.2,44.6 L418.2,44.6 L418.8,44.6 L419.8,44.6 L420.8,44.6 L421.8,44.6 L422.8,44.6 L423.5,44.6 L424.5,44.6 L425.5,44.6 L426.4,44.7 L427.4,44.7 L428.4,44.8 L429.4,44.8 L430.4,44.9 L431.2,44.9 L432.1,45.0 L433.1,45.0 L434.1,45.1 L435.0,45.2 L436.0,45.2 L436.7,45.3 L437.7,45.3 L438.7,45.4 L439.7,45.4 L440.7,45.5 L441.7,45.5 L442.5,45.6 L443.3,45.6 L444.3,45.6 L445.3,45.7 L446.3,45.7 L447.3,45.7 L448.3,45.7 L449.3,45.8 L450.3,45.8 L451.3,45.8 L452.2,45.8 L453.2,45.8 L454.2,45.8 L455.2,45.8 L456.2,45.8 L457.2,45.8 L458.2,45.8 L459.2,45.8 L460.2,45.8 L461.2,45.8 L462.2,45.8" fill="none" stroke="#fff" stroke-opacity="0.65" stroke-width="0.65"/>
<path d="M407.9,67.6 L407.3,67.6 L406.4,67.3 L405.9,66.6 L405.8,65.9 L405.7,64.9 L405.8,63.9 L405.9,62.9 L405.9,62.2 L406.1,61.3 L406.3,60.3 L406.4,59.6 L406.6,58.8 L406.8,57.9 L407.1,57.3 L407.3,56.6 L407.6,55.9 L407.9,55.2 L408.3,54.6 L408.7,53.9 L409.2,53.2 L409.6,52.9 L410.2,52.3 L410.9,51.9 L411.6,51.7 L412.2,51.5 L413.2,51.3 L413.9,51.2 L414.9,51.0 L415.8,50.9 L416.5,50.8 L417.5,50.7 L418.5,50.7 L419.5,50.6 L420.5,50.6 L421.5,50.6 L422.5,50.6 L423.5,50.7 L424.5,50.7 L425.5,50.8 L426.1,50.9 L427.1,51.1 L428.1,51.2 L428.8,51.3 L429.8,51.5 L430.4,51.7 L431.3,51.9 L432.1,52.1 L432.7,52.3 L433.6,52.6 L434.4,52.9 L435.0,53.1 L435.7,53.4 L436.4,53.6 L437.0,53.9 L437.7,54.3 L438.4,54.6 L439.0,54.9 L439.7,55.4 L440.3,55.8 L440.8,56.3 L441.3,56.9 L441.7,57.5 L441.7,58.3 L441.5,58.9 L441.1,59.6 L440.7,60.0 L440.0,60.6 L439.6,60.9 L439.0,61.3 L438.4,61.7 L437.7,62.1 L437.0,62.4 L436.4,62.8 L435.7,63.1 L435.0,63.4 L434.4,63.6 L433.6,63.9 L432.7,64.3 L432.1,64.5 L431.4,64.7 L430.5,64.9 L429.8,65.1 L429.1,65.3 L428.1,65.5 L427.4,65.6 L426.4,65.8 L425.6,65.9 L424.8,66.0 L423.8,66.1 L422.8,66.2 L421.8,66.2 L420.9,66.3 L420.2,66.3 L419.2,66.3 L418.2,66.3 L417.2,66.3 L416.2,66.3 L415.2,66.3 L414.2,66.4 L413.2,66.5 L412.6,66.7 L411.7,66.9 L410.9,67.2 L410.2,67.3 L409.2,67.5 L408.3,67.6" fill="none" stroke="#fff" stroke-opacity="0.65" stroke-width="0.65"/>
<path d="M390.4,85.3 L389.7,85.3 L388.7,85.1 L388.0,84.9 L387.2,84.6 L386.6,84.3 L386.1,83.9 L385.5,83.3 L385.1,82.7 L384.8,81.9 L384.6,81.3 L384.7,80.3 L384.9,79.6 L385.3,78.9 L385.8,78.3 L386.1,77.9 L386.8,77.5 L387.4,77.1 L388.1,76.8 L388.7,76.5 L389.6,76.3 L390.4,76.1 L391.3,75.9 L392.0,75.9 L393.0,75.8 L394.0,75.8 L395.0,75.9 L395.7,76.1 L396.3,76.3 L397.0,76.7 L397.4,77.3 L397.7,77.9 L397.7,78.9 L397.6,79.6 L397.3,80.3 L397.0,81.1 L396.7,81.7 L396.3,82.3 L395.7,82.9 L395.4,83.3 L394.7,83.8 L394.0,84.3 L393.4,84.6 L392.7,84.9 L392.0,85.1 L391.1,85.2 L390.4,85.3" fill="none" stroke="#fff" stroke-opacity="0.65" stroke-width="0.65"/>
<path d="M424.1,63.0 L423.1,63.1 L422.1,63.2 L421.2,63.3 L420.2,63.3 L419.2,63.2 L418.2,63.2 L417.2,63.1 L416.2,62.9 L415.5,62.9 L414.5,62.7 L413.5,62.6 L412.9,62.5 L411.9,62.4 L411.2,62.3 L410.6,61.7 L410.2,61.2 L410.0,60.3 L409.9,59.3 L410.1,58.3 L410.4,57.6 L410.7,56.9 L411.2,56.3 L411.7,55.9 L412.3,55.6 L413.1,55.3 L413.9,54.9 L414.5,54.7 L415.2,54.5 L416.2,54.3 L416.9,54.1 L417.8,54.0 L418.5,53.9 L419.5,53.8 L420.5,53.7 L421.5,53.7 L422.5,53.8 L423.5,53.9 L424.1,54.0 L425.1,54.2 L425.8,54.3 L426.8,54.6 L427.4,54.8 L428.1,55.1 L428.8,55.4 L429.4,55.8 L430.0,56.3 L430.4,56.6 L430.9,57.3 L431.1,57.9 L431.1,58.9 L430.8,59.6 L430.4,60.2 L430.0,60.6 L429.4,61.0 L428.8,61.4 L428.1,61.8 L427.4,62.1 L426.8,62.3 L425.9,62.6 L425.1,62.8 L424.4,62.9" fill="none" stroke="#fff" stroke-opacity="0.65" stroke-width="0.65"/>
</g>
<rect x="363.60" y="36.90" width="98.90" height="66.40" fill="none" stroke="#444" stroke-width="0.9"/>
<text font-size="7" text-anchor="middle" stroke="#262626" stroke-width="0.12" x="365.80" y="34.40">0</text>
<text font-size="7" text-anchor="middle" stroke="#262626" stroke-width="0.12" x="387.80" y="34.40">80</text>
<text font-size="7" text-anchor="middle" stroke="#262626" stroke-width="0.12" x="409.00" y="34.40">400</text>
<text font-size="7" text-anchor="middle" stroke="#262626" stroke-width="0.12" x="431.60" y="34.40">2000</text>
<text font-size="7" text-anchor="middle" stroke="#262626" stroke-width="0.12" x="453.00" y="34.40">5000</text>
<text font-size="7" text-anchor="end" stroke="#262626" stroke-width="0.12" x="361.60" y="41.80">0</text>
<text font-size="7" text-anchor="end" stroke="#262626" stroke-width="0.12" x="361.60" y="63.00">40</text>
<text font-size="7" text-anchor="end" stroke="#262626" stroke-width="0.12" x="361.60" y="83.30">80</text>
<text font-size="7" text-anchor="end" stroke="#262626" stroke-width="0.12" x="361.60" y="103.50">160</text>
<polygon points="364.70,26.50 459.60,20.30 459.60,26.50" fill="#111"/>
<text font-size="8.1" text-anchor="middle" stroke="#262626" stroke-width="0.26" transform="translate(414.20 17.60) scale(0.793 1)">Ruxolitinib (nM)</text>
<polygon points="346.20,40.40 347.30,100.50 340.40,100.50" fill="#111"/>
<text font-size="8.1" text-anchor="middle" stroke="#262626" stroke-width="0.26" transform="translate(334.80 71.60) rotate(-90) scale(0.791 1)">Pevonedistat (nM)</text>
<rect x="474.60" y="62.40" width="6.20" height="32.30" fill="url(#gC)"/>
<text font-size="6.8" text-anchor="end" stroke="#262626" stroke-width="0.12" x="495.00" y="65.20">20</text>
<text font-size="6.8" text-anchor="end" stroke="#262626" stroke-width="0.12" x="495.00" y="73.05">10</text>
<text font-size="6.8" text-anchor="end" stroke="#262626" stroke-width="0.12" x="495.00" y="80.90">0</text>
<text font-size="6.8" text-anchor="end" stroke="#262626" stroke-width="0.12" x="495.00" y="88.75">−10</text>
<text font-size="6.8" text-anchor="end" stroke="#262626" stroke-width="0.12" x="495.00" y="96.60">−20</text>
<text font-size="7" stroke="#262626" stroke-width="0.12" transform="translate(467.40 103.60) scale(0.970 1)">Synergy score</text>
<text font-size="11.6" font-weight="bold" fill="#000" stroke="#000" stroke-width="0.15" x="7.20" y="143.20">D</text>
<rect x="47.40" y="174.10" width="8.70" height="34.50" fill="#0f4c82"/>
<rect x="47.40" y="163.18" width="8.70" height="10.92" fill="#3bb54a"/>
<rect x="47.40" y="151.10" width="8.70" height="12.07" fill="#cd1e3c"/>
<rect x="58.20" y="176.40" width="8.70" height="32.20" fill="#0f4c82"/>
<rect x="58.20" y="165.47" width="8.70" height="10.92" fill="#3bb54a"/>
<rect x="58.20" y="151.10" width="8.70" height="14.37" fill="#cd1e3c"/>
<rect x="69.00" y="170.07" width="8.70" height="38.52" fill="#0f4c82"/>
<rect x="69.00" y="162.60" width="8.70" height="7.47" fill="#3bb54a"/>
<rect x="69.00" y="151.10" width="8.70" height="11.50" fill="#cd1e3c"/>
<line x1="73.35" y1="150.30" x2="73.35" y2="151.10" stroke="#cd1e3c" stroke-width="0.6"/>
<line x1="71.75" y1="150.30" x2="74.95" y2="150.30" stroke="#cd1e3c" stroke-width="0.6"/>
<rect x="79.90" y="175.25" width="8.70" height="33.35" fill="#0f4c82"/>
<rect x="79.90" y="164.90" width="8.70" height="10.35" fill="#3bb54a"/>
<rect x="79.90" y="151.10" width="8.70" height="13.80" fill="#cd1e3c"/>
<line x1="45.60" y1="150.70" x2="45.60" y2="208.60" stroke="#262626" stroke-width="0.9"/>
<line x1="42.80" y1="208.60" x2="45.60" y2="208.60" stroke="#262626" stroke-width="0.9"/>
<text font-size="7.2" text-anchor="end" stroke="#262626" stroke-width="0.12" transform="translate(39.60 211.62) scale(1.100 1)">0</text>
<line x1="42.80" y1="197.10" x2="45.60" y2="197.10" stroke="#262626" stroke-width="0.9"/>
<text font-size="7.2" text-anchor="end" stroke="#262626" stroke-width="0.12" transform="translate(39.60 200.12) scale(1.100 1)">20</text>
<line x1="42.80" y1="185.60" x2="45.60" y2="185.60" stroke="#262626" stroke-width="0.9"/>
<text font-size="7.2" text-anchor="end" stroke="#262626" stroke-width="0.12" transform="translate(39.60 188.62) scale(1.100 1)">40</text>
<line x1="42.80" y1="174.10" x2="45.60" y2="174.10" stroke="#262626" stroke-width="0.9"/>
<text font-size="7.2" text-anchor="end" stroke="#262626" stroke-width="0.12" transform="translate(39.60 177.12) scale(1.100 1)">60</text>
<line x1="42.80" y1="162.60" x2="45.60" y2="162.60" stroke="#262626" stroke-width="0.9"/>
<text font-size="7.2" text-anchor="end" stroke="#262626" stroke-width="0.12" transform="translate(39.60 165.62) scale(1.100 1)">80</text>
<line x1="42.80" y1="151.10" x2="45.60" y2="151.10" stroke="#262626" stroke-width="0.9"/>
<text font-size="7.2" text-anchor="end" stroke="#262626" stroke-width="0.12" transform="translate(39.60 154.12) scale(1.100 1)">100</text>
<line x1="45.60" y1="208.60" x2="90.40" y2="208.60" stroke="#262626" stroke-width="0.9"/>
<line x1="51.75" y1="208.60" x2="51.75" y2="210.80" stroke="#262626" stroke-width="0.8"/>
<line x1="62.55" y1="208.60" x2="62.55" y2="210.80" stroke="#262626" stroke-width="0.8"/>
<line x1="73.35" y1="208.60" x2="73.35" y2="210.80" stroke="#262626" stroke-width="0.8"/>
<line x1="84.25" y1="208.60" x2="84.25" y2="210.80" stroke="#262626" stroke-width="0.8"/>
<text font-size="8.8" text-anchor="middle" stroke="#262626" stroke-width="0.12" x="70.20" y="147.00">48h</text>
<text font-size="7.8" text-anchor="end" stroke="#262626" stroke-width="0.12" transform="translate(54.05 217.60) rotate(-45)">Control</text>
<text font-size="7.8" text-anchor="end" stroke="#262626" stroke-width="0.12" transform="translate(64.85 217.60) rotate(-45)">Pev</text>
<text font-size="7.8" text-anchor="end" stroke="#262626" stroke-width="0.12" transform="translate(75.65 217.60) rotate(-45)">Rux</text>
<text font-size="7.8" text-anchor="end" stroke="#262626" stroke-width="0.12" transform="translate(86.55 217.60) rotate(-45)">Rux + Pev</text>
<rect x="114.20" y="173.53" width="8.70" height="35.07" fill="#0f4c82"/>
<rect x="114.20" y="162.60" width="8.70" height="10.92" fill="#3bb54a"/>
<rect x="114.20" y="151.10" width="8.70" height="11.50" fill="#cd1e3c"/>
<line x1="118.55" y1="150.30" x2="118.55" y2="151.10" stroke="#cd1e3c" stroke-width="0.6"/>
<line x1="116.95" y1="150.30" x2="120.15" y2="150.30" stroke="#cd1e3c" stroke-width="0.6"/>
<rect x="125.00" y="179.85" width="8.70" height="28.75" fill="#0f4c82"/>
<rect x="125.00" y="164.32" width="8.70" height="15.52" fill="#3bb54a"/>
<rect x="125.00" y="151.10" width="8.70" height="13.22" fill="#cd1e3c"/>
<rect x="135.80" y="170.65" width="8.70" height="37.95" fill="#0f4c82"/>
<rect x="135.80" y="163.75" width="8.70" height="6.90" fill="#3bb54a"/>
<rect x="135.80" y="151.10" width="8.70" height="12.65" fill="#cd1e3c"/>
<line x1="140.15" y1="149.90" x2="140.15" y2="151.10" stroke="#cd1e3c" stroke-width="0.6"/>
<line x1="138.55" y1="149.90" x2="141.75" y2="149.90" stroke="#cd1e3c" stroke-width="0.6"/>
<rect x="146.70" y="175.82" width="8.70" height="32.77" fill="#0f4c82"/>
<rect x="146.70" y="164.32" width="8.70" height="11.50" fill="#3bb54a"/>
<rect x="146.70" y="151.10" width="8.70" height="13.22" fill="#cd1e3c"/>
<line x1="112.40" y1="150.70" x2="112.40" y2="208.60" stroke="#262626" stroke-width="0.9"/>
<line x1="109.60" y1="208.60" x2="112.40" y2="208.60" stroke="#262626" stroke-width="0.9"/>
<text font-size="7.2" text-anchor="end" stroke="#262626" stroke-width="0.12" transform="translate(106.40 211.62) scale(1.100 1)">0</text>
<line x1="109.60" y1="197.10" x2="112.40" y2="197.10" stroke="#262626" stroke-width="0.9"/>
<text font-size="7.2" text-anchor="end" stroke="#262626" stroke-width="0.12" transform="translate(106.40 200.12) scale(1.100 1)">20</text>
<line x1="109.60" y1="185.60" x2="112.40" y2="185.60" stroke="#262626" stroke-width="0.9"/>
<text font-size="7.2" text-anchor="end" stroke="#262626" stroke-width="0.12" transform="translate(106.40 188.62) scale(1.100 1)">40</text>
<line x1="109.60" y1="174.10" x2="112.40" y2="174.10" stroke="#262626" stroke-width="0.9"/>
<text font-size="7.2" text-anchor="end" stroke="#262626" stroke-width="0.12" transform="translate(106.40 177.12) scale(1.100 1)">60</text>
<line x1="109.60" y1="162.60" x2="112.40" y2="162.60" stroke="#262626" stroke-width="0.9"/>
<text font-size="7.2" text-anchor="end" stroke="#262626" stroke-width="0.12" transform="translate(106.40 165.62) scale(1.100 1)">80</text>
<line x1="109.60" y1="151.10" x2="112.40" y2="151.10" stroke="#262626" stroke-width="0.9"/>
<text font-size="7.2" text-anchor="end" stroke="#262626" stroke-width="0.12" transform="translate(106.40 154.12) scale(1.100 1)">100</text>
<line x1="112.40" y1="208.60" x2="157.20" y2="208.60" stroke="#262626" stroke-width="0.9"/>
<line x1="118.55" y1="208.60" x2="118.55" y2="210.80" stroke="#262626" stroke-width="0.8"/>
<line x1="129.35" y1="208.60" x2="129.35" y2="210.80" stroke="#262626" stroke-width="0.8"/>
<line x1="140.15" y1="208.60" x2="140.15" y2="210.80" stroke="#262626" stroke-width="0.8"/>
<line x1="151.05" y1="208.60" x2="151.05" y2="210.80" stroke="#262626" stroke-width="0.8"/>
<text font-size="8.8" text-anchor="middle" stroke="#262626" stroke-width="0.12" x="134.00" y="147.00">72h</text>
<text font-size="7.8" text-anchor="end" stroke="#262626" stroke-width="0.12" transform="translate(120.85 217.60) rotate(-45)">Control</text>
<text font-size="7.8" text-anchor="end" stroke="#262626" stroke-width="0.12" transform="translate(131.65 217.60) rotate(-45)">Pev</text>
<text font-size="7.8" text-anchor="end" stroke="#262626" stroke-width="0.12" transform="translate(142.45 217.60) rotate(-45)">Rux</text>
<text font-size="7.8" text-anchor="end" stroke="#262626" stroke-width="0.12" transform="translate(153.35 217.60) rotate(-45)">Rux + Pev</text>
<rect x="180.80" y="174.68" width="8.70" height="33.92" fill="#0f4c82"/>
<rect x="180.80" y="166.05" width="8.70" height="8.62" fill="#3bb54a"/>
<rect x="180.80" y="151.10" width="8.70" height="14.95" fill="#cd1e3c"/>
<rect x="191.60" y="182.72" width="8.70" height="25.87" fill="#0f4c82"/>
<rect x="191.60" y="163.75" width="8.70" height="18.97" fill="#3bb54a"/>
<rect x="191.60" y="151.10" width="8.70" height="12.65" fill="#cd1e3c"/>
<rect x="202.40" y="168.93" width="8.70" height="39.67" fill="#0f4c82"/>
<rect x="202.40" y="162.60" width="8.70" height="6.32" fill="#3bb54a"/>
<rect x="202.40" y="151.10" width="8.70" height="11.50" fill="#cd1e3c"/>
<rect x="213.30" y="175.25" width="8.70" height="33.35" fill="#0f4c82"/>
<rect x="213.30" y="163.18" width="8.70" height="12.07" fill="#3bb54a"/>
<rect x="213.30" y="151.10" width="8.70" height="12.07" fill="#cd1e3c"/>
<line x1="179.00" y1="150.70" x2="179.00" y2="208.60" stroke="#262626" stroke-width="0.9"/>
<line x1="176.20" y1="208.60" x2="179.00" y2="208.60" stroke="#262626" stroke-width="0.9"/>
<text font-size="7.2" text-anchor="end" stroke="#262626" stroke-width="0.12" transform="translate(173.00 211.62) scale(1.100 1)">0</text>
<line x1="176.20" y1="197.10" x2="179.00" y2="197.10" stroke="#262626" stroke-width="0.9"/>
<text font-size="7.2" text-anchor="end" stroke="#262626" stroke-width="0.12" transform="translate(173.00 200.12) scale(1.100 1)">20</text>
<line x1="176.20" y1="185.60" x2="179.00" y2="185.60" stroke="#262626" stroke-width="0.9"/>
<text font-size="7.2" text-anchor="end" stroke="#262626" stroke-width="0.12" transform="translate(173.00 188.62) scale(1.100 1)">40</text>
<line x1="176.20" y1="174.10" x2="179.00" y2="174.10" stroke="#262626" stroke-width="0.9"/>
<text font-size="7.2" text-anchor="end" stroke="#262626" stroke-width="0.12" transform="translate(173.00 177.12) scale(1.100 1)">60</text>
<line x1="176.20" y1="162.60" x2="179.00" y2="162.60" stroke="#262626" stroke-width="0.9"/>
<text font-size="7.2" text-anchor="end" stroke="#262626" stroke-width="0.12" transform="translate(173.00 165.62) scale(1.100 1)">80</text>
<line x1="176.20" y1="151.10" x2="179.00" y2="151.10" stroke="#262626" stroke-width="0.9"/>
<text font-size="7.2" text-anchor="end" stroke="#262626" stroke-width="0.12" transform="translate(173.00 154.12) scale(1.100 1)">100</text>
<line x1="179.00" y1="208.60" x2="223.80" y2="208.60" stroke="#262626" stroke-width="0.9"/>
<line x1="185.15" y1="208.60" x2="185.15" y2="210.80" stroke="#262626" stroke-width="0.8"/>
<line x1="195.95" y1="208.60" x2="195.95" y2="210.80" stroke="#262626" stroke-width="0.8"/>
<line x1="206.75" y1="208.60" x2="206.75" y2="210.80" stroke="#262626" stroke-width="0.8"/>
<line x1="217.65" y1="208.60" x2="217.65" y2="210.80" stroke="#262626" stroke-width="0.8"/>
<text font-size="8.8" text-anchor="middle" stroke="#262626" stroke-width="0.12" x="201.10" y="147.00">96h</text>
<text font-size="7.8" text-anchor="end" stroke="#262626" stroke-width="0.12" transform="translate(187.45 217.60) rotate(-45)">Control</text>
<text font-size="7.8" text-anchor="end" stroke="#262626" stroke-width="0.12" transform="translate(198.25 217.60) rotate(-45)">Pev</text>
<text font-size="7.8" text-anchor="end" stroke="#262626" stroke-width="0.12" transform="translate(209.05 217.60) rotate(-45)">Rux</text>
<text font-size="7.8" text-anchor="end" stroke="#262626" stroke-width="0.12" transform="translate(219.95 217.60) rotate(-45)">Rux + Pev</text>
<text font-size="8.1" text-anchor="middle" stroke="#262626" stroke-width="0.26" transform="translate(23.60 179.50) rotate(-90) scale(0.788 1)">Phase (%)</text>
<line x1="229.3" y1="141.80" x2="233.4" y2="141.80" stroke="#cd1e3c" stroke-width="2.8" stroke-linecap="round"/>
<text font-size="7.5" stroke="#262626" stroke-width="0.12" x="238.60" y="144.50">G2/M</text>
<line x1="229.3" y1="148.65" x2="233.4" y2="148.65" stroke="#3bb54a" stroke-width="2.8" stroke-linecap="round"/>
<text font-size="7.5" stroke="#262626" stroke-width="0.12" x="238.60" y="151.35">S</text>
<line x1="229.3" y1="155.50" x2="233.4" y2="155.50" stroke="#0f4c82" stroke-width="2.8" stroke-linecap="round"/>
<text font-size="7.5" stroke="#262626" stroke-width="0.12" x="238.60" y="158.20">G1</text>
<line x1="229.3" y1="162.35" x2="233.4" y2="162.35" stroke="#4a1f6e" stroke-width="2.8" stroke-linecap="round"/>
<text font-size="7.5" stroke="#262626" stroke-width="0.12" x="238.60" y="165.05">Sub-G1</text>
<text font-size="11.6" font-weight="bold" fill="#000" stroke="#000" stroke-width="0.15" x="269.80" y="142.80">E</text>
<rect x="301.30" y="166.31" width="8.60" height="42.99" fill="#3bb54a"/>
<rect x="301.30" y="158.75" width="8.60" height="7.55" fill="#0f4c82"/>
<rect x="301.30" y="151.20" width="8.60" height="7.55" fill="#cd1e3c"/>
<rect x="312.00" y="186.06" width="8.60" height="23.24" fill="#3bb54a"/>
<rect x="312.00" y="166.31" width="8.60" height="19.75" fill="#0f4c82"/>
<rect x="312.00" y="151.20" width="8.60" height="15.11" fill="#cd1e3c"/>
<rect x="322.60" y="170.37" width="8.60" height="38.93" fill="#3bb54a"/>
<rect x="322.60" y="159.91" width="8.60" height="10.46" fill="#0f4c82"/>
<rect x="322.60" y="151.20" width="8.60" height="8.72" fill="#cd1e3c"/>
<rect x="333.20" y="179.09" width="8.60" height="30.21" fill="#3bb54a"/>
<rect x="333.20" y="163.40" width="8.60" height="15.69" fill="#0f4c82"/>
<rect x="333.20" y="151.20" width="8.60" height="12.20" fill="#cd1e3c"/>
<line x1="299.80" y1="150.80" x2="299.80" y2="209.30" stroke="#262626" stroke-width="0.9"/>
<line x1="297.00" y1="209.30" x2="299.80" y2="209.30" stroke="#262626" stroke-width="0.9"/>
<text font-size="7.2" text-anchor="end" stroke="#262626" stroke-width="0.12" transform="translate(293.80 212.32) scale(1.100 1)">0</text>
<line x1="297.00" y1="197.68" x2="299.80" y2="197.68" stroke="#262626" stroke-width="0.9"/>
<text font-size="7.2" text-anchor="end" stroke="#262626" stroke-width="0.12" transform="translate(293.80 200.70) scale(1.100 1)">20</text>
<line x1="297.00" y1="186.06" x2="299.80" y2="186.06" stroke="#262626" stroke-width="0.9"/>
<text font-size="7.2" text-anchor="end" stroke="#262626" stroke-width="0.12" transform="translate(293.80 189.08) scale(1.100 1)">40</text>
<line x1="297.00" y1="174.44" x2="299.80" y2="174.44" stroke="#262626" stroke-width="0.9"/>
<text font-size="7.2" text-anchor="end" stroke="#262626" stroke-width="0.12" transform="translate(293.80 177.46) scale(1.100 1)">60</text>
<line x1="297.00" y1="162.82" x2="299.80" y2="162.82" stroke="#262626" stroke-width="0.9"/>
<text font-size="7.2" text-anchor="end" stroke="#262626" stroke-width="0.12" transform="translate(293.80 165.84) scale(1.100 1)">80</text>
<line x1="297.00" y1="151.20" x2="299.80" y2="151.20" stroke="#262626" stroke-width="0.9"/>
<text font-size="7.2" text-anchor="end" stroke="#262626" stroke-width="0.12" transform="translate(293.80 154.22) scale(1.100 1)">100</text>
<line x1="299.80" y1="209.30" x2="343.60" y2="209.30" stroke="#262626" stroke-width="0.9"/>
<line x1="305.60" y1="209.30" x2="305.60" y2="211.50" stroke="#262626" stroke-width="0.8"/>
<line x1="316.30" y1="209.30" x2="316.30" y2="211.50" stroke="#262626" stroke-width="0.8"/>
<line x1="326.90" y1="209.30" x2="326.90" y2="211.50" stroke="#262626" stroke-width="0.8"/>
<line x1="337.50" y1="209.30" x2="337.50" y2="211.50" stroke="#262626" stroke-width="0.8"/>
<text font-size="8.8" text-anchor="middle" stroke="#262626" stroke-width="0.12" x="320.30" y="147.00">48h</text>
<text font-size="7.8" text-anchor="end" stroke="#262626" stroke-width="0.12" transform="translate(307.90 218.30) rotate(-45)">Control</text>
<text font-size="7.8" text-anchor="end" stroke="#262626" stroke-width="0.12" transform="translate(318.60 218.30) rotate(-45)">Pev</text>
<text font-size="7.8" text-anchor="end" stroke="#262626" stroke-width="0.12" transform="translate(329.20 218.30) rotate(-45)">Rux</text>
<text font-size="7.8" text-anchor="end" stroke="#262626" stroke-width="0.12" transform="translate(339.80 218.30) rotate(-45)">Rux + Pev</text>
<rect x="367.50" y="163.98" width="8.60" height="45.32" fill="#3bb54a"/>
<rect x="367.50" y="157.01" width="8.60" height="6.97" fill="#0f4c82"/>
<rect x="367.50" y="151.20" width="8.60" height="5.81" fill="#cd1e3c"/>
<rect x="378.20" y="182.57" width="8.60" height="26.73" fill="#3bb54a"/>
<rect x="378.20" y="165.14" width="8.60" height="17.43" fill="#0f4c82"/>
<rect x="378.20" y="151.20" width="8.60" height="13.94" fill="#cd1e3c"/>
<rect x="388.80" y="168.05" width="8.60" height="41.25" fill="#3bb54a"/>
<rect x="388.80" y="158.75" width="8.60" height="9.30" fill="#0f4c82"/>
<rect x="388.80" y="151.20" width="8.60" height="7.55" fill="#cd1e3c"/>
<rect x="399.40" y="179.09" width="8.60" height="30.21" fill="#3bb54a"/>
<rect x="399.40" y="162.82" width="8.60" height="16.27" fill="#0f4c82"/>
<rect x="399.40" y="151.20" width="8.60" height="11.62" fill="#cd1e3c"/>
<line x1="366.00" y1="150.80" x2="366.00" y2="209.30" stroke="#262626" stroke-width="0.9"/>
<line x1="363.20" y1="209.30" x2="366.00" y2="209.30" stroke="#262626" stroke-width="0.9"/>
<text font-size="7.2" text-anchor="end" stroke="#262626" stroke-width="0.12" transform="translate(360.00 212.32) scale(1.100 1)">0</text>
<line x1="363.20" y1="197.68" x2="366.00" y2="197.68" stroke="#262626" stroke-width="0.9"/>
<text font-size="7.2" text-anchor="end" stroke="#262626" stroke-width="0.12" transform="translate(360.00 200.70) scale(1.100 1)">20</text>
<line x1="363.20" y1="186.06" x2="366.00" y2="186.06" stroke="#262626" stroke-width="0.9"/>
<text font-size="7.2" text-anchor="end" stroke="#262626" stroke-width="0.12" transform="translate(360.00 189.08) scale(1.100 1)">40</text>
<line x1="363.20" y1="174.44" x2="366.00" y2="174.44" stroke="#262626" stroke-width="0.9"/>
<text font-size="7.2" text-anchor="end" stroke="#262626" stroke-width="0.12" transform="translate(360.00 177.46) scale(1.100 1)">60</text>
<line x1="363.20" y1="162.82" x2="366.00" y2="162.82" stroke="#262626" stroke-width="0.9"/>
<text font-size="7.2" text-anchor="end" stroke="#262626" stroke-width="0.12" transform="translate(360.00 165.84) scale(1.100 1)">80</text>
<line x1="363.20" y1="151.20" x2="366.00" y2="151.20" stroke="#262626" stroke-width="0.9"/>
<text font-size="7.2" text-anchor="end" stroke="#262626" stroke-width="0.12" transform="translate(360.00 154.22) scale(1.100 1)">100</text>
<line x1="366.00" y1="209.30" x2="409.80" y2="209.30" stroke="#262626" stroke-width="0.9"/>
<line x1="371.80" y1="209.30" x2="371.80" y2="211.50" stroke="#262626" stroke-width="0.8"/>
<line x1="382.50" y1="209.30" x2="382.50" y2="211.50" stroke="#262626" stroke-width="0.8"/>
<line x1="393.10" y1="209.30" x2="393.10" y2="211.50" stroke="#262626" stroke-width="0.8"/>
<line x1="403.70" y1="209.30" x2="403.70" y2="211.50" stroke="#262626" stroke-width="0.8"/>
<text font-size="8.8" text-anchor="middle" stroke="#262626" stroke-width="0.12" x="385.00" y="147.00">72h</text>
<text font-size="7.8" text-anchor="end" stroke="#262626" stroke-width="0.12" transform="translate(374.10 218.30) rotate(-45)">Control</text>
<text font-size="7.8" text-anchor="end" stroke="#262626" stroke-width="0.12" transform="translate(384.80 218.30) rotate(-45)">Pev</text>
<text font-size="7.8" text-anchor="end" stroke="#262626" stroke-width="0.12" transform="translate(395.40 218.30) rotate(-45)">Rux</text>
<text font-size="7.8" text-anchor="end" stroke="#262626" stroke-width="0.12" transform="translate(406.00 218.30) rotate(-45)">Rux + Pev</text>
<rect x="432.70" y="160.50" width="8.60" height="48.80" fill="#3bb54a"/>
<rect x="432.70" y="155.85" width="8.60" height="4.65" fill="#0f4c82"/>
<rect x="432.70" y="151.20" width="8.60" height="4.65" fill="#cd1e3c"/>
<rect x="443.40" y="183.74" width="8.60" height="25.56" fill="#3bb54a"/>
<rect x="443.40" y="171.53" width="8.60" height="12.20" fill="#0f4c82"/>
<rect x="443.40" y="151.20" width="8.60" height="20.34" fill="#cd1e3c"/>
<rect x="454.00" y="165.72" width="8.60" height="43.58" fill="#3bb54a"/>
<rect x="454.00" y="158.17" width="8.60" height="7.55" fill="#0f4c82"/>
<rect x="454.00" y="151.20" width="8.60" height="6.97" fill="#cd1e3c"/>
<rect x="464.60" y="183.16" width="8.60" height="26.15" fill="#3bb54a"/>
<rect x="464.60" y="169.21" width="8.60" height="13.94" fill="#0f4c82"/>
<rect x="464.60" y="151.20" width="8.60" height="18.01" fill="#cd1e3c"/>
<line x1="431.20" y1="150.80" x2="431.20" y2="209.30" stroke="#262626" stroke-width="0.9"/>
<line x1="428.40" y1="209.30" x2="431.20" y2="209.30" stroke="#262626" stroke-width="0.9"/>
<text font-size="7.2" text-anchor="end" stroke="#262626" stroke-width="0.12" transform="translate(425.20 212.32) scale(1.100 1)">0</text>
<line x1="428.40" y1="197.68" x2="431.20" y2="197.68" stroke="#262626" stroke-width="0.9"/>
<text font-size="7.2" text-anchor="end" stroke="#262626" stroke-width="0.12" transform="translate(425.20 200.70) scale(1.100 1)">20</text>
<line x1="428.40" y1="186.06" x2="431.20" y2="186.06" stroke="#262626" stroke-width="0.9"/>
<text font-size="7.2" text-anchor="end" stroke="#262626" stroke-width="0.12" transform="translate(425.20 189.08) scale(1.100 1)">40</text>
<line x1="428.40" y1="174.44" x2="431.20" y2="174.44" stroke="#262626" stroke-width="0.9"/>
<text font-size="7.2" text-anchor="end" stroke="#262626" stroke-width="0.12" transform="translate(425.20 177.46) scale(1.100 1)">60</text>
<line x1="428.40" y1="162.82" x2="431.20" y2="162.82" stroke="#262626" stroke-width="0.9"/>
<text font-size="7.2" text-anchor="end" stroke="#262626" stroke-width="0.12" transform="translate(425.20 165.84) scale(1.100 1)">80</text>
<line x1="428.40" y1="151.20" x2="431.20" y2="151.20" stroke="#262626" stroke-width="0.9"/>
<text font-size="7.2" text-anchor="end" stroke="#262626" stroke-width="0.12" transform="translate(425.20 154.22) scale(1.100 1)">100</text>
<line x1="431.20" y1="209.30" x2="475.00" y2="209.30" stroke="#262626" stroke-width="0.9"/>
<line x1="437.00" y1="209.30" x2="437.00" y2="211.50" stroke="#262626" stroke-width="0.8"/>
<line x1="447.70" y1="209.30" x2="447.70" y2="211.50" stroke="#262626" stroke-width="0.8"/>
<line x1="458.30" y1="209.30" x2="458.30" y2="211.50" stroke="#262626" stroke-width="0.8"/>
<line x1="468.90" y1="209.30" x2="468.90" y2="211.50" stroke="#262626" stroke-width="0.8"/>
<text font-size="8.8" text-anchor="middle" stroke="#262626" stroke-width="0.12" x="450.60" y="147.00">96h</text>
<text font-size="7.8" text-anchor="end" stroke="#262626" stroke-width="0.12" transform="translate(439.30 218.30) rotate(-45)">Control</text>
<text font-size="7.8" text-anchor="end" stroke="#262626" stroke-width="0.12" transform="translate(450.00 218.30) rotate(-45)">Pev</text>
<text font-size="7.8" text-anchor="end" stroke="#262626" stroke-width="0.12" transform="translate(460.60 218.30) rotate(-45)">Rux</text>
<text font-size="7.8" text-anchor="end" stroke="#262626" stroke-width="0.12" transform="translate(471.20 218.30) rotate(-45)">Rux + Pev</text>
<text font-size="8.1" text-anchor="middle" stroke="#262626" stroke-width="0.26" transform="translate(277.60 179.00) rotate(-90) scale(0.766 1)">Annexin-V/7-AAD (%)</text>
<rect x="421.10" y="115.30" width="6.50" height="2.40" fill="#cd1e3c"/>
<text font-size="7" stroke="#262626" stroke-width="0.12" x="431.20" y="119.00">AnnV(+)/7-AAD(+)</text>
<rect x="421.10" y="123.80" width="6.50" height="2.40" fill="#0f4c82"/>
<text font-size="7" stroke="#262626" stroke-width="0.12" x="431.20" y="127.50">AnnV(+)/7-AAD(−)</text>
<rect x="421.10" y="132.10" width="6.50" height="2.40" fill="#3bb54a"/>
<text font-size="7" stroke="#262626" stroke-width="0.12" x="431.20" y="135.80">AnnV(−)/7-AAD(−)</text>
<text font-size="11.6" font-weight="bold" fill="#000" stroke="#000" stroke-width="0.15" x="7.60" y="260.40">F</text>
<rect x="61.6" y="258.5" width="44.40" height="98.90" fill="none" stroke="#444" stroke-width="0.8"/>
<path d="M62.60,287.50 L62.60,287.50 L62.85,287.50 L63.10,287.50 L63.35,287.50 L63.60,287.50 L63.85,287.50 L64.10,287.50 L64.35,287.50 L64.60,287.50 L64.85,287.50 L65.10,287.50 L65.35,287.50 L65.60,287.50 L65.85,287.50 L66.10,287.50 L66.35,287.50 L66.60,287.50 L66.85,287.50 L67.10,287.50 L67.35,287.50 L67.60,287.50 L67.85,287.50 L68.10,287.50 L68.35,287.50 L68.60,287.50 L68.85,287.50 L69.10,287.50 L69.35,287.50 L69.60,287.50 L69.85,287.50 L70.10,287.49 L70.35,287.48 L70.60,287.47 L70.85,287.44 L71.10,287.40 L71.35,287.34 L71.60,287.26 L71.85,287.14 L72.10,286.99 L72.35,286.81 L72.60,286.60 L72.85,286.38 L73.10,286.16 L73.35,285.96 L73.60,285.82 L73.85,285.74 L74.10,285.73 L74.35,285.80 L74.60,285.93 L74.85,286.12 L75.10,286.33 L75.35,286.56 L75.60,286.77 L75.85,286.96 L76.10,287.12 L76.35,287.24 L76.60,287.33 L76.85,287.39 L77.10,287.44 L77.35,287.46 L77.60,287.48 L77.85,287.49 L78.10,287.49 L78.35,287.49 L78.60,287.49 L78.85,287.49 L79.10,287.48 L79.35,287.46 L79.60,287.44 L79.85,287.40 L80.10,287.34 L80.35,287.25 L80.60,287.12 L80.85,286.94 L81.10,286.68 L81.35,286.31 L81.60,285.82 L81.85,285.16 L82.10,284.30 L82.35,283.22 L82.60,281.87 L82.85,280.24 L83.10,278.34 L83.35,276.17 L83.60,273.79 L83.85,271.27 L84.10,268.74 L84.35,266.35 L84.60,264.29 L84.85,262.77 L85.10,262.10 L85.35,262.77 L85.60,264.29 L85.85,266.35 L86.10,268.74 L86.35,271.27 L86.60,273.79 L86.85,276.17 L87.10,278.34 L87.35,280.24 L87.60,281.87 L87.85,283.22 L88.10,284.30 L88.35,285.16 L88.60,285.82 L88.85,286.31 L89.10,286.68 L89.35,286.94 L89.60,287.12 L89.85,287.25 L90.10,287.34 L90.35,287.40 L90.60,287.44 L90.85,287.46 L91.10,287.48 L91.35,287.49 L91.60,287.49 L91.85,287.50 L92.10,287.50 L92.35,287.50 L92.60,287.50 L92.85,287.50 L93.10,287.50 L93.35,287.50 L93.60,287.50 L93.85,287.50 L94.10,287.50 L94.35,287.50 L94.60,287.50 L94.85,287.50 L95.10,287.50 L95.35,287.50 L95.60,287.50 L95.85,287.50 L96.10,287.50 L96.35,287.50 L96.60,287.50 L96.85,287.50 L97.10,287.50 L97.35,287.50 L97.60,287.50 L97.85,287.50 L98.10,287.50 L98.35,287.50 L98.60,287.50 L98.85,287.50 L99.10,287.50 L99.35,287.50 L99.60,287.50 L99.85,287.50 L100.10,287.50 L100.35,287.50 L100.60,287.50 L100.85,287.50 L101.10,287.50 L101.35,287.50 L101.60,287.50 L101.85,287.50 L102.10,287.50 L102.35,287.50 L102.60,287.50 L102.85,287.50 L103.10,287.50 L103.35,287.50 L103.60,287.50 L103.85,287.50 L104.10,287.50 L104.35,287.50 L104.60,287.50 L104.85,287.50 L105.00,287.50 Z" fill="#cd1e3c" stroke="#222" stroke-width="0.45" stroke-linejoin="round"/>
<line x1="61.60" y1="287.50" x2="106.00" y2="287.50" stroke="#444" stroke-width="0.8"/>
<path d="M62.60,304.50 L62.60,304.50 L62.85,304.50 L63.10,304.50 L63.35,304.50 L63.60,304.50 L63.85,304.50 L64.10,304.50 L64.35,304.50 L64.60,304.50 L64.85,304.50 L65.10,304.50 L65.35,304.50 L65.60,304.50 L65.85,304.50 L66.10,304.50 L66.35,304.50 L66.60,304.50 L66.85,304.50 L67.10,304.50 L67.35,304.50 L67.60,304.50 L67.85,304.50 L68.10,304.50 L68.35,304.50 L68.60,304.50 L68.85,304.50 L69.10,304.50 L69.35,304.50 L69.60,304.50 L69.85,304.50 L70.10,304.50 L70.35,304.50 L70.60,304.50 L70.85,304.50 L71.10,304.49 L71.35,304.49 L71.60,304.49 L71.85,304.48 L72.10,304.48 L72.35,304.47 L72.60,304.46 L72.85,304.44 L73.10,304.42 L73.35,304.39 L73.60,304.35 L73.85,304.30 L74.10,304.23 L74.35,304.14 L74.60,304.03 L74.85,303.89 L75.10,303.72 L75.35,303.50 L75.60,303.23 L75.85,302.90 L76.10,302.51 L76.35,302.03 L76.60,301.47 L76.85,300.81 L77.10,300.04 L77.35,299.16 L77.60,298.16 L77.85,297.04 L78.10,295.81 L78.35,294.46 L78.60,293.01 L78.85,291.49 L79.10,289.90 L79.35,288.30 L79.60,286.70 L79.85,285.17 L80.10,283.74 L80.35,282.48 L80.60,281.44 L80.85,280.72 L81.10,280.40 L81.35,280.72 L81.60,281.44 L81.85,282.48 L82.10,283.74 L82.35,285.17 L82.60,286.70 L82.85,288.30 L83.10,289.90 L83.35,291.49 L83.60,293.01 L83.85,294.46 L84.10,295.81 L84.35,297.04 L84.60,298.16 L84.85,299.16 L85.10,300.04 L85.35,300.81 L85.60,301.47 L85.85,302.03 L86.10,302.51 L86.35,302.90 L86.60,303.23 L86.85,303.50 L87.10,303.72 L87.35,303.89 L87.60,304.03 L87.85,304.14 L88.10,304.23 L88.35,304.30 L88.60,304.35 L88.85,304.39 L89.10,304.42 L89.35,304.44 L89.60,304.46 L89.85,304.47 L90.10,304.48 L90.35,304.48 L90.60,304.49 L90.85,304.49 L91.10,304.49 L91.35,304.50 L91.60,304.50 L91.85,304.50 L92.10,304.50 L92.35,304.50 L92.60,304.50 L92.85,304.50 L93.10,304.50 L93.35,304.50 L93.60,304.50 L93.85,304.50 L94.10,304.50 L94.35,304.50 L94.60,304.50 L94.85,304.50 L95.10,304.50 L95.35,304.50 L95.60,304.50 L95.85,304.50 L96.10,304.50 L96.35,304.50 L96.60,304.50 L96.85,304.50 L97.10,304.50 L97.35,304.50 L97.60,304.50 L97.85,304.50 L98.10,304.50 L98.35,304.50 L98.60,304.50 L98.85,304.50 L99.10,304.50 L99.35,304.50 L99.60,304.50 L99.85,304.50 L100.10,304.50 L100.35,304.50 L100.60,304.50 L100.85,304.50 L101.10,304.50 L101.35,304.50 L101.60,304.50 L101.85,304.50 L102.10,304.50 L102.35,304.50 L102.60,304.50 L102.85,304.50 L103.10,304.50 L103.35,304.50 L103.60,304.50 L103.85,304.50 L104.10,304.50 L104.35,304.50 L104.60,304.50 L104.85,304.50 L105.00,304.50 Z" fill="#0f4c82" stroke="#222" stroke-width="0.45" stroke-linejoin="round"/>
<line x1="61.60" y1="304.50" x2="106.00" y2="304.50" stroke="#444" stroke-width="0.8"/>
<path d="M62.60,322.50 L62.60,322.50 L62.85,322.50 L63.10,322.50 L63.35,322.50 L63.60,322.50 L63.85,322.50 L64.10,322.50 L64.35,322.50 L64.60,322.50 L64.85,322.50 L65.10,322.50 L65.35,322.50 L65.60,322.50 L65.85,322.50 L66.10,322.50 L66.35,322.50 L66.60,322.50 L66.85,322.50 L67.10,322.50 L67.35,322.50 L67.60,322.50 L67.85,322.50 L68.10,322.50 L68.35,322.50 L68.60,322.50 L68.85,322.50 L69.10,322.50 L69.35,322.49 L69.60,322.49 L69.85,322.49 L70.10,322.48 L70.35,322.48 L70.60,322.47 L70.85,322.45 L71.10,322.43 L71.35,322.40 L71.60,322.36 L71.85,322.31 L72.10,322.23 L72.35,322.13 L72.60,321.99 L72.85,321.83 L73.10,321.62 L73.35,321.38 L73.60,321.10 L73.85,320.78 L74.10,320.44 L74.35,320.08 L74.60,319.70 L74.85,319.33 L75.10,318.95 L75.35,318.59 L75.60,318.24 L75.85,317.90 L76.10,317.55 L76.35,317.19 L76.60,316.80 L76.85,316.35 L77.10,315.85 L77.35,315.26 L77.60,314.59 L77.85,313.82 L78.10,312.97 L78.35,312.03 L78.60,311.01 L78.85,309.93 L79.10,308.81 L79.35,307.66 L79.60,306.51 L79.85,305.39 L80.10,304.33 L80.35,303.35 L80.60,302.50 L80.85,301.79 L81.10,301.28 L81.35,301.01 L81.60,301.14 L81.85,301.56 L82.10,302.20 L82.35,303.00 L82.60,303.94 L82.85,304.99 L83.10,306.10 L83.35,307.27 L83.60,308.45 L83.85,309.64 L84.10,310.80 L84.35,311.94 L84.60,313.03 L84.85,314.06 L85.10,315.03 L85.35,315.93 L85.60,316.75 L85.85,317.51 L86.10,318.19 L86.35,318.80 L86.60,319.34 L86.85,319.82 L87.10,320.24 L87.35,320.60 L87.60,320.92 L87.85,321.19 L88.10,321.42 L88.35,321.61 L88.60,321.77 L88.85,321.91 L89.10,322.02 L89.35,322.12 L89.60,322.19 L89.85,322.26 L90.10,322.31 L90.35,322.35 L90.60,322.38 L90.85,322.41 L91.10,322.43 L91.35,322.44 L91.60,322.46 L91.85,322.47 L92.10,322.48 L92.35,322.48 L92.60,322.49 L92.85,322.49 L93.10,322.49 L93.35,322.49 L93.60,322.50 L93.85,322.50 L94.10,322.50 L94.35,322.50 L94.60,322.50 L94.85,322.50 L95.10,322.50 L95.35,322.50 L95.60,322.50 L95.85,322.50 L96.10,322.50 L96.35,322.50 L96.60,322.50 L96.85,322.50 L97.10,322.50 L97.35,322.50 L97.60,322.50 L97.85,322.50 L98.10,322.50 L98.35,322.50 L98.60,322.50 L98.85,322.50 L99.10,322.50 L99.35,322.50 L99.60,322.50 L99.85,322.50 L100.10,322.50 L100.35,322.50 L100.60,322.50 L100.85,322.50 L101.10,322.50 L101.35,322.50 L101.60,322.50 L101.85,322.50 L102.10,322.50 L102.35,322.50 L102.60,322.50 L102.85,322.50 L103.10,322.50 L103.35,322.50 L103.60,322.50 L103.85,322.50 L104.10,322.50 L104.35,322.50 L104.60,322.50 L104.85,322.50 L105.00,322.50 Z" fill="#3bb54a" stroke="#222" stroke-width="0.45" stroke-linejoin="round"/>
<line x1="61.60" y1="322.50" x2="106.00" y2="322.50" stroke="#444" stroke-width="0.8"/>
<path d="M62.60,340.20 L62.60,340.20 L62.85,340.20 L63.10,340.20 L63.35,340.20 L63.60,340.20 L63.85,340.20 L64.10,340.20 L64.35,340.20 L64.60,340.20 L64.85,340.20 L65.10,340.20 L65.35,340.20 L65.60,340.20 L65.85,340.20 L66.10,340.20 L66.35,340.20 L66.60,340.20 L66.85,340.20 L67.10,340.20 L67.35,340.20 L67.60,340.20 L67.85,340.20 L68.10,340.20 L68.35,340.20 L68.60,340.20 L68.85,340.20 L69.10,340.20 L69.35,340.20 L69.60,340.20 L69.85,340.20 L70.10,340.20 L70.35,340.20 L70.60,340.20 L70.85,340.20 L71.10,340.20 L71.35,340.20 L71.60,340.20 L71.85,340.20 L72.10,340.20 L72.35,340.20 L72.60,340.20 L72.85,340.19 L73.10,340.19 L73.35,340.18 L73.60,340.16 L73.85,340.13 L74.10,340.10 L74.35,340.05 L74.60,339.98 L74.85,339.90 L75.10,339.81 L75.35,339.71 L75.60,339.61 L75.85,339.51 L76.10,339.43 L76.35,339.37 L76.60,339.32 L76.85,339.30 L77.10,339.29 L77.35,339.28 L77.60,339.25 L77.85,339.21 L78.10,339.12 L78.35,338.98 L78.60,338.77 L78.85,338.49 L79.10,338.13 L79.35,337.68 L79.60,337.13 L79.85,336.48 L80.10,335.71 L80.35,334.83 L80.60,333.83 L80.85,332.71 L81.10,331.47 L81.35,330.12 L81.60,328.67 L81.85,327.13 L82.10,325.54 L82.35,323.93 L82.60,322.33 L82.85,320.79 L83.10,319.35 L83.35,318.09 L83.60,317.05 L83.85,316.32 L84.10,316.00 L84.35,316.32 L84.60,317.05 L84.85,318.09 L85.10,319.35 L85.35,320.79 L85.60,322.33 L85.85,323.93 L86.10,325.54 L86.35,327.13 L86.60,328.67 L86.85,330.12 L87.10,331.47 L87.35,332.71 L87.60,333.83 L87.85,334.84 L88.10,335.72 L88.35,336.49 L88.60,337.16 L88.85,337.72 L89.10,338.20 L89.35,338.60 L89.60,338.93 L89.85,339.20 L90.10,339.42 L90.35,339.59 L90.60,339.73 L90.85,339.84 L91.10,339.93 L91.35,340.00 L91.60,340.05 L91.85,340.09 L92.10,340.12 L92.35,340.14 L92.60,340.16 L92.85,340.17 L93.10,340.18 L93.35,340.18 L93.60,340.19 L93.85,340.19 L94.10,340.19 L94.35,340.20 L94.60,340.20 L94.85,340.20 L95.10,340.20 L95.35,340.20 L95.60,340.20 L95.85,340.20 L96.10,340.20 L96.35,340.20 L96.60,340.20 L96.85,340.20 L97.10,340.20 L97.35,340.20 L97.60,340.20 L97.85,340.20 L98.10,340.20 L98.35,340.20 L98.60,340.20 L98.85,340.20 L99.10,340.20 L99.35,340.20 L99.60,340.20 L99.85,340.20 L100.10,340.20 L100.35,340.20 L100.60,340.20 L100.85,340.20 L101.10,340.20 L101.35,340.20 L101.60,340.20 L101.85,340.20 L102.10,340.20 L102.35,340.20 L102.60,340.20 L102.85,340.20 L103.10,340.20 L103.35,340.20 L103.60,340.20 L103.85,340.20 L104.10,340.20 L104.35,340.20 L104.60,340.20 L104.85,340.20 L105.00,340.20 Z" fill="#4a1f6e" stroke="#222" stroke-width="0.45" stroke-linejoin="round"/>
<line x1="61.60" y1="340.20" x2="106.00" y2="340.20" stroke="#444" stroke-width="0.8"/>
<path d="M62.60,357.40 L62.60,357.40 L62.85,357.40 L63.10,357.40 L63.35,357.40 L63.60,357.40 L63.85,357.40 L64.10,357.40 L64.35,357.40 L64.60,357.40 L64.85,357.40 L65.10,357.40 L65.35,357.40 L65.60,357.40 L65.85,357.40 L66.10,357.40 L66.35,357.40 L66.60,357.40 L66.85,357.40 L67.10,357.40 L67.35,357.40 L67.60,357.40 L67.85,357.40 L68.10,357.40 L68.35,357.40 L68.60,357.40 L68.85,357.40 L69.10,357.40 L69.35,357.40 L69.60,357.40 L69.85,357.40 L70.10,357.40 L70.35,357.40 L70.60,357.40 L70.85,357.40 L71.10,357.40 L71.35,357.40 L71.60,357.40 L71.85,357.40 L72.10,357.40 L72.35,357.40 L72.60,357.40 L72.85,357.40 L73.10,357.40 L73.35,357.40 L73.60,357.40 L73.85,357.40 L74.10,357.40 L74.35,357.40 L74.60,357.40 L74.85,357.40 L75.10,357.40 L75.35,357.40 L75.60,357.40 L75.85,357.40 L76.10,357.40 L76.35,357.40 L76.60,357.40 L76.85,357.40 L77.10,357.40 L77.35,357.40 L77.60,357.40 L77.85,357.40 L78.10,357.40 L78.35,357.40 L78.60,357.39 L78.85,357.39 L79.10,357.38 L79.35,357.37 L79.60,357.36 L79.85,357.34 L80.10,357.31 L80.35,357.27 L80.60,357.21 L80.85,357.12 L81.10,357.01 L81.35,356.85 L81.60,356.63 L81.85,356.34 L82.10,355.97 L82.35,355.49 L82.60,354.88 L82.85,354.13 L83.10,353.21 L83.35,352.11 L83.60,350.82 L83.85,349.34 L84.10,347.68 L84.35,345.86 L84.60,343.93 L84.85,341.94 L85.10,339.98 L85.35,338.13 L85.60,336.51 L85.85,335.25 L86.10,334.50 L86.35,334.59 L86.60,335.46 L86.85,336.81 L87.10,338.48 L87.35,340.37 L87.60,342.34 L87.85,344.33 L88.10,346.24 L88.35,348.03 L88.60,349.65 L88.85,351.09 L89.10,352.35 L89.35,353.41 L89.60,354.29 L89.85,355.01 L90.10,355.59 L90.35,356.05 L90.60,356.41 L90.85,356.68 L91.10,356.88 L91.35,357.03 L91.60,357.14 L91.85,357.22 L92.10,357.28 L92.35,357.32 L92.60,357.35 L92.85,357.36 L93.10,357.38 L93.35,357.39 L93.60,357.39 L93.85,357.39 L94.10,357.40 L94.35,357.40 L94.60,357.40 L94.85,357.40 L95.10,357.40 L95.35,357.40 L95.60,357.40 L95.85,357.40 L96.10,357.40 L96.35,357.40 L96.60,357.40 L96.85,357.40 L97.10,357.40 L97.35,357.40 L97.60,357.40 L97.85,357.40 L98.10,357.40 L98.35,357.40 L98.60,357.40 L98.85,357.40 L99.10,357.40 L99.35,357.40 L99.60,357.40 L99.85,357.40 L100.10,357.40 L100.35,357.40 L100.60,357.40 L100.85,357.40 L101.10,357.40 L101.35,357.40 L101.60,357.40 L101.85,357.40 L102.10,357.40 L102.35,357.40 L102.60,357.40 L102.85,357.40 L103.10,357.40 L103.35,357.40 L103.60,357.40 L103.85,357.40 L104.10,357.40 L104.35,357.40 L104.60,357.40 L104.85,357.40 L105.00,357.40 Z" fill="#f7941d" stroke="#222" stroke-width="0.45" stroke-linejoin="round"/>
<line x1="63.00" y1="357.40" x2="63.00" y2="356.50" stroke="#555" stroke-width="0.4"/>
<line x1="65.00" y1="357.40" x2="65.00" y2="356.50" stroke="#555" stroke-width="0.4"/>
<line x1="67.00" y1="357.40" x2="67.00" y2="356.50" stroke="#555" stroke-width="0.4"/>
<line x1="69.00" y1="357.40" x2="69.00" y2="356.50" stroke="#555" stroke-width="0.4"/>
<line x1="71.00" y1="357.40" x2="71.00" y2="356.50" stroke="#555" stroke-width="0.4"/>
<line x1="80.00" y1="357.40" x2="80.00" y2="356.50" stroke="#555" stroke-width="0.4"/>
<line x1="82.00" y1="357.40" x2="82.00" y2="356.50" stroke="#555" stroke-width="0.4"/>
<line x1="90.00" y1="357.40" x2="90.00" y2="356.50" stroke="#555" stroke-width="0.4"/>
<line x1="92.00" y1="357.40" x2="92.00" y2="356.50" stroke="#555" stroke-width="0.4"/>
<line x1="94.00" y1="357.40" x2="94.00" y2="356.50" stroke="#555" stroke-width="0.4"/>
<line x1="96.00" y1="357.40" x2="96.00" y2="356.50" stroke="#555" stroke-width="0.4"/>
<line x1="98.00" y1="357.40" x2="98.00" y2="356.50" stroke="#555" stroke-width="0.4"/>
<line x1="100.00" y1="357.40" x2="100.00" y2="356.50" stroke="#555" stroke-width="0.4"/>
<line x1="102.00" y1="357.40" x2="102.00" y2="356.50" stroke="#555" stroke-width="0.4"/>
<text font-size="7.2" text-anchor="middle" stroke="#262626" stroke-width="0.12" x="83.10" y="368.40">IκBα</text>
<text font-size="7" text-anchor="end" stroke="#262626" stroke-width="0.12" x="57.50" y="274.60">Basal</text>
<text font-size="7" text-anchor="end" stroke="#262626" stroke-width="0.12" x="57.50" y="298.30">TNFα</text>
<text font-size="6.6" text-anchor="end" stroke="#262626" stroke-width="0.12" x="57.50" y="311.00">TNFα +</text>
<text font-size="6.6" text-anchor="end" stroke="#262626" stroke-width="0.12" x="57.50" y="319.50">40 nM Pev</text>
<text font-size="6.6" text-anchor="end" stroke="#262626" stroke-width="0.12" x="57.50" y="330.00">TNFα +</text>
<text font-size="6.6" text-anchor="end" stroke="#262626" stroke-width="0.12" x="57.50" y="338.50">200 nM Pev</text>
<text font-size="6.6" text-anchor="end" stroke="#262626" stroke-width="0.12" x="57.50" y="349.00">TNFα +</text>
<text font-size="6.6" text-anchor="end" stroke="#262626" stroke-width="0.12" x="57.50" y="357.90">1 µM Pev</text>
<text font-size="11.6" font-weight="bold" fill="#000" stroke="#000" stroke-width="0.15" x="117.00" y="260.60">G</text>
<line x1="149.30" y1="277.50" x2="149.30" y2="343.80" stroke="#262626" stroke-width="0.9"/>
<line x1="146.50" y1="343.80" x2="149.30" y2="343.80" stroke="#262626" stroke-width="0.9"/>
<text font-size="7.2" text-anchor="end" stroke="#262626" stroke-width="0.12" transform="translate(143.40 346.82) scale(1.100 1)">0.00</text>
<line x1="146.50" y1="327.23" x2="149.30" y2="327.23" stroke="#262626" stroke-width="0.9"/>
<text font-size="7.2" text-anchor="end" stroke="#262626" stroke-width="0.12" transform="translate(143.40 330.25) scale(1.100 1)">0.01</text>
<line x1="146.50" y1="310.65" x2="149.30" y2="310.65" stroke="#262626" stroke-width="0.9"/>
<text font-size="7.2" text-anchor="end" stroke="#262626" stroke-width="0.12" transform="translate(143.40 313.67) scale(1.100 1)">0.02</text>
<line x1="146.50" y1="294.07" x2="149.30" y2="294.07" stroke="#262626" stroke-width="0.9"/>
<text font-size="7.2" text-anchor="end" stroke="#262626" stroke-width="0.12" transform="translate(143.40 297.09) scale(1.100 1)">0.03</text>
<line x1="146.50" y1="277.50" x2="149.30" y2="277.50" stroke="#262626" stroke-width="0.9"/>
<text font-size="7.2" text-anchor="end" stroke="#262626" stroke-width="0.12" transform="translate(143.40 280.52) scale(1.100 1)">0.04</text>
<line x1="149.30" y1="343.80" x2="248.00" y2="343.80" stroke="#262626" stroke-width="0.9"/>
<line x1="157.50" y1="343.80" x2="157.50" y2="346.20" stroke="#262626" stroke-width="0.8"/>
<text font-size="7.6" text-anchor="middle" stroke="#262626" stroke-width="0.12" x="157.50" y="355.90">0</text>
<line x1="173.80" y1="343.80" x2="173.80" y2="346.20" stroke="#262626" stroke-width="0.8"/>
<text font-size="7.6" text-anchor="middle" stroke="#262626" stroke-width="0.12" x="173.80" y="355.90">0.5</text>
<line x1="190.50" y1="343.80" x2="190.50" y2="346.20" stroke="#262626" stroke-width="0.8"/>
<text font-size="7.6" text-anchor="middle" stroke="#262626" stroke-width="0.12" x="190.50" y="355.90">1</text>
<line x1="207.00" y1="343.80" x2="207.00" y2="346.20" stroke="#262626" stroke-width="0.8"/>
<text font-size="7.6" text-anchor="middle" stroke="#262626" stroke-width="0.12" x="207.00" y="355.90">2</text>
<line x1="223.30" y1="343.80" x2="223.30" y2="346.20" stroke="#262626" stroke-width="0.8"/>
<text font-size="7.6" text-anchor="middle" stroke="#262626" stroke-width="0.12" x="223.30" y="355.90">3</text>
<line x1="239.50" y1="343.80" x2="239.50" y2="346.20" stroke="#262626" stroke-width="0.8"/>
<text font-size="7.6" text-anchor="middle" stroke="#262626" stroke-width="0.12" x="239.50" y="355.90">6</text>
<polyline points="157.50,338.80 173.80,338.30 190.50,340.00 207.00,339.30 223.30,339.30 239.50,340.50" fill="none" stroke="#4a1f6e" stroke-width="1.45" stroke-linejoin="round"/>
<circle cx="157.50" cy="338.80" r="1.45" fill="#4a1f6e"/>
<circle cx="173.80" cy="338.30" r="1.45" fill="#4a1f6e"/>
<circle cx="190.50" cy="340.00" r="1.45" fill="#4a1f6e"/>
<circle cx="207.00" cy="339.30" r="1.45" fill="#4a1f6e"/>
<circle cx="223.30" cy="339.30" r="1.45" fill="#4a1f6e"/>
<circle cx="239.50" cy="340.50" r="1.45" fill="#4a1f6e"/>
<polyline points="157.50,340.50 173.80,338.80 190.50,337.00 207.00,340.00 223.30,338.80 239.50,340.00" fill="none" stroke="#3bb54a" stroke-width="1.45" stroke-linejoin="round"/>
<circle cx="157.50" cy="340.50" r="1.45" fill="#3bb54a"/>
<circle cx="173.80" cy="338.80" r="1.45" fill="#3bb54a"/>
<circle cx="190.50" cy="337.00" r="1.45" fill="#3bb54a"/>
<circle cx="207.00" cy="340.00" r="1.45" fill="#3bb54a"/>
<circle cx="223.30" cy="338.80" r="1.45" fill="#3bb54a"/>
<circle cx="239.50" cy="340.00" r="1.45" fill="#3bb54a"/>
<polyline points="157.50,337.80 173.80,328.30 190.50,320.80 207.00,337.00 223.30,335.00 239.50,338.80" fill="none" stroke="#0f4c82" stroke-width="1.45" stroke-linejoin="round"/>
<circle cx="157.50" cy="337.80" r="1.45" fill="#0f4c82"/>
<circle cx="173.80" cy="328.30" r="1.45" fill="#0f4c82"/>
<circle cx="190.50" cy="320.80" r="1.45" fill="#0f4c82"/>
<circle cx="207.00" cy="337.00" r="1.45" fill="#0f4c82"/>
<circle cx="223.30" cy="335.00" r="1.45" fill="#0f4c82"/>
<circle cx="239.50" cy="338.80" r="1.45" fill="#0f4c82"/>
<polyline points="157.50,337.20 173.80,307.80 190.50,283.80 207.00,287.80 223.30,310.30 239.50,326.80" fill="none" stroke="#cd1e3c" stroke-width="1.45" stroke-linejoin="round"/>
<circle cx="157.50" cy="337.20" r="1.45" fill="#cd1e3c"/>
<line x1="173.80" y1="305.80" x2="173.80" y2="309.80" stroke="#cd1e3c" stroke-width="0.75"/>
<line x1="172.30" y1="305.80" x2="175.30" y2="305.80" stroke="#cd1e3c" stroke-width="0.75"/>
<line x1="172.30" y1="309.80" x2="175.30" y2="309.80" stroke="#cd1e3c" stroke-width="0.75"/>
<circle cx="173.80" cy="307.80" r="1.45" fill="#cd1e3c"/>
<line x1="190.50" y1="282.00" x2="190.50" y2="285.60" stroke="#cd1e3c" stroke-width="0.75"/>
<line x1="189.00" y1="282.00" x2="192.00" y2="282.00" stroke="#cd1e3c" stroke-width="0.75"/>
<line x1="189.00" y1="285.60" x2="192.00" y2="285.60" stroke="#cd1e3c" stroke-width="0.75"/>
<circle cx="190.50" cy="283.80" r="1.45" fill="#cd1e3c"/>
<line x1="207.00" y1="286.00" x2="207.00" y2="289.60" stroke="#cd1e3c" stroke-width="0.75"/>
<line x1="205.50" y1="286.00" x2="208.50" y2="286.00" stroke="#cd1e3c" stroke-width="0.75"/>
<line x1="205.50" y1="289.60" x2="208.50" y2="289.60" stroke="#cd1e3c" stroke-width="0.75"/>
<circle cx="207.00" cy="287.80" r="1.45" fill="#cd1e3c"/>
<circle cx="223.30" cy="310.30" r="1.45" fill="#cd1e3c"/>
<line x1="239.50" y1="325.80" x2="239.50" y2="327.80" stroke="#cd1e3c" stroke-width="0.75"/>
<line x1="238.00" y1="325.80" x2="241.00" y2="325.80" stroke="#cd1e3c" stroke-width="0.75"/>
<line x1="238.00" y1="327.80" x2="241.00" y2="327.80" stroke="#cd1e3c" stroke-width="0.75"/>
<circle cx="239.50" cy="326.80" r="1.45" fill="#cd1e3c"/>
<text font-size="9.3" text-anchor="middle" font-style="italic" stroke="#262626" stroke-width="0.12" x="207.50" y="266.20">NFKBIA</text>
<text font-size="8.2" text-anchor="middle" stroke="#262626" stroke-width="0.26" transform="translate(198.65 365.60) scale(0.778 1)">Time (h)</text>
<line x1="280.80" y1="277.50" x2="280.80" y2="343.80" stroke="#262626" stroke-width="0.9"/>
<line x1="278.00" y1="343.80" x2="280.80" y2="343.80" stroke="#262626" stroke-width="0.9"/>
<text font-size="7.2" text-anchor="end" stroke="#262626" stroke-width="0.12" transform="translate(274.90 346.82) scale(1.100 1)">0.000</text>
<line x1="278.00" y1="327.23" x2="280.80" y2="327.23" stroke="#262626" stroke-width="0.9"/>
<text font-size="7.2" text-anchor="end" stroke="#262626" stroke-width="0.12" transform="translate(274.90 330.25) scale(1.100 1)">0.001</text>
<line x1="278.00" y1="310.65" x2="280.80" y2="310.65" stroke="#262626" stroke-width="0.9"/>
<text font-size="7.2" text-anchor="end" stroke="#262626" stroke-width="0.12" transform="translate(274.90 313.67) scale(1.100 1)">0.002</text>
<line x1="278.00" y1="294.07" x2="280.80" y2="294.07" stroke="#262626" stroke-width="0.9"/>
<text font-size="7.2" text-anchor="end" stroke="#262626" stroke-width="0.12" transform="translate(274.90 297.09) scale(1.100 1)">0.003</text>
<line x1="278.00" y1="277.50" x2="280.80" y2="277.50" stroke="#262626" stroke-width="0.9"/>
<text font-size="7.2" text-anchor="end" stroke="#262626" stroke-width="0.12" transform="translate(274.90 280.52) scale(1.100 1)">0.004</text>
<line x1="280.80" y1="343.80" x2="380.00" y2="343.80" stroke="#262626" stroke-width="0.9"/>
<line x1="288.80" y1="343.80" x2="288.80" y2="346.20" stroke="#262626" stroke-width="0.8"/>
<text font-size="7.6" text-anchor="middle" stroke="#262626" stroke-width="0.12" x="288.80" y="355.90">0</text>
<line x1="305.00" y1="343.80" x2="305.00" y2="346.20" stroke="#262626" stroke-width="0.8"/>
<text font-size="7.6" text-anchor="middle" stroke="#262626" stroke-width="0.12" x="305.00" y="355.90">0.5</text>
<line x1="321.80" y1="343.80" x2="321.80" y2="346.20" stroke="#262626" stroke-width="0.8"/>
<text font-size="7.6" text-anchor="middle" stroke="#262626" stroke-width="0.12" x="321.80" y="355.90">1</text>
<line x1="338.60" y1="343.80" x2="338.60" y2="346.20" stroke="#262626" stroke-width="0.8"/>
<text font-size="7.6" text-anchor="middle" stroke="#262626" stroke-width="0.12" x="338.60" y="355.90">2</text>
<line x1="355.40" y1="343.80" x2="355.40" y2="346.20" stroke="#262626" stroke-width="0.8"/>
<text font-size="7.6" text-anchor="middle" stroke="#262626" stroke-width="0.12" x="355.40" y="355.90">3</text>
<line x1="372.40" y1="343.80" x2="372.40" y2="346.20" stroke="#262626" stroke-width="0.8"/>
<text font-size="7.6" text-anchor="middle" stroke="#262626" stroke-width="0.12" x="372.40" y="355.90">6</text>
<polyline points="288.80,318.00 305.00,330.80 321.80,325.00 338.60,330.50 355.40,322.50 372.40,326.30" fill="none" stroke="#4a1f6e" stroke-width="1.45" stroke-linejoin="round"/>
<line x1="288.80" y1="316.50" x2="288.80" y2="319.50" stroke="#4a1f6e" stroke-width="0.75"/>
<line x1="287.30" y1="316.50" x2="290.30" y2="316.50" stroke="#4a1f6e" stroke-width="0.75"/>
<line x1="287.30" y1="319.50" x2="290.30" y2="319.50" stroke="#4a1f6e" stroke-width="0.75"/>
<circle cx="288.80" cy="318.00" r="1.45" fill="#4a1f6e"/>
<circle cx="305.00" cy="330.80" r="1.45" fill="#4a1f6e"/>
<circle cx="321.80" cy="325.00" r="1.45" fill="#4a1f6e"/>
<line x1="338.60" y1="329.00" x2="338.60" y2="332.00" stroke="#4a1f6e" stroke-width="0.75"/>
<line x1="337.10" y1="329.00" x2="340.10" y2="329.00" stroke="#4a1f6e" stroke-width="0.75"/>
<line x1="337.10" y1="332.00" x2="340.10" y2="332.00" stroke="#4a1f6e" stroke-width="0.75"/>
<circle cx="338.60" cy="330.50" r="1.45" fill="#4a1f6e"/>
<circle cx="355.40" cy="322.50" r="1.45" fill="#4a1f6e"/>
<circle cx="372.40" cy="326.30" r="1.45" fill="#4a1f6e"/>
<polyline points="288.80,324.50 305.00,336.30 321.80,335.80 338.60,328.80 355.40,335.00 372.40,318.80" fill="none" stroke="#3bb54a" stroke-width="1.45" stroke-linejoin="round"/>
<line x1="288.80" y1="319.00" x2="288.80" y2="330.00" stroke="#3bb54a" stroke-width="0.75"/>
<line x1="287.30" y1="319.00" x2="290.30" y2="319.00" stroke="#3bb54a" stroke-width="0.75"/>
<line x1="287.30" y1="330.00" x2="290.30" y2="330.00" stroke="#3bb54a" stroke-width="0.75"/>
<circle cx="288.80" cy="324.50" r="1.45" fill="#3bb54a"/>
<circle cx="305.00" cy="336.30" r="1.45" fill="#3bb54a"/>
<circle cx="321.80" cy="335.80" r="1.45" fill="#3bb54a"/>
<circle cx="338.60" cy="328.80" r="1.45" fill="#3bb54a"/>
<circle cx="355.40" cy="335.00" r="1.45" fill="#3bb54a"/>
<circle cx="372.40" cy="318.80" r="1.45" fill="#3bb54a"/>
<polyline points="288.80,316.30 305.00,327.50 321.80,338.80 338.60,337.00 355.40,299.50 372.40,327.00" fill="none" stroke="#0f4c82" stroke-width="1.45" stroke-linejoin="round"/>
<circle cx="288.80" cy="316.30" r="1.45" fill="#0f4c82"/>
<circle cx="305.00" cy="327.50" r="1.45" fill="#0f4c82"/>
<circle cx="321.80" cy="338.80" r="1.45" fill="#0f4c82"/>
<circle cx="338.60" cy="337.00" r="1.45" fill="#0f4c82"/>
<line x1="355.40" y1="291.50" x2="355.40" y2="307.50" stroke="#0f4c82" stroke-width="0.75"/>
<line x1="353.90" y1="291.50" x2="356.90" y2="291.50" stroke="#0f4c82" stroke-width="0.75"/>
<line x1="353.90" y1="307.50" x2="356.90" y2="307.50" stroke="#0f4c82" stroke-width="0.75"/>
<circle cx="355.40" cy="299.50" r="1.45" fill="#0f4c82"/>
<line x1="372.40" y1="325.80" x2="372.40" y2="328.20" stroke="#0f4c82" stroke-width="0.75"/>
<line x1="370.90" y1="325.80" x2="373.90" y2="325.80" stroke="#0f4c82" stroke-width="0.75"/>
<line x1="370.90" y1="328.20" x2="373.90" y2="328.20" stroke="#0f4c82" stroke-width="0.75"/>
<circle cx="372.40" cy="327.00" r="1.45" fill="#0f4c82"/>
<polyline points="288.80,315.50 305.00,317.50 321.80,322.50 338.60,287.50 355.40,286.80 372.40,297.50" fill="none" stroke="#cd1e3c" stroke-width="1.45" stroke-linejoin="round"/>
<line x1="288.80" y1="312.00" x2="288.80" y2="319.00" stroke="#cd1e3c" stroke-width="0.75"/>
<line x1="287.30" y1="312.00" x2="290.30" y2="312.00" stroke="#cd1e3c" stroke-width="0.75"/>
<line x1="287.30" y1="319.00" x2="290.30" y2="319.00" stroke="#cd1e3c" stroke-width="0.75"/>
<circle cx="288.80" cy="315.50" r="1.45" fill="#cd1e3c"/>
<line x1="305.00" y1="316.00" x2="305.00" y2="319.00" stroke="#cd1e3c" stroke-width="0.75"/>
<line x1="303.50" y1="316.00" x2="306.50" y2="316.00" stroke="#cd1e3c" stroke-width="0.75"/>
<line x1="303.50" y1="319.00" x2="306.50" y2="319.00" stroke="#cd1e3c" stroke-width="0.75"/>
<circle cx="305.00" cy="317.50" r="1.45" fill="#cd1e3c"/>
<circle cx="321.80" cy="322.50" r="1.45" fill="#cd1e3c"/>
<line x1="338.60" y1="286.50" x2="338.60" y2="288.50" stroke="#cd1e3c" stroke-width="0.75"/>
<line x1="337.10" y1="286.50" x2="340.10" y2="286.50" stroke="#cd1e3c" stroke-width="0.75"/>
<line x1="337.10" y1="288.50" x2="340.10" y2="288.50" stroke="#cd1e3c" stroke-width="0.75"/>
<circle cx="338.60" cy="287.50" r="1.45" fill="#cd1e3c"/>
<circle cx="355.40" cy="286.80" r="1.45" fill="#cd1e3c"/>
<line x1="372.40" y1="293.00" x2="372.40" y2="302.00" stroke="#cd1e3c" stroke-width="0.75"/>
<line x1="370.90" y1="293.00" x2="373.90" y2="293.00" stroke="#cd1e3c" stroke-width="0.75"/>
<line x1="370.90" y1="302.00" x2="373.90" y2="302.00" stroke="#cd1e3c" stroke-width="0.75"/>
<circle cx="372.40" cy="297.50" r="1.45" fill="#cd1e3c"/>
<text font-size="9.3" text-anchor="middle" font-style="italic" stroke="#262626" stroke-width="0.12" x="340.00" y="266.20">NFKB1</text>
<text font-size="8.2" text-anchor="middle" stroke="#262626" stroke-width="0.26" transform="translate(330.40 365.60) scale(0.778 1)">Time (h)</text>
<line x1="347.00" y1="318.30" x2="347.00" y2="321.70" stroke="#4a1f6e" stroke-width="0.6"/>
<circle cx="347.00" cy="320.00" r="1.3" fill="#4a1f6e"/>
<line x1="412.50" y1="277.50" x2="412.50" y2="343.80" stroke="#262626" stroke-width="0.9"/>
<line x1="409.70" y1="343.80" x2="412.50" y2="343.80" stroke="#262626" stroke-width="0.9"/>
<text font-size="7.2" text-anchor="end" stroke="#262626" stroke-width="0.12" transform="translate(406.60 346.82) scale(1.100 1)">0.000</text>
<line x1="409.70" y1="321.70" x2="412.50" y2="321.70" stroke="#262626" stroke-width="0.9"/>
<text font-size="7.2" text-anchor="end" stroke="#262626" stroke-width="0.12" transform="translate(406.60 324.72) scale(1.100 1)">0.005</text>
<line x1="409.70" y1="299.60" x2="412.50" y2="299.60" stroke="#262626" stroke-width="0.9"/>
<text font-size="7.2" text-anchor="end" stroke="#262626" stroke-width="0.12" transform="translate(406.60 302.62) scale(1.100 1)">0.010</text>
<line x1="409.70" y1="277.50" x2="412.50" y2="277.50" stroke="#262626" stroke-width="0.9"/>
<text font-size="7.2" text-anchor="end" stroke="#262626" stroke-width="0.12" transform="translate(406.60 280.52) scale(1.100 1)">0.015</text>
<line x1="412.50" y1="343.80" x2="512.00" y2="343.80" stroke="#262626" stroke-width="0.9"/>
<line x1="420.80" y1="343.80" x2="420.80" y2="346.20" stroke="#262626" stroke-width="0.8"/>
<text font-size="7.6" text-anchor="middle" stroke="#262626" stroke-width="0.12" x="420.80" y="355.90">0</text>
<line x1="437.40" y1="343.80" x2="437.40" y2="346.20" stroke="#262626" stroke-width="0.8"/>
<text font-size="7.6" text-anchor="middle" stroke="#262626" stroke-width="0.12" x="437.40" y="355.90">0.5</text>
<line x1="453.80" y1="343.80" x2="453.80" y2="346.20" stroke="#262626" stroke-width="0.8"/>
<text font-size="7.6" text-anchor="middle" stroke="#262626" stroke-width="0.12" x="453.80" y="355.90">1</text>
<line x1="470.80" y1="343.80" x2="470.80" y2="346.20" stroke="#262626" stroke-width="0.8"/>
<text font-size="7.6" text-anchor="middle" stroke="#262626" stroke-width="0.12" x="470.80" y="355.90">2</text>
<line x1="487.20" y1="343.80" x2="487.20" y2="346.20" stroke="#262626" stroke-width="0.8"/>
<text font-size="7.6" text-anchor="middle" stroke="#262626" stroke-width="0.12" x="487.20" y="355.90">3</text>
<line x1="504.30" y1="343.80" x2="504.30" y2="346.20" stroke="#262626" stroke-width="0.8"/>
<text font-size="7.6" text-anchor="middle" stroke="#262626" stroke-width="0.12" x="504.30" y="355.90">6</text>
<polyline points="420.80,327.30 437.40,340.00 453.80,329.00 470.80,342.80 487.20,339.50 504.30,338.20" fill="none" stroke="#4a1f6e" stroke-width="1.45" stroke-linejoin="round"/>
<circle cx="420.80" cy="327.30" r="1.45" fill="#4a1f6e"/>
<circle cx="437.40" cy="340.00" r="1.45" fill="#4a1f6e"/>
<line x1="453.80" y1="327.50" x2="453.80" y2="330.50" stroke="#4a1f6e" stroke-width="0.75"/>
<line x1="452.30" y1="327.50" x2="455.30" y2="327.50" stroke="#4a1f6e" stroke-width="0.75"/>
<line x1="452.30" y1="330.50" x2="455.30" y2="330.50" stroke="#4a1f6e" stroke-width="0.75"/>
<circle cx="453.80" cy="329.00" r="1.45" fill="#4a1f6e"/>
<circle cx="470.80" cy="342.80" r="1.45" fill="#4a1f6e"/>
<circle cx="487.20" cy="339.50" r="1.45" fill="#4a1f6e"/>
<circle cx="504.30" cy="338.20" r="1.45" fill="#4a1f6e"/>
<polyline points="420.80,335.80 437.40,344.20 453.80,344.20 470.80,335.40 487.20,343.50 504.30,335.40" fill="none" stroke="#3bb54a" stroke-width="1.45" stroke-linejoin="round"/>
<circle cx="420.80" cy="335.80" r="1.45" fill="#3bb54a"/>
<circle cx="437.40" cy="344.20" r="1.45" fill="#3bb54a"/>
<circle cx="453.80" cy="344.20" r="1.45" fill="#3bb54a"/>
<circle cx="470.80" cy="335.40" r="1.45" fill="#3bb54a"/>
<circle cx="487.20" cy="343.50" r="1.45" fill="#3bb54a"/>
<circle cx="504.30" cy="335.40" r="1.45" fill="#3bb54a"/>
<polyline points="420.80,324.30 437.40,340.70 453.80,344.20 470.80,335.40 487.20,318.80 504.30,336.50" fill="none" stroke="#0f4c82" stroke-width="1.45" stroke-linejoin="round"/>
<circle cx="420.80" cy="324.30" r="1.45" fill="#0f4c82"/>
<circle cx="437.40" cy="340.70" r="1.45" fill="#0f4c82"/>
<circle cx="453.80" cy="344.20" r="1.45" fill="#0f4c82"/>
<circle cx="470.80" cy="335.40" r="1.45" fill="#0f4c82"/>
<circle cx="487.20" cy="318.80" r="1.45" fill="#0f4c82"/>
<circle cx="504.30" cy="336.50" r="1.45" fill="#0f4c82"/>
<polyline points="420.80,333.80 437.40,327.30 453.80,323.80 470.80,295.50 487.20,292.00 504.30,288.00" fill="none" stroke="#cd1e3c" stroke-width="1.45" stroke-linejoin="round"/>
<circle cx="420.80" cy="333.80" r="1.45" fill="#cd1e3c"/>
<circle cx="437.40" cy="327.30" r="1.45" fill="#cd1e3c"/>
<circle cx="453.80" cy="323.80" r="1.45" fill="#cd1e3c"/>
<line x1="470.80" y1="291.00" x2="470.80" y2="300.00" stroke="#cd1e3c" stroke-width="0.75"/>
<line x1="469.30" y1="291.00" x2="472.30" y2="291.00" stroke="#cd1e3c" stroke-width="0.75"/>
<line x1="469.30" y1="300.00" x2="472.30" y2="300.00" stroke="#cd1e3c" stroke-width="0.75"/>
<circle cx="470.80" cy="295.50" r="1.45" fill="#cd1e3c"/>
<circle cx="487.20" cy="292.00" r="1.45" fill="#cd1e3c"/>
<line x1="504.30" y1="279.50" x2="504.30" y2="296.50" stroke="#cd1e3c" stroke-width="0.75"/>
<line x1="502.80" y1="279.50" x2="505.80" y2="279.50" stroke="#cd1e3c" stroke-width="0.75"/>
<line x1="502.80" y1="296.50" x2="505.80" y2="296.50" stroke="#cd1e3c" stroke-width="0.75"/>
<circle cx="504.30" cy="288.00" r="1.45" fill="#cd1e3c"/>
<text font-size="9.3" text-anchor="middle" font-style="italic" stroke="#262626" stroke-width="0.12" x="472.70" y="266.20">NFKB2</text>
<text font-size="8.2" text-anchor="middle" stroke="#262626" stroke-width="0.26" transform="translate(462.25 365.60) scale(0.778 1)">Time (h)</text>
<line x1="416.30" y1="269.60" x2="423.80" y2="269.60" stroke="#4a1f6e" stroke-width="1.1"/>
<circle cx="420.00" cy="269.60" r="1.1" fill="#4a1f6e"/>
<text font-size="7" stroke="#262626" stroke-width="0.12" x="425.80" y="272.10">Basal</text>
<line x1="416.30" y1="278.30" x2="423.80" y2="278.30" stroke="#cd1e3c" stroke-width="1.1"/>
<circle cx="420.00" cy="278.30" r="1.1" fill="#cd1e3c"/>
<text font-size="7" stroke="#262626" stroke-width="0.12" x="425.80" y="280.80">TNFα</text>
<line x1="416.30" y1="287.30" x2="423.80" y2="287.30" stroke="#3bb54a" stroke-width="1.1"/>
<circle cx="420.00" cy="287.30" r="1.1" fill="#3bb54a"/>
<text font-size="7" stroke="#262626" stroke-width="0.12" x="425.80" y="289.80">Pev</text>
<line x1="416.30" y1="295.80" x2="423.80" y2="295.80" stroke="#0f4c82" stroke-width="1.1"/>
<circle cx="420.00" cy="295.80" r="1.1" fill="#0f4c82"/>
<text font-size="7" stroke="#262626" stroke-width="0.12" x="425.80" y="298.30">Pev + TNFα</text>
<text font-size="8.4" text-anchor="middle" stroke="#262626" stroke-width="0.26" transform="translate(123.40 311.20) rotate(-90) scale(0.740 1)">Relative mRNA (2<tspan font-size="5" dy="-2.8">−ΔCt</tspan><tspan dy="2.8">)</tspan></text>
<text font-size="11.6" font-weight="bold" fill="#000" stroke="#000" stroke-width="0.15" x="7.60" y="385.00">H</text>
<line x1="61.40" y1="396.00" x2="61.40" y2="485.40" stroke="#262626" stroke-width="0.9"/>
<line x1="58.60" y1="485.40" x2="61.40" y2="485.40" stroke="#262626" stroke-width="0.9"/>
<text font-size="7.2" text-anchor="end" stroke="#262626" stroke-width="0.12" transform="translate(55.40 488.42) scale(1.100 1)">0</text>
<line x1="58.60" y1="470.50" x2="61.40" y2="470.50" stroke="#262626" stroke-width="0.9"/>
<text font-size="7.2" text-anchor="end" stroke="#262626" stroke-width="0.12" transform="translate(55.40 473.52) scale(1.100 1)">25</text>
<line x1="58.60" y1="455.60" x2="61.40" y2="455.60" stroke="#262626" stroke-width="0.9"/>
<text font-size="7.2" text-anchor="end" stroke="#262626" stroke-width="0.12" transform="translate(55.40 458.62) scale(1.100 1)">50</text>
<line x1="58.60" y1="440.70" x2="61.40" y2="440.70" stroke="#262626" stroke-width="0.9"/>
<text font-size="7.2" text-anchor="end" stroke="#262626" stroke-width="0.12" transform="translate(55.40 443.72) scale(1.100 1)">75</text>
<line x1="58.60" y1="425.80" x2="61.40" y2="425.80" stroke="#262626" stroke-width="0.9"/>
<text font-size="7.2" text-anchor="end" stroke="#262626" stroke-width="0.12" transform="translate(55.40 428.82) scale(1.100 1)">100</text>
<line x1="58.60" y1="410.90" x2="61.40" y2="410.90" stroke="#262626" stroke-width="0.9"/>
<text font-size="7.2" text-anchor="end" stroke="#262626" stroke-width="0.12" transform="translate(55.40 413.92) scale(1.100 1)">125</text>
<line x1="58.60" y1="396.00" x2="61.40" y2="396.00" stroke="#262626" stroke-width="0.9"/>
<text font-size="7.2" text-anchor="end" stroke="#262626" stroke-width="0.12" transform="translate(55.40 399.02) scale(1.100 1)">150</text>
<line x1="61.40" y1="485.40" x2="274.00" y2="485.40" stroke="#262626" stroke-width="0.9"/>
<text font-size="8.1" text-anchor="middle" stroke="#262626" stroke-width="0.26" transform="translate(36.80 441.40) rotate(-90) scale(0.775 1)">Relative colonies (%)</text>
<line x1="133.10" y1="394.80" x2="133.10" y2="485.00" stroke="#b4b4b4" stroke-width="0.85" stroke-dasharray="2.9,1.8"/>
<line x1="203.60" y1="394.80" x2="203.60" y2="485.00" stroke="#b4b4b4" stroke-width="0.85" stroke-dasharray="2.9,1.8"/>
<rect x="140.4" y="381.6" width="32.2" height="13.5" fill="#fff" stroke="#333" stroke-width="0.8"/>
<text font-size="7.6" text-anchor="middle" stroke="#262626" stroke-width="0.12" x="156.50" y="391.40">CD34+</text>
<circle cx="222.60" cy="389.70" r="1.9" fill="#c8102e"/>
<text font-size="7" stroke="#262626" stroke-width="0.12" x="226.60" y="392.20">Normal BM</text>
<rect x="220.80" y="396.20" width="3.60" height="3.60" fill="#0f4c82"/>
<text font-size="7" stroke="#262626" stroke-width="0.12" x="226.60" y="400.60">MF patient</text>
<circle cx="65.60" cy="425.90" r="1.75" fill="#c8102e"/>
<rect x="72.60" y="424.20" width="3.40" height="3.40" fill="#0f4c82"/>
<circle cx="83.50" cy="415.30" r="1.75" fill="#c8102e"/>
<circle cx="84.50" cy="417.80" r="1.75" fill="#c8102e"/>
<circle cx="82.50" cy="419.70" r="1.75" fill="#c8102e"/>
<circle cx="84.10" cy="427.40" r="1.75" fill="#c8102e"/>
<circle cx="82.90" cy="428.80" r="1.75" fill="#c8102e"/>
<circle cx="84.70" cy="436.50" r="1.75" fill="#c8102e"/>
<circle cx="82.30" cy="450.00" r="1.75" fill="#c8102e"/>
<line x1="81.30" y1="426.00" x2="85.70" y2="426.00" stroke="#e0607a" stroke-width="0.8"/>
<rect x="90.50" y="421.30" width="3.40" height="3.40" fill="#0f4c82"/>
<rect x="91.90" y="424.20" width="3.40" height="3.40" fill="#0f4c82"/>
<rect x="89.10" y="426.60" width="3.40" height="3.40" fill="#0f4c82"/>
<rect x="91.34" y="429.30" width="3.40" height="3.40" fill="#0f4c82"/>
<rect x="89.66" y="431.90" width="3.40" height="3.40" fill="#0f4c82"/>
<rect x="92.18" y="434.80" width="3.40" height="3.40" fill="#0f4c82"/>
<rect x="88.82" y="437.30" width="3.40" height="3.40" fill="#0f4c82"/>
<rect x="90.92" y="440.00" width="3.40" height="3.40" fill="#0f4c82"/>
<line x1="90.00" y1="432.60" x2="94.40" y2="432.60" stroke="#6fa0d0" stroke-width="0.8"/>
<circle cx="101.30" cy="399.30" r="1.75" fill="#c8102e"/>
<circle cx="101.30" cy="403.20" r="1.75" fill="#c8102e"/>
<circle cx="101.30" cy="416.30" r="1.75" fill="#c8102e"/>
<circle cx="101.30" cy="426.30" r="1.75" fill="#c8102e"/>
<circle cx="101.30" cy="431.30" r="1.75" fill="#c8102e"/>
<circle cx="101.30" cy="432.60" r="1.75" fill="#c8102e"/>
<line x1="99.10" y1="420.00" x2="103.50" y2="420.00" stroke="#e0607a" stroke-width="0.8"/>
<rect x="108.60" y="441.50" width="3.40" height="3.40" fill="#0f4c82"/>
<rect x="108.60" y="443.10" width="3.40" height="3.40" fill="#0f4c82"/>
<rect x="108.60" y="445.00" width="3.40" height="3.40" fill="#0f4c82"/>
<rect x="108.60" y="448.30" width="3.40" height="3.40" fill="#0f4c82"/>
<circle cx="119.20" cy="464.40" r="1.75" fill="#c8102e"/>
<circle cx="119.20" cy="466.40" r="1.75" fill="#c8102e"/>
<circle cx="119.20" cy="468.70" r="1.75" fill="#c8102e"/>
<circle cx="119.20" cy="480.30" r="1.75" fill="#c8102e"/>
<circle cx="119.20" cy="481.80" r="1.75" fill="#c8102e"/>
<line x1="117.00" y1="475.00" x2="121.40" y2="475.00" stroke="#e0607a" stroke-width="0.8"/>
<rect x="126.20" y="477.80" width="3.40" height="3.40" fill="#0f4c82"/>
<rect x="126.20" y="482.60" width="3.40" height="3.40" fill="#0f4c82"/>
<rect x="126.20" y="483.60" width="3.40" height="3.40" fill="#0f4c82"/>
<circle cx="137.00" cy="441.70" r="1.75" fill="#c8102e"/>
<circle cx="137.00" cy="459.60" r="1.75" fill="#c8102e"/>
<circle cx="137.00" cy="468.70" r="1.75" fill="#c8102e"/>
<line x1="134.80" y1="456.40" x2="139.20" y2="456.40" stroke="#e0607a" stroke-width="0.8"/>
<rect x="144.10" y="442.50" width="3.40" height="3.40" fill="#0f4c82"/>
<rect x="144.10" y="449.60" width="3.40" height="3.40" fill="#0f4c82"/>
<rect x="144.10" y="451.30" width="3.40" height="3.40" fill="#0f4c82"/>
<rect x="144.10" y="455.40" width="3.40" height="3.40" fill="#0f4c82"/>
<line x1="143.60" y1="451.00" x2="148.00" y2="451.00" stroke="#6fa0d0" stroke-width="0.8"/>
<circle cx="154.90" cy="432.60" r="1.75" fill="#c8102e"/>
<circle cx="154.90" cy="467.30" r="1.75" fill="#c8102e"/>
<circle cx="154.90" cy="468.30" r="1.75" fill="#c8102e"/>
<line x1="152.70" y1="455.80" x2="157.10" y2="455.80" stroke="#e0607a" stroke-width="0.8"/>
<rect x="161.90" y="437.70" width="3.40" height="3.40" fill="#0f4c82"/>
<rect x="161.90" y="457.90" width="3.40" height="3.40" fill="#0f4c82"/>
<rect x="161.90" y="462.70" width="3.40" height="3.40" fill="#0f4c82"/>
<line x1="161.40" y1="454.40" x2="165.80" y2="454.40" stroke="#6fa0d0" stroke-width="0.8"/>
<circle cx="172.60" cy="442.70" r="1.75" fill="#c8102e"/>
<circle cx="172.60" cy="464.10" r="1.75" fill="#c8102e"/>
<circle cx="172.60" cy="468.30" r="1.75" fill="#c8102e"/>
<line x1="170.40" y1="458.30" x2="174.80" y2="458.30" stroke="#e0607a" stroke-width="0.8"/>
<rect x="179.80" y="462.70" width="3.40" height="3.40" fill="#0f4c82"/>
<rect x="179.80" y="468.10" width="3.40" height="3.40" fill="#0f4c82"/>
<rect x="179.80" y="470.10" width="3.40" height="3.40" fill="#0f4c82"/>
<circle cx="190.50" cy="482.40" r="1.75" fill="#c8102e"/>
<circle cx="190.50" cy="484.70" r="1.75" fill="#c8102e"/>
<circle cx="190.50" cy="485.60" r="1.75" fill="#c8102e"/>
<rect x="197.50" y="483.60" width="3.40" height="3.40" fill="#0f4c82"/>
<rect x="195.90" y="483.60" width="3.40" height="3.40" fill="#0f4c82"/>
<circle cx="208.10" cy="464.10" r="1.75" fill="#c8102e"/>
<circle cx="208.10" cy="465.40" r="1.75" fill="#c8102e"/>
<circle cx="208.10" cy="466.80" r="1.75" fill="#c8102e"/>
<rect x="215.50" y="450.20" width="3.40" height="3.40" fill="#0f4c82"/>
<rect x="215.50" y="451.60" width="3.40" height="3.40" fill="#0f4c82"/>
<rect x="215.50" y="453.50" width="3.40" height="3.40" fill="#0f4c82"/>
<rect x="215.50" y="459.30" width="3.40" height="3.40" fill="#0f4c82"/>
<circle cx="226.20" cy="440.70" r="1.75" fill="#c8102e"/>
<circle cx="226.20" cy="466.00" r="1.75" fill="#c8102e"/>
<circle cx="226.20" cy="471.80" r="1.75" fill="#c8102e"/>
<line x1="224.00" y1="459.60" x2="228.40" y2="459.60" stroke="#e0607a" stroke-width="0.8"/>
<rect x="233.40" y="459.30" width="3.40" height="3.40" fill="#0f4c82"/>
<rect x="233.40" y="465.60" width="3.40" height="3.40" fill="#0f4c82"/>
<rect x="233.40" y="467.00" width="3.40" height="3.40" fill="#0f4c82"/>
<circle cx="244.20" cy="447.10" r="1.75" fill="#c8102e"/>
<circle cx="244.20" cy="453.80" r="1.75" fill="#c8102e"/>
<circle cx="244.20" cy="469.80" r="1.75" fill="#c8102e"/>
<line x1="242.00" y1="457.10" x2="246.40" y2="457.10" stroke="#e0607a" stroke-width="0.8"/>
<rect x="251.10" y="457.00" width="3.40" height="3.40" fill="#0f4c82"/>
<rect x="251.10" y="460.40" width="3.40" height="3.40" fill="#0f4c82"/>
<rect x="251.10" y="476.20" width="3.40" height="3.40" fill="#0f4c82"/>
<line x1="250.60" y1="466.00" x2="255.00" y2="466.00" stroke="#6fa0d0" stroke-width="0.8"/>
<circle cx="261.90" cy="449.00" r="1.75" fill="#c8102e"/>
<circle cx="261.90" cy="477.90" r="1.75" fill="#c8102e"/>
<circle cx="261.90" cy="484.70" r="1.75" fill="#c8102e"/>
<line x1="259.70" y1="470.20" x2="264.10" y2="470.20" stroke="#e0607a" stroke-width="0.8"/>
<rect x="269.40" y="483.60" width="3.40" height="3.40" fill="#0f4c82"/>
<rect x="267.90" y="483.60" width="3.40" height="3.40" fill="#0f4c82"/>
<line x1="74.30" y1="387.00" x2="110.90" y2="387.00" stroke="#222" stroke-width="0.9"/>
<line x1="74.30" y1="387.00" x2="74.30" y2="388.60" stroke="#222" stroke-width="0.9"/>
<line x1="110.90" y1="387.00" x2="110.90" y2="388.60" stroke="#222" stroke-width="0.9"/>
<text font-size="6" text-anchor="middle" fill="#333" stroke="#333" stroke-width="0.12" x="90.70" y="386.20">*</text>
<line x1="65.60" y1="393.50" x2="110.90" y2="393.50" stroke="#222" stroke-width="0.9"/>
<line x1="65.60" y1="393.50" x2="65.60" y2="395.10" stroke="#222" stroke-width="0.9"/>
<line x1="101.30" y1="393.50" x2="101.30" y2="395.10" stroke="#222" stroke-width="0.9"/>
<line x1="110.90" y1="393.50" x2="110.90" y2="395.10" stroke="#222" stroke-width="0.9"/>
<text font-size="5.2" text-anchor="middle" fill="#444" stroke="#444" stroke-width="0.12" x="80.00" y="392.40">NS</text>
<text font-size="6" text-anchor="middle" fill="#333" stroke="#333" stroke-width="0.12" x="102.60" y="392.60">**</text>
<line x1="119.20" y1="455.80" x2="128.20" y2="455.80" stroke="#222" stroke-width="0.9"/>
<line x1="119.20" y1="455.80" x2="119.20" y2="457.40" stroke="#222" stroke-width="0.9"/>
<line x1="128.20" y1="455.80" x2="128.20" y2="457.40" stroke="#222" stroke-width="0.9"/>
<text font-size="6" text-anchor="middle" fill="#333" stroke="#333" stroke-width="0.12" x="123.70" y="455.40">**</text>
<line x1="145.80" y1="419.70" x2="181.90" y2="419.70" stroke="#222" stroke-width="0.9"/>
<line x1="145.80" y1="419.70" x2="145.80" y2="421.30" stroke="#222" stroke-width="0.9"/>
<line x1="181.90" y1="419.70" x2="181.90" y2="421.30" stroke="#222" stroke-width="0.9"/>
<text font-size="6" text-anchor="middle" fill="#333" stroke="#333" stroke-width="0.12" x="162.60" y="418.90">*</text>
<line x1="137.00" y1="427.20" x2="172.80" y2="427.20" stroke="#222" stroke-width="0.9"/>
<line x1="137.00" y1="427.20" x2="137.00" y2="428.80" stroke="#222" stroke-width="0.9"/>
<line x1="172.80" y1="427.20" x2="172.80" y2="428.80" stroke="#222" stroke-width="0.9"/>
<text font-size="5.2" text-anchor="middle" fill="#333" stroke="#333" stroke-width="0.12" x="156.80" y="426.00">NS</text>
<line x1="217.70" y1="429.40" x2="271.50" y2="429.40" stroke="#222" stroke-width="0.9"/>
<line x1="217.70" y1="429.40" x2="217.70" y2="431.00" stroke="#222" stroke-width="0.9"/>
<line x1="271.50" y1="429.40" x2="271.50" y2="431.00" stroke="#222" stroke-width="0.9"/>
<text font-size="6" text-anchor="middle" fill="#333" stroke="#333" stroke-width="0.12" x="243.20" y="428.60">*</text>
<line x1="208.10" y1="436.50" x2="262.50" y2="436.50" stroke="#222" stroke-width="0.9"/>
<line x1="208.10" y1="436.50" x2="208.10" y2="438.10" stroke="#222" stroke-width="0.9"/>
<line x1="262.50" y1="436.50" x2="262.50" y2="438.10" stroke="#222" stroke-width="0.9"/>
<text font-size="5.2" text-anchor="middle" fill="#333" stroke="#333" stroke-width="0.12" x="235.50" y="435.30">NS</text>
<line x1="208.10" y1="446.10" x2="217.70" y2="446.10" stroke="#222" stroke-width="0.9"/>
<line x1="208.10" y1="446.10" x2="208.10" y2="447.70" stroke="#222" stroke-width="0.9"/>
<line x1="217.70" y1="446.10" x2="217.70" y2="447.70" stroke="#222" stroke-width="0.9"/>
<text font-size="5.2" text-anchor="middle" fill="#333" stroke="#333" stroke-width="0.12" x="213.30" y="444.90">NS</text>
<line x1="262.50" y1="443.20" x2="271.50" y2="443.20" stroke="#222" stroke-width="0.9"/>
<line x1="262.50" y1="443.20" x2="262.50" y2="444.80" stroke="#222" stroke-width="0.9"/>
<line x1="271.50" y1="443.20" x2="271.50" y2="444.80" stroke="#222" stroke-width="0.9"/>
<text font-size="5.2" text-anchor="middle" fill="#333" stroke="#333" stroke-width="0.12" x="266.70" y="442.00">NS</text>
<text font-size="7.5" text-anchor="end" stroke="#262626" stroke-width="0.12" x="55.40" y="496.80">Pev (µM)</text>
<text font-size="7.5" text-anchor="end" stroke="#262626" stroke-width="0.12" x="55.40" y="506.30">TNFα (ng/mL)</text>
<text font-size="7.5" text-anchor="end" stroke="#262626" stroke-width="0.12" x="55.40" y="515.60">Rux (µM)</text>
<text font-size="7.5" text-anchor="end" stroke="#262626" stroke-width="0.12" x="55.40" y="524.90">n =</text>
<text font-size="7.5" text-anchor="middle" stroke="#262626" stroke-width="0.12" x="70.00" y="496.80">–</text>
<text font-size="7.5" text-anchor="middle" stroke="#262626" stroke-width="0.12" x="70.00" y="506.30">–</text>
<text font-size="7.5" text-anchor="middle" stroke="#262626" stroke-width="0.12" x="70.00" y="515.60">–</text>
<line x1="70.00" y1="485.40" x2="70.00" y2="487.80" stroke="#262626" stroke-width="0.8"/>
<text font-size="7.5" text-anchor="middle" stroke="#262626" stroke-width="0.12" x="88.00" y="496.80">0.04</text>
<text font-size="7.5" text-anchor="middle" stroke="#262626" stroke-width="0.12" x="88.00" y="506.30">–</text>
<text font-size="7.5" text-anchor="middle" stroke="#262626" stroke-width="0.12" x="88.00" y="515.60">–</text>
<line x1="88.00" y1="485.40" x2="88.00" y2="487.80" stroke="#262626" stroke-width="0.8"/>
<text font-size="7.5" text-anchor="middle" stroke="#262626" stroke-width="0.12" x="105.50" y="496.80">0.2</text>
<text font-size="7.5" text-anchor="middle" stroke="#262626" stroke-width="0.12" x="105.50" y="506.30">–</text>
<text font-size="7.5" text-anchor="middle" stroke="#262626" stroke-width="0.12" x="105.50" y="515.60">–</text>
<line x1="105.50" y1="485.40" x2="105.50" y2="487.80" stroke="#262626" stroke-width="0.8"/>
<text font-size="7.5" text-anchor="middle" stroke="#262626" stroke-width="0.12" x="123.00" y="496.80">1</text>
<text font-size="7.5" text-anchor="middle" stroke="#262626" stroke-width="0.12" x="123.00" y="506.30">–</text>
<text font-size="7.5" text-anchor="middle" stroke="#262626" stroke-width="0.12" x="123.00" y="515.60">–</text>
<line x1="123.00" y1="485.40" x2="123.00" y2="487.80" stroke="#262626" stroke-width="0.8"/>
<text font-size="7.5" text-anchor="middle" stroke="#262626" stroke-width="0.12" x="141.50" y="496.80">–</text>
<text font-size="7.5" text-anchor="middle" stroke="#262626" stroke-width="0.12" x="141.50" y="506.30">10</text>
<text font-size="7.5" text-anchor="middle" stroke="#262626" stroke-width="0.12" x="141.50" y="515.60">–</text>
<line x1="141.50" y1="485.40" x2="141.50" y2="487.80" stroke="#262626" stroke-width="0.8"/>
<text font-size="7.5" text-anchor="middle" stroke="#262626" stroke-width="0.12" x="159.40" y="496.80">0.04</text>
<text font-size="7.5" text-anchor="middle" stroke="#262626" stroke-width="0.12" x="159.40" y="506.30">10</text>
<text font-size="7.5" text-anchor="middle" stroke="#262626" stroke-width="0.12" x="159.40" y="515.60">–</text>
<line x1="159.40" y1="485.40" x2="159.40" y2="487.80" stroke="#262626" stroke-width="0.8"/>
<text font-size="7.5" text-anchor="middle" stroke="#262626" stroke-width="0.12" x="177.00" y="496.80">0.2</text>
<text font-size="7.5" text-anchor="middle" stroke="#262626" stroke-width="0.12" x="177.00" y="506.30">10</text>
<text font-size="7.5" text-anchor="middle" stroke="#262626" stroke-width="0.12" x="177.00" y="515.60">–</text>
<line x1="177.00" y1="485.40" x2="177.00" y2="487.80" stroke="#262626" stroke-width="0.8"/>
<text font-size="7.5" text-anchor="middle" stroke="#262626" stroke-width="0.12" x="194.90" y="496.80">1</text>
<text font-size="7.5" text-anchor="middle" stroke="#262626" stroke-width="0.12" x="194.90" y="506.30">10</text>
<text font-size="7.5" text-anchor="middle" stroke="#262626" stroke-width="0.12" x="194.90" y="515.60">–</text>
<line x1="194.90" y1="485.40" x2="194.90" y2="487.80" stroke="#262626" stroke-width="0.8"/>
<text font-size="7.5" text-anchor="middle" stroke="#262626" stroke-width="0.12" x="213.00" y="496.80">–</text>
<text font-size="7.5" text-anchor="middle" stroke="#262626" stroke-width="0.12" x="213.00" y="506.30">–</text>
<text font-size="7.5" text-anchor="middle" stroke="#262626" stroke-width="0.12" x="213.00" y="515.60">0.2</text>
<line x1="213.00" y1="485.40" x2="213.00" y2="487.80" stroke="#262626" stroke-width="0.8"/>
<text font-size="7.5" text-anchor="middle" stroke="#262626" stroke-width="0.12" x="230.40" y="496.80">0.04</text>
<text font-size="7.5" text-anchor="middle" stroke="#262626" stroke-width="0.12" x="230.40" y="506.30">–</text>
<text font-size="7.5" text-anchor="middle" stroke="#262626" stroke-width="0.12" x="230.40" y="515.60">0.2</text>
<line x1="230.40" y1="485.40" x2="230.40" y2="487.80" stroke="#262626" stroke-width="0.8"/>
<text font-size="7.5" text-anchor="middle" stroke="#262626" stroke-width="0.12" x="248.30" y="496.80">0.2</text>
<text font-size="7.5" text-anchor="middle" stroke="#262626" stroke-width="0.12" x="248.30" y="506.30">–</text>
<text font-size="7.5" text-anchor="middle" stroke="#262626" stroke-width="0.12" x="248.30" y="515.60">0.2</text>
<line x1="248.30" y1="485.40" x2="248.30" y2="487.80" stroke="#262626" stroke-width="0.8"/>
<text font-size="7.5" text-anchor="middle" stroke="#262626" stroke-width="0.12" x="265.60" y="496.80">1</text>
<text font-size="7.5" text-anchor="middle" stroke="#262626" stroke-width="0.12" x="265.60" y="506.30">–</text>
<text font-size="7.5" text-anchor="middle" stroke="#262626" stroke-width="0.12" x="265.60" y="515.60">0.2</text>
<line x1="265.60" y1="485.40" x2="265.60" y2="487.80" stroke="#262626" stroke-width="0.8"/>
<text font-size="7.5" text-anchor="middle" stroke="#262626" stroke-width="0.12" x="63.30" y="524.90">7</text>
<text font-size="7.5" text-anchor="middle" stroke="#262626" stroke-width="0.12" x="72.39" y="524.90">6</text>
<text font-size="7.5" text-anchor="middle" stroke="#262626" stroke-width="0.12" x="81.48" y="524.90">7</text>
<text font-size="7.5" text-anchor="middle" stroke="#262626" stroke-width="0.12" x="90.57" y="524.90">6</text>
<text font-size="7.5" text-anchor="middle" stroke="#262626" stroke-width="0.12" x="99.66" y="524.90">7</text>
<text font-size="7.5" text-anchor="middle" stroke="#262626" stroke-width="0.12" x="108.75" y="524.90">6</text>
<text font-size="7.5" text-anchor="middle" stroke="#262626" stroke-width="0.12" x="117.84" y="524.90">7</text>
<text font-size="7.5" text-anchor="middle" stroke="#262626" stroke-width="0.12" x="126.93" y="524.90">6</text>
<text font-size="7.5" text-anchor="middle" stroke="#262626" stroke-width="0.12" x="136.02" y="524.90">3</text>
<text font-size="7.5" text-anchor="middle" stroke="#262626" stroke-width="0.12" x="145.11" y="524.90">3</text>
<text font-size="7.5" text-anchor="middle" stroke="#262626" stroke-width="0.12" x="154.20" y="524.90">3</text>
<text font-size="7.5" text-anchor="middle" stroke="#262626" stroke-width="0.12" x="163.29" y="524.90">3</text>
<text font-size="7.5" text-anchor="middle" stroke="#262626" stroke-width="0.12" x="172.38" y="524.90">3</text>
<text font-size="7.5" text-anchor="middle" stroke="#262626" stroke-width="0.12" x="181.47" y="524.90">3</text>
<text font-size="7.5" text-anchor="middle" stroke="#262626" stroke-width="0.12" x="190.56" y="524.90">3</text>
<text font-size="7.5" text-anchor="middle" stroke="#262626" stroke-width="0.12" x="199.65" y="524.90">3</text>
<text font-size="7.5" text-anchor="middle" stroke="#262626" stroke-width="0.12" x="208.74" y="524.90">3</text>
<text font-size="7.5" text-anchor="middle" stroke="#262626" stroke-width="0.12" x="217.83" y="524.90">3</text>
<text font-size="7.5" text-anchor="middle" stroke="#262626" stroke-width="0.12" x="226.92" y="524.90">3</text>
<text font-size="7.5" text-anchor="middle" stroke="#262626" stroke-width="0.12" x="236.01" y="524.90">3</text>
<text font-size="7.5" text-anchor="middle" stroke="#262626" stroke-width="0.12" x="245.10" y="524.90">3</text>
<text font-size="7.5" text-anchor="middle" stroke="#262626" stroke-width="0.12" x="254.19" y="524.90">3</text>
<text font-size="7.5" text-anchor="middle" stroke="#262626" stroke-width="0.12" x="263.28" y="524.90">3</text>
<text font-size="7.5" text-anchor="middle" stroke="#262626" stroke-width="0.12" x="272.37" y="524.90">3</text>
<text font-size="11.6" font-weight="bold" fill="#000" stroke="#000" stroke-width="0.15" x="7.60" y="548.80">I</text>
<line x1="61.20" y1="554.80" x2="61.20" y2="626.40" stroke="#262626" stroke-width="0.9"/>
<line x1="58.40" y1="626.40" x2="61.20" y2="626.40" stroke="#262626" stroke-width="0.9"/>
<text font-size="7.2" text-anchor="end" stroke="#262626" stroke-width="0.12" transform="translate(55.30 629.42) scale(1.100 1)">0</text>
<line x1="58.40" y1="602.53" x2="61.20" y2="602.53" stroke="#262626" stroke-width="0.9"/>
<text font-size="7.2" text-anchor="end" stroke="#262626" stroke-width="0.12" transform="translate(55.30 605.55) scale(1.100 1)">4</text>
<line x1="58.40" y1="578.67" x2="61.20" y2="578.67" stroke="#262626" stroke-width="0.9"/>
<text font-size="7.2" text-anchor="end" stroke="#262626" stroke-width="0.12" transform="translate(55.30 581.69) scale(1.100 1)">8</text>
<line x1="58.40" y1="554.80" x2="61.20" y2="554.80" stroke="#262626" stroke-width="0.9"/>
<text font-size="7.2" text-anchor="end" stroke="#262626" stroke-width="0.12" transform="translate(55.30 557.82) scale(1.100 1)">12</text>
<rect x="66.00" y="620.43" width="8.00" height="5.97" fill="#eea1b2"/>
<line x1="66.00" y1="620.43" x2="74.00" y2="620.43" stroke="#c8102e" stroke-width="0.9"/>
<rect x="78.97" y="624.01" width="8.00" height="2.39" fill="#eea1b2"/>
<line x1="78.97" y1="624.01" x2="86.97" y2="624.01" stroke="#c8102e" stroke-width="0.9"/>
<rect x="91.94" y="599.55" width="8.00" height="26.85" fill="#eea1b2"/>
<line x1="91.94" y1="599.55" x2="99.94" y2="599.55" stroke="#c8102e" stroke-width="0.9"/>
<rect x="104.91" y="621.63" width="8.00" height="4.77" fill="#eea1b2"/>
<line x1="104.91" y1="621.63" x2="112.91" y2="621.63" stroke="#c8102e" stroke-width="0.9"/>
<rect x="117.88" y="620.43" width="8.00" height="5.97" fill="#7888bb"/>
<line x1="117.88" y1="620.43" x2="125.88" y2="620.43" stroke="#0f4c82" stroke-width="0.9"/>
<rect x="130.85" y="623.12" width="8.00" height="3.28" fill="#7888bb"/>
<line x1="130.85" y1="623.12" x2="138.85" y2="623.12" stroke="#0f4c82" stroke-width="0.9"/>
<rect x="143.82" y="595.97" width="8.00" height="30.43" fill="#7888bb"/>
<line x1="143.82" y1="595.97" x2="151.82" y2="595.97" stroke="#0f4c82" stroke-width="0.9"/>
<rect x="156.79" y="619.24" width="8.00" height="7.16" fill="#7888bb"/>
<line x1="156.79" y1="619.24" x2="164.79" y2="619.24" stroke="#0f4c82" stroke-width="0.9"/>
<line x1="95.94" y1="610.29" x2="95.94" y2="588.21" stroke="#c8102e" stroke-width="1.0"/>
<line x1="94.04" y1="588.21" x2="97.84" y2="588.21" stroke="#c8102e" stroke-width="1.0"/>
<line x1="94.04" y1="610.29" x2="97.84" y2="610.29" stroke="#c8102e" stroke-width="1.0"/>
<line x1="147.82" y1="613.87" x2="147.82" y2="577.47" stroke="#0f4c82" stroke-width="1.0"/>
<line x1="145.92" y1="577.47" x2="149.72" y2="577.47" stroke="#0f4c82" stroke-width="1.0"/>
<line x1="145.92" y1="613.87" x2="149.72" y2="613.87" stroke="#0f4c82" stroke-width="1.0"/>
<line x1="160.79" y1="623.42" x2="160.79" y2="615.06" stroke="#0f4c82" stroke-width="1.0"/>
<line x1="158.89" y1="615.06" x2="162.69" y2="615.06" stroke="#0f4c82" stroke-width="1.0"/>
<line x1="158.89" y1="623.42" x2="162.69" y2="623.42" stroke="#0f4c82" stroke-width="1.0"/>
<circle cx="68.00" cy="620.43" r="1.3" fill="#c8102e"/>
<circle cx="72.00" cy="620.43" r="1.3" fill="#c8102e"/>
<circle cx="70.00" cy="620.43" r="1.3" fill="#c8102e"/>
<circle cx="69.00" cy="620.43" r="1.3" fill="#c8102e"/>
<circle cx="71.00" cy="620.43" r="1.3" fill="#c8102e"/>
<circle cx="80.97" cy="624.61" r="1.3" fill="#c8102e"/>
<circle cx="84.97" cy="624.01" r="1.3" fill="#c8102e"/>
<circle cx="82.97" cy="623.42" r="1.3" fill="#c8102e"/>
<circle cx="81.97" cy="624.61" r="1.3" fill="#c8102e"/>
<circle cx="93.94" cy="590.60" r="1.3" fill="#c8102e"/>
<circle cx="97.94" cy="589.41" r="1.3" fill="#c8102e"/>
<circle cx="95.94" cy="599.55" r="1.3" fill="#c8102e"/>
<circle cx="94.94" cy="606.71" r="1.3" fill="#c8102e"/>
<circle cx="96.94" cy="612.68" r="1.3" fill="#c8102e"/>
<circle cx="106.91" cy="622.22" r="1.3" fill="#c8102e"/>
<circle cx="110.91" cy="621.63" r="1.3" fill="#c8102e"/>
<circle cx="108.91" cy="621.03" r="1.3" fill="#c8102e"/>
<circle cx="107.91" cy="622.82" r="1.3" fill="#c8102e"/>
<rect x="118.58" y="619.13" width="2.60" height="2.60" fill="#0f4c82"/>
<rect x="122.58" y="619.13" width="2.60" height="2.60" fill="#0f4c82"/>
<rect x="120.58" y="619.13" width="2.60" height="2.60" fill="#0f4c82"/>
<rect x="119.58" y="619.13" width="2.60" height="2.60" fill="#0f4c82"/>
<rect x="121.58" y="619.13" width="2.60" height="2.60" fill="#0f4c82"/>
<rect x="131.55" y="622.71" width="2.60" height="2.60" fill="#0f4c82"/>
<rect x="135.55" y="621.52" width="2.60" height="2.60" fill="#0f4c82"/>
<rect x="133.55" y="622.12" width="2.60" height="2.60" fill="#0f4c82"/>
<rect x="132.55" y="620.92" width="2.60" height="2.60" fill="#0f4c82"/>
<rect x="144.52" y="568.42" width="2.60" height="2.60" fill="#0f4c82"/>
<rect x="148.52" y="580.35" width="2.60" height="2.60" fill="#0f4c82"/>
<rect x="146.52" y="587.51" width="2.60" height="2.60" fill="#0f4c82"/>
<rect x="145.52" y="606.01" width="2.60" height="2.60" fill="#0f4c82"/>
<rect x="147.52" y="613.76" width="2.60" height="2.60" fill="#0f4c82"/>
<rect x="144.02" y="613.76" width="2.60" height="2.60" fill="#0f4c82"/>
<rect x="149.02" y="606.01" width="2.60" height="2.60" fill="#0f4c82"/>
<rect x="157.49" y="621.52" width="2.60" height="2.60" fill="#0f4c82"/>
<rect x="161.49" y="619.13" width="2.60" height="2.60" fill="#0f4c82"/>
<rect x="159.49" y="616.15" width="2.60" height="2.60" fill="#0f4c82"/>
<rect x="158.49" y="611.97" width="2.60" height="2.60" fill="#0f4c82"/>
<rect x="160.49" y="622.12" width="2.60" height="2.60" fill="#0f4c82"/>
<rect x="156.99" y="620.33" width="2.60" height="2.60" fill="#0f4c82"/>
<line x1="61.20" y1="626.40" x2="168.00" y2="626.40" stroke="#262626" stroke-width="0.9"/>
<line x1="70.00" y1="626.40" x2="70.00" y2="628.80" stroke="#262626" stroke-width="0.8"/>
<text font-size="7.6" text-anchor="end" stroke="#262626" stroke-width="0.12" transform="translate(72.70 635.60) rotate(-45)">Basal</text>
<line x1="82.97" y1="626.40" x2="82.97" y2="628.80" stroke="#262626" stroke-width="0.8"/>
<text font-size="7.6" text-anchor="end" stroke="#262626" stroke-width="0.12" transform="translate(85.67 635.60) rotate(-45)">Pev</text>
<line x1="95.94" y1="626.40" x2="95.94" y2="628.80" stroke="#262626" stroke-width="0.8"/>
<text font-size="7.6" text-anchor="end" stroke="#262626" stroke-width="0.12" transform="translate(98.64 635.60) rotate(-45)">TNFα</text>
<line x1="108.91" y1="626.40" x2="108.91" y2="628.80" stroke="#262626" stroke-width="0.8"/>
<text font-size="7.6" text-anchor="end" stroke="#262626" stroke-width="0.12" transform="translate(111.61 635.60) rotate(-45)">Pev + TNFα</text>
<line x1="121.88" y1="626.40" x2="121.88" y2="628.80" stroke="#262626" stroke-width="0.8"/>
<text font-size="7.6" text-anchor="end" stroke="#262626" stroke-width="0.12" transform="translate(124.58 635.60) rotate(-45)">Basal</text>
<line x1="134.85" y1="626.40" x2="134.85" y2="628.80" stroke="#262626" stroke-width="0.8"/>
<text font-size="7.6" text-anchor="end" stroke="#262626" stroke-width="0.12" transform="translate(137.55 635.60) rotate(-45)">Pev</text>
<line x1="147.82" y1="626.40" x2="147.82" y2="628.80" stroke="#262626" stroke-width="0.8"/>
<text font-size="7.6" text-anchor="end" stroke="#262626" stroke-width="0.12" transform="translate(150.52 635.60) rotate(-45)">TNFα</text>
<line x1="160.79" y1="626.40" x2="160.79" y2="628.80" stroke="#262626" stroke-width="0.8"/>
<text font-size="7.6" text-anchor="end" stroke="#262626" stroke-width="0.12" transform="translate(163.49 635.60) rotate(-45)">Pev + TNFα</text>
<text font-size="9.3" text-anchor="middle" font-style="italic" stroke="#262626" stroke-width="0.12" x="115.00" y="550.00">NFKBIA</text>
<text font-size="8.4" text-anchor="middle" stroke="#262626" stroke-width="0.26" transform="translate(43.70 591.00) rotate(-90) scale(0.740 1)">Relative mRNA (2<tspan font-size="5" dy="-2.8">−ΔCt</tspan><tspan dy="2.8">)</tspan></text>
<line x1="70.00" y1="573.00" x2="109.20" y2="573.00" stroke="#222" stroke-width="0.9"/>
<line x1="70.00" y1="573.00" x2="70.00" y2="574.50" stroke="#222" stroke-width="0.9"/>
<line x1="109.20" y1="573.00" x2="109.20" y2="574.50" stroke="#222" stroke-width="0.9"/>
<text font-size="5.9" text-anchor="middle" fill="#222" stroke="#222" stroke-width="0.12" x="90.00" y="570.10">NS</text>
<line x1="70.00" y1="580.40" x2="109.20" y2="580.40" stroke="#222" stroke-width="0.9"/>
<line x1="70.00" y1="580.40" x2="70.00" y2="581.90" stroke="#222" stroke-width="0.9"/>
<line x1="109.20" y1="580.40" x2="109.20" y2="581.90" stroke="#222" stroke-width="0.9"/>
<line x1="95.40" y1="580.40" x2="95.40" y2="581.90" stroke="#222" stroke-width="0.9"/>
<text font-size="6.4" text-anchor="middle" fill="#222" stroke="#222" stroke-width="0.12" x="81.00" y="579.80">*</text>
<text font-size="6.4" text-anchor="middle" fill="#222" stroke="#222" stroke-width="0.12" x="101.20" y="579.80">*</text>
<line x1="121.90" y1="559.00" x2="161.20" y2="559.00" stroke="#222" stroke-width="0.9"/>
<line x1="121.90" y1="559.00" x2="121.90" y2="560.50" stroke="#222" stroke-width="0.9"/>
<line x1="161.20" y1="559.00" x2="161.20" y2="560.50" stroke="#222" stroke-width="0.9"/>
<text font-size="5.9" text-anchor="middle" fill="#222" stroke="#222" stroke-width="0.12" x="142.70" y="556.10">NS</text>
<line x1="121.90" y1="566.00" x2="161.20" y2="566.00" stroke="#222" stroke-width="0.9"/>
<line x1="121.90" y1="566.00" x2="121.90" y2="567.50" stroke="#222" stroke-width="0.9"/>
<line x1="161.20" y1="566.00" x2="161.20" y2="567.50" stroke="#222" stroke-width="0.9"/>
<line x1="147.50" y1="566.00" x2="147.50" y2="567.50" stroke="#222" stroke-width="0.9"/>
<text font-size="6.4" text-anchor="middle" fill="#222" stroke="#222" stroke-width="0.12" x="134.60" y="565.60">**</text>
<text font-size="6.4" text-anchor="middle" fill="#222" stroke="#222" stroke-width="0.12" x="154.70" y="565.60">**</text>
<line x1="207.90" y1="554.00" x2="207.90" y2="626.40" stroke="#262626" stroke-width="0.9"/>
<line x1="205.10" y1="626.40" x2="207.90" y2="626.40" stroke="#262626" stroke-width="0.9"/>
<text font-size="7.2" text-anchor="end" stroke="#262626" stroke-width="0.12" transform="translate(202.00 629.42) scale(1.100 1)">0</text>
<line x1="205.10" y1="602.27" x2="207.90" y2="602.27" stroke="#262626" stroke-width="0.9"/>
<text font-size="7.2" text-anchor="end" stroke="#262626" stroke-width="0.12" transform="translate(202.00 605.29) scale(1.100 1)">5</text>
<line x1="205.10" y1="578.13" x2="207.90" y2="578.13" stroke="#262626" stroke-width="0.9"/>
<text font-size="7.2" text-anchor="end" stroke="#262626" stroke-width="0.12" transform="translate(202.00 581.15) scale(1.100 1)">10</text>
<line x1="205.10" y1="554.00" x2="207.90" y2="554.00" stroke="#262626" stroke-width="0.9"/>
<text font-size="7.2" text-anchor="end" stroke="#262626" stroke-width="0.12" transform="translate(202.00 557.02) scale(1.100 1)">15</text>
<rect x="212.70" y="621.57" width="8.00" height="4.83" fill="#eea1b2"/>
<line x1="212.70" y1="621.57" x2="220.70" y2="621.57" stroke="#c8102e" stroke-width="0.9"/>
<rect x="225.67" y="624.47" width="8.00" height="1.93" fill="#eea1b2"/>
<line x1="225.67" y1="624.47" x2="233.67" y2="624.47" stroke="#c8102e" stroke-width="0.9"/>
<rect x="238.64" y="607.58" width="8.00" height="18.82" fill="#eea1b2"/>
<line x1="238.64" y1="607.58" x2="246.64" y2="607.58" stroke="#c8102e" stroke-width="0.9"/>
<rect x="251.61" y="622.54" width="8.00" height="3.86" fill="#eea1b2"/>
<line x1="251.61" y1="622.54" x2="259.61" y2="622.54" stroke="#c8102e" stroke-width="0.9"/>
<rect x="264.58" y="621.57" width="8.00" height="4.83" fill="#7888bb"/>
<line x1="264.58" y1="621.57" x2="272.58" y2="621.57" stroke="#0f4c82" stroke-width="0.9"/>
<rect x="277.55" y="622.06" width="8.00" height="4.34" fill="#7888bb"/>
<line x1="277.55" y1="622.06" x2="285.55" y2="622.06" stroke="#0f4c82" stroke-width="0.9"/>
<rect x="290.52" y="603.23" width="8.00" height="23.17" fill="#7888bb"/>
<line x1="290.52" y1="603.23" x2="298.52" y2="603.23" stroke="#0f4c82" stroke-width="0.9"/>
<rect x="303.49" y="620.13" width="8.00" height="6.27" fill="#7888bb"/>
<line x1="303.49" y1="620.13" x2="311.49" y2="620.13" stroke="#0f4c82" stroke-width="0.9"/>
<line x1="242.64" y1="610.95" x2="242.64" y2="604.20" stroke="#c8102e" stroke-width="1.0"/>
<line x1="240.74" y1="604.20" x2="244.54" y2="604.20" stroke="#c8102e" stroke-width="1.0"/>
<line x1="240.74" y1="610.95" x2="244.54" y2="610.95" stroke="#c8102e" stroke-width="1.0"/>
<line x1="281.55" y1="624.95" x2="281.55" y2="617.71" stroke="#0f4c82" stroke-width="1.0"/>
<line x1="279.65" y1="617.71" x2="283.45" y2="617.71" stroke="#0f4c82" stroke-width="1.0"/>
<line x1="279.65" y1="624.95" x2="283.45" y2="624.95" stroke="#0f4c82" stroke-width="1.0"/>
<line x1="294.52" y1="619.64" x2="294.52" y2="586.82" stroke="#0f4c82" stroke-width="1.0"/>
<line x1="292.62" y1="586.82" x2="296.42" y2="586.82" stroke="#0f4c82" stroke-width="1.0"/>
<line x1="292.62" y1="619.64" x2="296.42" y2="619.64" stroke="#0f4c82" stroke-width="1.0"/>
<line x1="307.49" y1="624.47" x2="307.49" y2="614.33" stroke="#0f4c82" stroke-width="1.0"/>
<line x1="305.59" y1="614.33" x2="309.39" y2="614.33" stroke="#0f4c82" stroke-width="1.0"/>
<line x1="305.59" y1="624.47" x2="309.39" y2="624.47" stroke="#0f4c82" stroke-width="1.0"/>
<circle cx="214.70" cy="621.57" r="1.3" fill="#c8102e"/>
<circle cx="218.70" cy="621.57" r="1.3" fill="#c8102e"/>
<circle cx="216.70" cy="621.57" r="1.3" fill="#c8102e"/>
<circle cx="215.70" cy="621.57" r="1.3" fill="#c8102e"/>
<circle cx="227.67" cy="624.95" r="1.3" fill="#c8102e"/>
<circle cx="231.67" cy="624.47" r="1.3" fill="#c8102e"/>
<circle cx="229.67" cy="623.99" r="1.3" fill="#c8102e"/>
<circle cx="228.67" cy="624.47" r="1.3" fill="#c8102e"/>
<circle cx="240.64" cy="604.68" r="1.3" fill="#c8102e"/>
<circle cx="244.64" cy="606.13" r="1.3" fill="#c8102e"/>
<circle cx="242.64" cy="609.51" r="1.3" fill="#c8102e"/>
<circle cx="241.64" cy="611.44" r="1.3" fill="#c8102e"/>
<circle cx="243.64" cy="605.16" r="1.3" fill="#c8102e"/>
<circle cx="253.61" cy="623.02" r="1.3" fill="#c8102e"/>
<circle cx="257.61" cy="622.54" r="1.3" fill="#c8102e"/>
<circle cx="255.61" cy="622.06" r="1.3" fill="#c8102e"/>
<circle cx="254.61" cy="623.50" r="1.3" fill="#c8102e"/>
<rect x="265.28" y="620.27" width="2.60" height="2.60" fill="#0f4c82"/>
<rect x="269.28" y="620.27" width="2.60" height="2.60" fill="#0f4c82"/>
<rect x="267.28" y="620.27" width="2.60" height="2.60" fill="#0f4c82"/>
<rect x="266.28" y="620.27" width="2.60" height="2.60" fill="#0f4c82"/>
<rect x="278.25" y="622.69" width="2.60" height="2.60" fill="#0f4c82"/>
<rect x="282.25" y="620.27" width="2.60" height="2.60" fill="#0f4c82"/>
<rect x="280.25" y="616.41" width="2.60" height="2.60" fill="#0f4c82"/>
<rect x="279.25" y="621.72" width="2.60" height="2.60" fill="#0f4c82"/>
<rect x="281.25" y="620.76" width="2.60" height="2.60" fill="#0f4c82"/>
<rect x="291.22" y="573.45" width="2.60" height="2.60" fill="#0f4c82"/>
<rect x="295.22" y="594.69" width="2.60" height="2.60" fill="#0f4c82"/>
<rect x="293.22" y="601.93" width="2.60" height="2.60" fill="#0f4c82"/>
<rect x="292.22" y="607.72" width="2.60" height="2.60" fill="#0f4c82"/>
<rect x="294.22" y="618.34" width="2.60" height="2.60" fill="#0f4c82"/>
<rect x="290.72" y="618.34" width="2.60" height="2.60" fill="#0f4c82"/>
<rect x="304.19" y="618.34" width="2.60" height="2.60" fill="#0f4c82"/>
<rect x="308.19" y="608.69" width="2.60" height="2.60" fill="#0f4c82"/>
<rect x="306.19" y="620.76" width="2.60" height="2.60" fill="#0f4c82"/>
<rect x="305.19" y="619.31" width="2.60" height="2.60" fill="#0f4c82"/>
<rect x="307.19" y="622.20" width="2.60" height="2.60" fill="#0f4c82"/>
<line x1="207.90" y1="626.40" x2="313.00" y2="626.40" stroke="#262626" stroke-width="0.9"/>
<line x1="216.70" y1="626.40" x2="216.70" y2="628.80" stroke="#262626" stroke-width="0.8"/>
<text font-size="7.6" text-anchor="end" stroke="#262626" stroke-width="0.12" transform="translate(219.40 635.60) rotate(-45)">Basal</text>
<line x1="229.67" y1="626.40" x2="229.67" y2="628.80" stroke="#262626" stroke-width="0.8"/>
<text font-size="7.6" text-anchor="end" stroke="#262626" stroke-width="0.12" transform="translate(232.37 635.60) rotate(-45)">Pev</text>
<line x1="242.64" y1="626.40" x2="242.64" y2="628.80" stroke="#262626" stroke-width="0.8"/>
<text font-size="7.6" text-anchor="end" stroke="#262626" stroke-width="0.12" transform="translate(245.34 635.60) rotate(-45)">TNFα</text>
<line x1="255.61" y1="626.40" x2="255.61" y2="628.80" stroke="#262626" stroke-width="0.8"/>
<text font-size="7.6" text-anchor="end" stroke="#262626" stroke-width="0.12" transform="translate(258.31 635.60) rotate(-45)">Pev + TNFα</text>
<line x1="268.58" y1="626.40" x2="268.58" y2="628.80" stroke="#262626" stroke-width="0.8"/>
<text font-size="7.6" text-anchor="end" stroke="#262626" stroke-width="0.12" transform="translate(271.28 635.60) rotate(-45)">Basal</text>
<line x1="281.55" y1="626.40" x2="281.55" y2="628.80" stroke="#262626" stroke-width="0.8"/>
<text font-size="7.6" text-anchor="end" stroke="#262626" stroke-width="0.12" transform="translate(284.25 635.60) rotate(-45)">Pev</text>
<line x1="294.52" y1="626.40" x2="294.52" y2="628.80" stroke="#262626" stroke-width="0.8"/>
<text font-size="7.6" text-anchor="end" stroke="#262626" stroke-width="0.12" transform="translate(297.22 635.60) rotate(-45)">TNFα</text>
<line x1="307.49" y1="626.40" x2="307.49" y2="628.80" stroke="#262626" stroke-width="0.8"/>
<text font-size="7.6" text-anchor="end" stroke="#262626" stroke-width="0.12" transform="translate(310.19 635.60) rotate(-45)">Pev + TNFα</text>
<text font-size="9.3" text-anchor="middle" font-style="italic" stroke="#262626" stroke-width="0.12" x="262.30" y="550.00">NFKB1</text>
<text font-size="8.4" text-anchor="middle" stroke="#262626" stroke-width="0.26" transform="translate(190.40 591.00) rotate(-90) scale(0.740 1)">Relative mRNA (2<tspan font-size="5" dy="-2.8">−ΔCt</tspan><tspan dy="2.8">)</tspan></text>
<line x1="216.80" y1="584.00" x2="255.90" y2="584.00" stroke="#222" stroke-width="0.9"/>
<line x1="216.80" y1="584.00" x2="216.80" y2="585.50" stroke="#222" stroke-width="0.9"/>
<line x1="255.90" y1="584.00" x2="255.90" y2="585.50" stroke="#222" stroke-width="0.9"/>
<text font-size="5.9" text-anchor="middle" fill="#222" stroke="#222" stroke-width="0.12" x="236.90" y="581.10">NS</text>
<line x1="216.80" y1="591.60" x2="255.90" y2="591.60" stroke="#222" stroke-width="0.9"/>
<line x1="216.80" y1="591.60" x2="216.80" y2="593.10" stroke="#222" stroke-width="0.9"/>
<line x1="255.90" y1="591.60" x2="255.90" y2="593.10" stroke="#222" stroke-width="0.9"/>
<line x1="242.70" y1="591.60" x2="242.70" y2="593.10" stroke="#222" stroke-width="0.9"/>
<text font-size="6.4" text-anchor="middle" fill="#222" stroke="#222" stroke-width="0.12" x="227.10" y="591.20">*</text>
<text font-size="6.4" text-anchor="middle" fill="#222" stroke="#222" stroke-width="0.12" x="248.10" y="591.20">*</text>
<line x1="269.30" y1="559.50" x2="308.30" y2="559.50" stroke="#222" stroke-width="0.9"/>
<line x1="269.30" y1="559.50" x2="269.30" y2="561.00" stroke="#222" stroke-width="0.9"/>
<line x1="308.30" y1="559.50" x2="308.30" y2="561.00" stroke="#222" stroke-width="0.9"/>
<text font-size="5.9" text-anchor="middle" fill="#222" stroke="#222" stroke-width="0.12" x="288.00" y="555.30">NS</text>
<line x1="269.30" y1="566.50" x2="308.30" y2="566.50" stroke="#222" stroke-width="0.9"/>
<line x1="269.30" y1="566.50" x2="269.30" y2="568.00" stroke="#222" stroke-width="0.9"/>
<line x1="308.30" y1="566.50" x2="308.30" y2="568.00" stroke="#222" stroke-width="0.9"/>
<line x1="294.50" y1="566.50" x2="294.50" y2="568.00" stroke="#222" stroke-width="0.9"/>
<text font-size="6.4" text-anchor="middle" fill="#222" stroke="#222" stroke-width="0.12" x="279.60" y="566.10">**</text>
<text font-size="6.4" text-anchor="middle" fill="#222" stroke="#222" stroke-width="0.12" x="300.00" y="566.10">**</text>
<line x1="353.20" y1="555.20" x2="353.20" y2="626.10" stroke="#262626" stroke-width="0.9"/>
<line x1="350.40" y1="626.10" x2="353.20" y2="626.10" stroke="#262626" stroke-width="0.9"/>
<text font-size="7.2" text-anchor="end" stroke="#262626" stroke-width="0.12" transform="translate(347.30 629.12) scale(1.100 1)">0</text>
<line x1="350.40" y1="611.92" x2="353.20" y2="611.92" stroke="#262626" stroke-width="0.9"/>
<text font-size="7.2" text-anchor="end" stroke="#262626" stroke-width="0.12" transform="translate(347.30 614.94) scale(1.100 1)">5</text>
<line x1="350.40" y1="597.74" x2="353.20" y2="597.74" stroke="#262626" stroke-width="0.9"/>
<text font-size="7.2" text-anchor="end" stroke="#262626" stroke-width="0.12" transform="translate(347.30 600.76) scale(1.100 1)">10</text>
<line x1="350.40" y1="583.56" x2="353.20" y2="583.56" stroke="#262626" stroke-width="0.9"/>
<text font-size="7.2" text-anchor="end" stroke="#262626" stroke-width="0.12" transform="translate(347.30 586.58) scale(1.100 1)">15</text>
<line x1="350.40" y1="569.38" x2="353.20" y2="569.38" stroke="#262626" stroke-width="0.9"/>
<text font-size="7.2" text-anchor="end" stroke="#262626" stroke-width="0.12" transform="translate(347.30 572.40) scale(1.100 1)">20</text>
<line x1="350.40" y1="555.20" x2="353.20" y2="555.20" stroke="#262626" stroke-width="0.9"/>
<text font-size="7.2" text-anchor="end" stroke="#262626" stroke-width="0.12" transform="translate(347.30 558.22) scale(1.100 1)">25</text>
<rect x="358.00" y="623.26" width="8.00" height="2.84" fill="#eea1b2"/>
<line x1="358.00" y1="623.26" x2="366.00" y2="623.26" stroke="#c8102e" stroke-width="0.9"/>
<rect x="370.97" y="625.25" width="8.00" height="0.85" fill="#eea1b2"/>
<line x1="370.97" y1="625.25" x2="378.97" y2="625.25" stroke="#c8102e" stroke-width="0.9"/>
<rect x="383.94" y="618.73" width="8.00" height="7.37" fill="#eea1b2"/>
<line x1="383.94" y1="618.73" x2="391.94" y2="618.73" stroke="#c8102e" stroke-width="0.9"/>
<rect x="396.91" y="623.26" width="8.00" height="2.84" fill="#eea1b2"/>
<line x1="396.91" y1="623.26" x2="404.91" y2="623.26" stroke="#c8102e" stroke-width="0.9"/>
<rect x="409.88" y="623.26" width="8.00" height="2.84" fill="#7888bb"/>
<line x1="409.88" y1="623.26" x2="417.88" y2="623.26" stroke="#0f4c82" stroke-width="0.9"/>
<rect x="422.85" y="623.26" width="8.00" height="2.84" fill="#7888bb"/>
<line x1="422.85" y1="623.26" x2="430.85" y2="623.26" stroke="#0f4c82" stroke-width="0.9"/>
<rect x="435.82" y="611.64" width="8.00" height="14.46" fill="#7888bb"/>
<line x1="435.82" y1="611.64" x2="443.82" y2="611.64" stroke="#0f4c82" stroke-width="0.9"/>
<rect x="448.79" y="620.14" width="8.00" height="5.96" fill="#7888bb"/>
<line x1="448.79" y1="620.14" x2="456.79" y2="620.14" stroke="#0f4c82" stroke-width="0.9"/>
<line x1="439.82" y1="624.68" x2="439.82" y2="589.80" stroke="#0f4c82" stroke-width="1.0"/>
<line x1="437.92" y1="589.80" x2="441.72" y2="589.80" stroke="#0f4c82" stroke-width="1.0"/>
<line x1="437.92" y1="624.68" x2="441.72" y2="624.68" stroke="#0f4c82" stroke-width="1.0"/>
<line x1="452.79" y1="624.68" x2="452.79" y2="613.05" stroke="#0f4c82" stroke-width="1.0"/>
<line x1="450.89" y1="613.05" x2="454.69" y2="613.05" stroke="#0f4c82" stroke-width="1.0"/>
<line x1="450.89" y1="624.68" x2="454.69" y2="624.68" stroke="#0f4c82" stroke-width="1.0"/>
<circle cx="360.00" cy="623.26" r="1.3" fill="#c8102e"/>
<circle cx="364.00" cy="622.70" r="1.3" fill="#c8102e"/>
<circle cx="362.00" cy="623.55" r="1.3" fill="#c8102e"/>
<circle cx="361.00" cy="622.98" r="1.3" fill="#c8102e"/>
<circle cx="372.97" cy="625.53" r="1.3" fill="#c8102e"/>
<circle cx="376.97" cy="624.97" r="1.3" fill="#c8102e"/>
<circle cx="374.97" cy="625.25" r="1.3" fill="#c8102e"/>
<circle cx="385.94" cy="616.17" r="1.3" fill="#c8102e"/>
<circle cx="389.94" cy="616.74" r="1.3" fill="#c8102e"/>
<circle cx="387.94" cy="620.43" r="1.3" fill="#c8102e"/>
<circle cx="386.94" cy="621.56" r="1.3" fill="#c8102e"/>
<circle cx="398.91" cy="622.13" r="1.3" fill="#c8102e"/>
<circle cx="402.91" cy="624.40" r="1.3" fill="#c8102e"/>
<circle cx="400.91" cy="622.70" r="1.3" fill="#c8102e"/>
<circle cx="399.91" cy="623.83" r="1.3" fill="#c8102e"/>
<rect x="410.58" y="621.96" width="2.60" height="2.60" fill="#0f4c82"/>
<rect x="414.58" y="621.96" width="2.60" height="2.60" fill="#0f4c82"/>
<rect x="412.58" y="621.96" width="2.60" height="2.60" fill="#0f4c82"/>
<rect x="411.58" y="621.96" width="2.60" height="2.60" fill="#0f4c82"/>
<rect x="423.55" y="623.67" width="2.60" height="2.60" fill="#0f4c82"/>
<rect x="427.55" y="620.55" width="2.60" height="2.60" fill="#0f4c82"/>
<rect x="425.55" y="621.96" width="2.60" height="2.60" fill="#0f4c82"/>
<rect x="424.55" y="619.70" width="2.60" height="2.60" fill="#0f4c82"/>
<rect x="426.55" y="623.10" width="2.60" height="2.60" fill="#0f4c82"/>
<rect x="436.52" y="567.23" width="2.60" height="2.60" fill="#0f4c82"/>
<rect x="440.52" y="614.02" width="2.60" height="2.60" fill="#0f4c82"/>
<rect x="438.52" y="614.02" width="2.60" height="2.60" fill="#0f4c82"/>
<rect x="437.52" y="621.40" width="2.60" height="2.60" fill="#0f4c82"/>
<rect x="439.52" y="621.96" width="2.60" height="2.60" fill="#0f4c82"/>
<rect x="449.49" y="605.23" width="2.60" height="2.60" fill="#0f4c82"/>
<rect x="453.49" y="619.13" width="2.60" height="2.60" fill="#0f4c82"/>
<rect x="451.49" y="623.10" width="2.60" height="2.60" fill="#0f4c82"/>
<rect x="450.49" y="618.56" width="2.60" height="2.60" fill="#0f4c82"/>
<rect x="452.49" y="621.96" width="2.60" height="2.60" fill="#0f4c82"/>
<line x1="353.20" y1="626.10" x2="461.30" y2="626.10" stroke="#262626" stroke-width="0.9"/>
<line x1="362.00" y1="626.10" x2="362.00" y2="628.50" stroke="#262626" stroke-width="0.8"/>
<text font-size="7.6" text-anchor="end" stroke="#262626" stroke-width="0.12" transform="translate(364.70 635.30) rotate(-45)">Basal</text>
<line x1="374.97" y1="626.10" x2="374.97" y2="628.50" stroke="#262626" stroke-width="0.8"/>
<text font-size="7.6" text-anchor="end" stroke="#262626" stroke-width="0.12" transform="translate(377.67 635.30) rotate(-45)">Pev</text>
<line x1="387.94" y1="626.10" x2="387.94" y2="628.50" stroke="#262626" stroke-width="0.8"/>
<text font-size="7.6" text-anchor="end" stroke="#262626" stroke-width="0.12" transform="translate(390.64 635.30) rotate(-45)">TNFα</text>
<line x1="400.91" y1="626.10" x2="400.91" y2="628.50" stroke="#262626" stroke-width="0.8"/>
<text font-size="7.6" text-anchor="end" stroke="#262626" stroke-width="0.12" transform="translate(403.61 635.30) rotate(-45)">Pev + TNFα</text>
<line x1="413.88" y1="626.10" x2="413.88" y2="628.50" stroke="#262626" stroke-width="0.8"/>
<text font-size="7.6" text-anchor="end" stroke="#262626" stroke-width="0.12" transform="translate(416.58 635.30) rotate(-45)">Basal</text>
<line x1="426.85" y1="626.10" x2="426.85" y2="628.50" stroke="#262626" stroke-width="0.8"/>
<text font-size="7.6" text-anchor="end" stroke="#262626" stroke-width="0.12" transform="translate(429.55 635.30) rotate(-45)">Pev</text>
<line x1="439.82" y1="626.10" x2="439.82" y2="628.50" stroke="#262626" stroke-width="0.8"/>
<text font-size="7.6" text-anchor="end" stroke="#262626" stroke-width="0.12" transform="translate(442.52 635.30) rotate(-45)">TNFα</text>
<line x1="452.79" y1="626.10" x2="452.79" y2="628.50" stroke="#262626" stroke-width="0.8"/>
<text font-size="7.6" text-anchor="end" stroke="#262626" stroke-width="0.12" transform="translate(455.49 635.30) rotate(-45)">Pev + TNFα</text>
<text font-size="9.3" text-anchor="middle" font-style="italic" stroke="#262626" stroke-width="0.12" x="408.00" y="550.00">NFKB2</text>
<text font-size="8.4" text-anchor="middle" stroke="#262626" stroke-width="0.26" transform="translate(335.70 591.00) rotate(-90) scale(0.740 1)">Relative mRNA (2<tspan font-size="5" dy="-2.8">−ΔCt</tspan><tspan dy="2.8">)</tspan></text>
<line x1="362.40" y1="584.00" x2="401.30" y2="584.00" stroke="#222" stroke-width="0.9"/>
<line x1="362.40" y1="584.00" x2="362.40" y2="585.50" stroke="#222" stroke-width="0.9"/>
<line x1="401.30" y1="584.00" x2="401.30" y2="585.50" stroke="#222" stroke-width="0.9"/>
<text font-size="5.9" text-anchor="middle" fill="#222" stroke="#222" stroke-width="0.12" x="380.60" y="581.10">NS</text>
<line x1="362.40" y1="591.20" x2="401.30" y2="591.20" stroke="#222" stroke-width="0.9"/>
<line x1="362.40" y1="591.20" x2="362.40" y2="592.70" stroke="#222" stroke-width="0.9"/>
<line x1="401.30" y1="591.20" x2="401.30" y2="592.70" stroke="#222" stroke-width="0.9"/>
<line x1="388.00" y1="591.20" x2="388.00" y2="592.70" stroke="#222" stroke-width="0.9"/>
<text font-size="6.4" text-anchor="middle" fill="#222" stroke="#222" stroke-width="0.12" x="371.90" y="590.80">*</text>
<text font-size="6.4" text-anchor="middle" fill="#222" stroke="#222" stroke-width="0.12" x="392.10" y="590.80">*</text>
<line x1="414.60" y1="555.20" x2="454.10" y2="555.20" stroke="#222" stroke-width="0.9"/>
<line x1="414.60" y1="555.20" x2="414.60" y2="556.70" stroke="#222" stroke-width="0.9"/>
<line x1="454.10" y1="555.20" x2="454.10" y2="556.70" stroke="#222" stroke-width="0.9"/>
<text font-size="5.9" text-anchor="middle" fill="#222" stroke="#222" stroke-width="0.12" x="433.00" y="551.50">NS</text>
<line x1="414.60" y1="562.40" x2="454.10" y2="562.40" stroke="#222" stroke-width="0.9"/>
<line x1="414.60" y1="562.40" x2="414.60" y2="563.90" stroke="#222" stroke-width="0.9"/>
<line x1="454.10" y1="562.40" x2="454.10" y2="563.90" stroke="#222" stroke-width="0.9"/>
<line x1="440.00" y1="562.40" x2="440.00" y2="563.90" stroke="#222" stroke-width="0.9"/>
<text font-size="6.4" text-anchor="middle" fill="#222" stroke="#222" stroke-width="0.12" x="426.70" y="562.00">*</text>
<text font-size="5.9" text-anchor="middle" fill="#222" stroke="#222" stroke-width="0.12" x="446.30" y="560.10">NS</text>
<circle cx="453.10" cy="537.30" r="1.9" fill="#c8102e"/>
<text font-size="7" stroke="#262626" stroke-width="0.12" x="456.60" y="539.80">Normal BM</text>
<rect x="451.30" y="543.50" width="3.60" height="3.60" fill="#0f4c82"/>
<text font-size="7" stroke="#262626" stroke-width="0.12" x="456.60" y="548.00">MF patient</text>
</svg></body></html>
